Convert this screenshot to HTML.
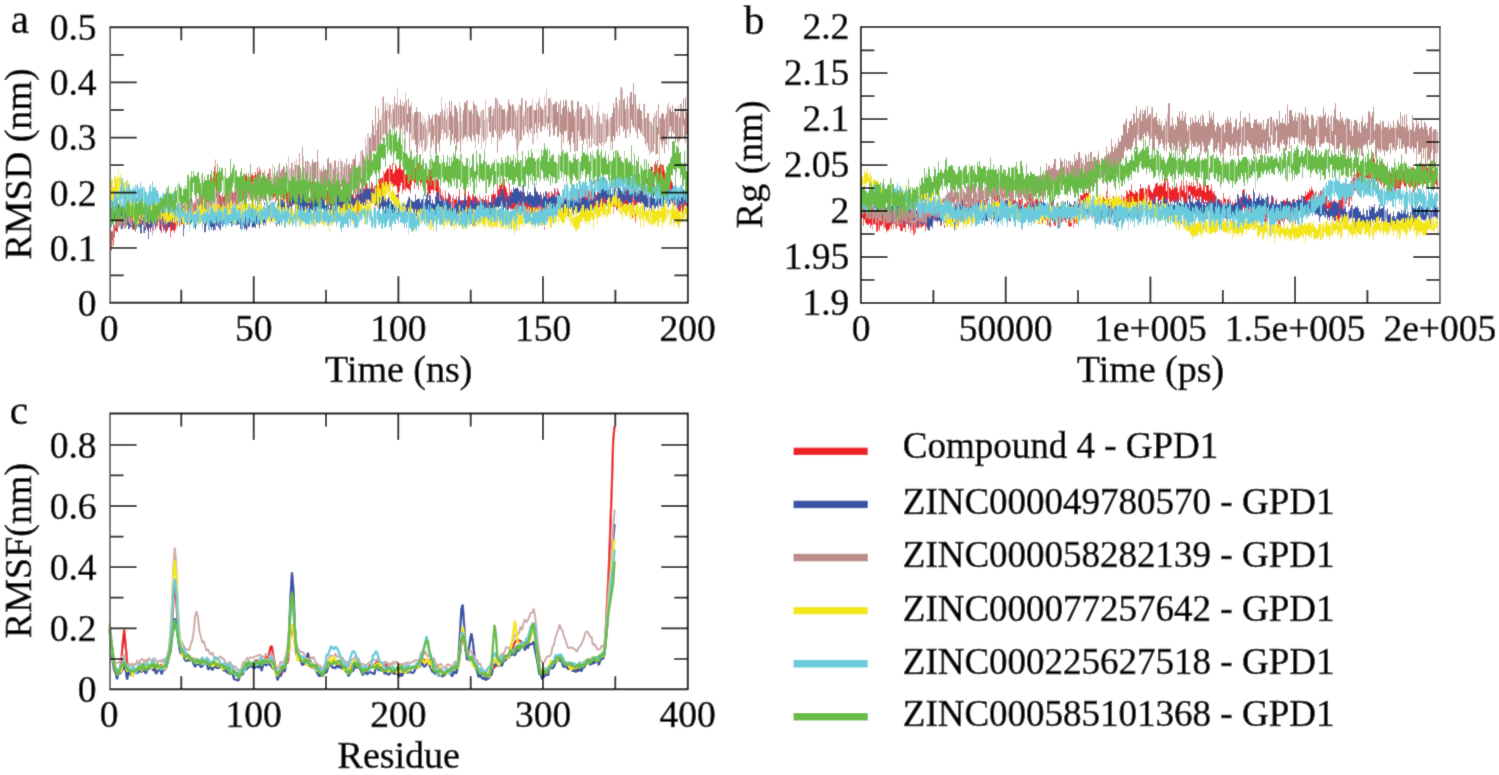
<!DOCTYPE html><html><head><meta charset="utf-8"><style>html,body{margin:0;padding:0;background:#fff;overflow:hidden}body{width:1499px;height:775px;position:relative}</style></head><body><svg width="1499" height="775" viewBox="0 0 1499 775" style="position:absolute;left:0;top:0;font-family:'Liberation Serif',serif">
<defs><filter id="cv" x="0" y="0" width="1499" height="775" filterUnits="userSpaceOnUse"><feConvolveMatrix order="3" kernelMatrix="1 2 1 2 20 2 1 2 1" divisor="32" edgeMode="duplicate"/></filter></defs><g filter="url(#cv)">
<rect width="1499" height="775" fill="#fff"/>
<g>
<path d="M111.50 231.0V250.6M112.50 231.7V240.2M113.50 221.5V245.7M114.50 225.7V237.7M115.50 224.0V231.0M116.50 222.2V232.4M117.50 215.8V232.0M119.50 214.2V225.9M121.50 215.5V227.8M123.50 213.9V223.5M124.50 214.2V224.1M125.50 213.5V223.1M126.50 215.1V222.6M127.50 212.7V223.3M128.50 208.9V218.3M129.50 209.5V228.8M130.50 210.6V222.7M131.50 214.6V221.2M132.50 212.8V222.0M133.50 209.6V229.7M134.50 204.0V229.7M135.50 213.3V222.7M136.50 212.3V220.8M137.50 212.3V222.8M139.50 207.6V224.2M141.50 214.3V222.4M142.50 212.6V224.9M143.50 211.8V222.6M144.50 210.9V222.2M145.50 212.3V223.9M146.50 214.0V227.5M147.50 215.2V225.2M148.50 213.9V225.2M149.50 216.7V228.4M150.50 217.5V226.9M151.50 214.7V227.7M153.50 212.2V230.5M154.50 213.7V221.4M155.50 216.7V228.9M156.50 212.1V225.2M157.50 216.4V226.3M159.50 212.7V229.1M161.50 217.4V233.4M162.50 218.9V226.4M163.50 216.7V231.1M164.50 219.4V229.3M166.50 219.1V231.7M167.50 221.2V231.0M168.50 215.8V227.2M169.50 211.1V227.2M170.50 216.2V237.3M171.50 222.8V231.1M172.50 217.7V230.5M173.50 220.3V230.4M174.50 220.8V233.0M175.50 218.1V229.9M176.50 213.5V227.1M177.50 215.0V225.6M178.50 213.7V218.1M179.50 208.8V226.7M180.50 208.8V222.4M181.50 209.3V224.5M182.50 208.2V224.0M183.50 206.1V218.0M184.50 211.9V223.2M185.50 205.1V220.1M186.50 197.9V215.4M187.50 203.5V221.0M188.50 202.9V217.0M189.50 205.6V221.4M190.50 208.8V221.7M191.50 198.3V217.9M193.50 204.0V219.9M194.50 203.3V222.0M195.50 203.6V213.9M196.50 196.1V214.0M197.50 207.6V218.3M199.50 195.4V213.2M200.50 195.7V215.1M201.50 195.0V207.8M202.50 199.8V219.8M203.50 196.3V213.1M204.50 184.2V208.3M205.50 186.9V207.2M206.50 188.6V197.9M207.50 181.9V202.3M208.50 182.5V199.1M209.50 180.5V201.9M210.50 174.4V209.0M211.50 179.5V195.8M212.50 179.1V194.7M213.50 175.9V194.7M214.50 166.7V189.8M216.50 172.8V197.5M218.50 180.7V200.4M219.50 190.2V208.1M220.50 195.6V210.6M221.50 197.1V211.1M222.50 196.8V212.0M223.50 196.6V207.5M224.50 195.2V209.6M225.50 196.7V214.3M226.50 193.8V214.4M227.50 189.7V207.0M228.50 200.0V209.6M229.50 198.3V211.5M230.50 189.0V210.3M231.50 191.9V210.3M232.50 192.0V219.9M233.50 195.2V211.1M234.50 192.5V203.5M235.50 192.2V210.4M236.50 183.3V205.7M237.50 192.1V206.9M238.50 189.0V200.2M239.50 184.0V196.1M240.50 182.5V198.4M242.50 185.2V199.1M243.50 182.9V200.0M244.50 182.0V200.0M245.50 175.1V189.3M246.50 173.5V198.1M247.50 178.6V189.7M248.50 173.2V193.7M249.50 177.1V196.6M250.50 176.7V191.6M251.50 175.0V193.8M252.50 172.8V188.0M254.50 175.0V198.2M255.50 171.9V198.2M257.50 167.7V187.4M258.50 172.1V192.7M259.50 169.8V192.5M260.50 169.8V195.8M261.50 177.7V190.4M262.50 175.6V194.9M263.50 176.0V192.0M265.50 176.3V199.7M266.50 178.4V188.8M267.50 178.8V193.8M268.50 173.1V193.8M269.50 168.4V196.2M271.50 181.0V192.0M273.50 181.5V198.4M274.50 188.6V196.7M276.50 173.2V194.8M277.50 182.4V199.8M278.50 180.3V204.3M279.50 177.9V195.4M280.50 183.4V201.1M281.50 179.3V198.0M282.50 182.5V197.4M283.50 185.5V201.3M284.50 181.5V201.2M285.50 185.3V197.9M286.50 177.7V203.1M287.50 191.4V211.0M289.50 185.5V205.8M290.50 188.9V211.6M291.50 194.0V201.1M292.50 185.8V205.9M294.50 186.4V203.9M295.50 185.9V206.2M296.50 193.7V209.0M297.50 194.0V208.1M298.50 189.8V211.0M299.50 193.8V209.1M300.50 189.8V205.6M301.50 189.2V202.0M302.50 190.6V212.9M304.50 191.1V211.6M305.50 192.0V205.9M306.50 193.0V213.4M307.50 192.3V211.2M308.50 187.1V209.6M309.50 197.4V210.2M310.50 188.5V208.5M311.50 185.0V213.6M312.50 176.5V210.8M313.50 187.1V205.2M314.50 190.9V211.7M315.50 197.8V211.7M316.50 187.1V201.1M317.50 194.7V205.2M320.50 191.7V212.9M321.50 194.5V209.6M322.50 191.8V207.7M323.50 191.2V212.8M324.50 192.0V212.2M325.50 193.4V200.3M326.50 185.3V219.6M327.50 190.3V205.4M329.50 191.2V205.2M330.50 193.9V209.4M331.50 193.0V202.8M332.50 189.8V215.7M333.50 189.8V208.0M334.50 188.8V208.0M335.50 193.1V208.0M336.50 185.7V199.1M337.50 186.5V199.1M338.50 186.0V205.4M339.50 186.0V211.9M340.50 184.1V203.3M341.50 190.6V207.3M342.50 190.6V208.6M343.50 196.1V209.2M344.50 193.4V205.7M345.50 194.9V210.0M346.50 195.6V212.9M347.50 194.2V211.2M348.50 191.1V211.5M349.50 190.3V208.1M350.50 191.1V206.8M351.50 194.5V209.1M352.50 194.0V208.2M353.50 194.5V208.2M354.50 199.0V212.0M355.50 190.8V208.2M357.50 182.5V214.9M358.50 194.3V214.5M359.50 195.7V220.8M360.50 189.2V207.6M362.50 190.0V202.4M363.50 186.4V197.9M364.50 188.5V203.0M365.50 191.3V210.6M366.50 182.8V205.9M368.50 189.7V199.3M371.50 181.6V202.3M372.50 183.3V203.5M373.50 188.6V197.0M374.50 186.0V209.7M375.50 185.8V205.0M376.50 181.6V200.5M377.50 188.1V207.2M378.50 179.0V195.0M379.50 180.6V196.1M380.50 178.3V198.5M381.50 178.3V196.0M382.50 177.3V198.6M384.50 173.4V191.8M385.50 171.6V190.0M386.50 169.7V190.0M387.50 167.9V187.2M388.50 168.9V191.2M390.50 165.1V181.6M391.50 169.1V184.3M392.50 163.5V187.1M393.50 173.4V187.0M394.50 171.2V185.9M395.50 163.5V185.3M396.50 166.1V186.7M397.50 169.2V192.8M398.50 168.1V202.4M399.50 163.2V191.4M400.50 163.2V185.8M401.50 169.3V182.6M402.50 170.3V193.7M403.50 164.1V190.0M405.50 174.5V191.2M406.50 167.6V187.8M407.50 164.8V188.7M408.50 168.9V189.1M409.50 176.6V190.6M410.50 168.7V193.4M411.50 168.7V185.1M412.50 169.3V181.1M414.50 172.9V188.8M415.50 168.0V183.0M416.50 166.6V181.1M417.50 165.2V184.4M418.50 162.8V189.5M419.50 164.5V177.4M420.50 162.2V185.5M421.50 169.8V182.8M422.50 167.4V176.9M423.50 167.2V190.1M424.50 169.2V189.7M425.50 163.1V179.8M426.50 165.7V183.2M427.50 176.3V191.2M428.50 175.6V196.5M429.50 170.0V193.7M430.50 173.9V193.8M431.50 169.4V189.9M432.50 166.5V189.9M433.50 180.4V193.1M435.50 168.7V190.7M436.50 179.2V195.2M437.50 176.3V197.1M438.50 181.1V200.2M440.50 188.3V199.5M441.50 196.1V208.2M443.50 196.5V211.2M445.50 190.6V207.0M447.50 198.6V218.5M448.50 193.8V212.5M449.50 193.9V218.5M450.50 195.4V211.6M451.50 202.1V215.0M452.50 197.8V211.3M454.50 199.2V215.1M455.50 199.1V213.2M456.50 196.5V212.2M458.50 204.5V211.4M459.50 189.1V212.6M460.50 203.1V219.8M461.50 200.0V211.3M462.50 200.1V215.0M463.50 204.0V216.3M464.50 190.4V211.7M465.50 188.5V213.0M466.50 200.0V208.3M467.50 196.0V209.2M468.50 191.7V210.8M469.50 195.3V216.8M470.50 197.4V216.6M472.50 194.3V225.7M473.50 194.3V225.1M474.50 196.7V210.8M475.50 198.2V211.1M476.50 197.0V208.9M477.50 198.5V214.3M478.50 200.6V219.9M480.50 202.6V217.5M481.50 198.9V217.5M482.50 198.9V219.0M484.50 200.0V221.9M485.50 195.1V216.5M486.50 199.6V211.7M488.50 195.6V217.8M489.50 203.3V214.5M490.50 202.0V223.4M491.50 194.5V213.7M492.50 194.6V213.7M493.50 190.3V211.8M494.50 194.3V223.9M495.50 193.7V206.8M496.50 198.2V211.7M497.50 183.9V205.9M498.50 189.5V215.9M499.50 185.2V196.8M500.50 184.9V200.5M501.50 183.3V200.5M503.50 182.1V196.2M504.50 179.1V197.8M505.50 186.2V209.0M506.50 188.7V202.0M507.50 192.7V202.6M508.50 197.7V209.8M509.50 183.8V207.8M510.50 192.2V209.6M511.50 189.8V209.1M512.50 196.1V215.7M513.50 192.4V210.7M514.50 196.9V215.9M515.50 192.2V211.9M516.50 199.6V211.9M517.50 195.0V205.8M518.50 196.9V212.9M519.50 199.3V215.0M520.50 189.9V215.0M521.50 192.2V209.2M522.50 192.1V214.9M523.50 199.4V213.0M524.50 199.4V209.5M525.50 200.1V214.1M526.50 201.1V210.6M527.50 199.2V216.2M528.50 199.2V213.7M529.50 202.9V217.2M530.50 200.2V216.2M531.50 198.3V214.1M532.50 201.6V215.9M533.50 201.6V222.9M534.50 190.1V221.3M535.50 200.7V222.9M537.50 197.0V214.5M539.50 197.5V221.6M540.50 202.1V220.8M541.50 194.6V216.2M542.50 199.1V212.7M543.50 192.8V223.8M544.50 199.9V229.5M545.50 197.9V212.3M546.50 198.1V215.3M548.50 192.4V206.5M550.50 196.3V219.9M551.50 191.2V210.7M552.50 192.9V217.6M554.50 193.0V209.2M557.50 188.0V207.0M558.50 190.6V210.3M559.50 192.9V211.2M560.50 197.7V218.1M561.50 197.4V218.6M562.50 198.8V219.0M563.50 198.8V213.7M564.50 198.2V219.7M565.50 197.3V208.4M566.50 186.0V211.2M567.50 195.0V214.4M568.50 200.0V207.9M569.50 198.0V216.6M570.50 197.2V207.6M572.50 197.9V212.7M573.50 197.0V212.3M575.50 197.0V212.0M576.50 193.5V211.1M577.50 192.8V211.6M578.50 189.5V210.5M579.50 190.2V209.2M581.50 191.6V209.9M582.50 187.7V204.6M583.50 194.5V216.3M585.50 186.7V214.9M586.50 189.9V212.4M587.50 189.4V204.2M588.50 189.5V202.7M589.50 191.5V210.3M590.50 194.1V215.4M591.50 190.6V201.6M592.50 192.9V211.3M593.50 188.5V208.1M594.50 186.9V209.7M595.50 180.4V206.5M596.50 197.1V212.6M597.50 187.1V209.5M598.50 188.8V209.5M599.50 187.4V207.1M600.50 186.2V211.5M601.50 192.6V206.5M602.50 189.0V212.5M603.50 195.7V208.9M604.50 194.1V203.7M605.50 194.7V210.6M606.50 187.5V203.5M607.50 191.6V200.0M608.50 194.5V212.4M609.50 189.8V203.5M610.50 193.2V214.9M611.50 194.1V205.8M612.50 192.3V207.0M614.50 185.2V206.6M615.50 179.1V200.7M616.50 196.8V210.1M617.50 189.5V210.1M618.50 183.5V207.9M619.50 190.5V207.7M620.50 190.5V207.3M621.50 191.4V203.2M622.50 189.3V206.8M623.50 194.4V209.0M624.50 188.7V210.1M625.50 183.8V208.7M626.50 188.3V209.1M627.50 184.4V205.4M628.50 190.7V204.2M629.50 190.0V202.5M631.50 192.0V202.9M632.50 193.4V217.8M634.50 188.1V205.7M635.50 194.7V222.8M636.50 193.7V206.5M637.50 186.2V206.0M638.50 186.2V202.5M639.50 190.4V202.5M640.50 183.1V203.7M641.50 177.4V199.7M642.50 179.2V195.8M644.50 183.5V197.1M645.50 183.5V198.7M646.50 185.9V199.7M647.50 178.6V204.2M648.50 176.9V197.8M650.50 172.6V190.6M651.50 166.9V187.6M652.50 166.9V185.3M653.50 171.9V187.1M654.50 164.4V187.1M655.50 161.2V176.6M656.50 164.1V180.8M657.50 159.9V175.1M658.50 167.8V189.6M659.50 165.2V189.6M660.50 163.6V185.6M661.50 164.3V184.0M662.50 164.9V190.5M663.50 164.9V184.6M664.50 170.1V181.1M665.50 173.8V183.7M667.50 170.2V186.4M668.50 172.3V189.8M669.50 174.5V194.8M670.50 176.7V194.2M671.50 180.3V201.2M672.50 182.8V209.9M673.50 187.9V208.4M674.50 190.5V206.2M675.50 192.9V204.8M676.50 195.4V208.2M678.50 195.1V213.2M679.50 191.3V211.6M680.50 185.5V211.6M681.50 195.2V208.3M682.50 187.2V213.6M683.50 191.4V210.2M684.50 191.5V206.4M685.50 186.0V205.1M686.50 192.0V205.9" fill="none" stroke="#ec2027" stroke-width="1.0"/>
<path d="M118.50 215.8V225.7M120.50 212.0V225.9M122.50 213.1V225.2M138.50 207.0V222.4M140.50 212.2V224.5M152.50 214.6V235.4M158.50 216.2V221.9M160.50 212.7V231.3M165.50 213.6V231.7M192.50 202.4V217.9M198.50 199.0V216.3M215.50 159.6V188.4M217.50 175.9V195.1M241.50 178.8V198.4M253.50 176.0V189.5M256.50 176.7V192.0M264.50 169.9V193.3M270.50 169.3V189.4M272.50 184.3V199.9M275.50 176.2V203.6M288.50 189.4V217.4M293.50 185.8V201.0M303.50 186.3V205.8M318.50 188.1V208.5M319.50 192.1V210.8M328.50 181.6V208.8M356.50 193.7V207.9M361.50 189.5V206.2M367.50 183.6V204.2M369.50 183.1V201.4M370.50 187.7V198.6M383.50 170.8V189.2M389.50 164.9V191.2M404.50 164.1V189.7M413.50 168.3V181.5M434.50 174.7V189.7M439.50 186.8V203.3M442.50 191.6V216.5M444.50 198.5V213.3M446.50 198.1V211.0M453.50 194.0V209.0M457.50 200.0V214.2M471.50 202.1V216.6M479.50 194.4V217.9M483.50 196.2V214.9M487.50 203.0V218.6M502.50 185.8V201.5M536.50 200.4V222.9M538.50 193.6V217.4M547.50 193.3V210.3M549.50 191.5V219.9M553.50 194.6V212.9M555.50 188.7V203.1M556.50 192.0V207.1M571.50 185.7V208.3M574.50 193.2V208.1M580.50 194.6V204.3M584.50 188.4V214.9M613.50 193.4V214.3M630.50 189.6V200.8M633.50 193.4V212.2M643.50 183.0V195.8M649.50 171.9V195.4M666.50 167.6V192.8M677.50 189.9V209.2" fill="none" stroke="#ec2027" stroke-width="1.0" stroke-opacity="0.55"/>
<path d="M111.50 202.0V208.2M112.50 201.1V214.2M113.50 198.2V214.2M114.50 197.4V219.7M115.50 202.1V217.9M116.50 202.1V217.9M117.50 204.2V214.4M118.50 203.6V216.1M119.50 207.5V215.4M120.50 207.4V219.5M121.50 207.1V229.1M122.50 209.7V229.1M123.50 209.1V225.1M124.50 212.8V225.1M125.50 208.1V224.2M126.50 212.7V225.8M127.50 202.5V225.1M128.50 210.3V229.2M129.50 216.7V228.6M130.50 220.0V226.9M131.50 215.4V226.5M132.50 219.0V229.7M133.50 217.0V225.8M135.50 214.0V231.6M136.50 218.3V226.4M137.50 211.8V226.4M139.50 220.7V227.2M140.50 219.6V233.5M141.50 216.1V233.5M142.50 213.5V223.6M144.50 221.7V233.1M145.50 220.1V230.2M146.50 212.9V226.3M147.50 213.2V230.7M148.50 210.2V239.0M149.50 218.0V226.8M150.50 216.6V232.2M151.50 218.7V227.1M153.50 214.5V230.0M154.50 211.8V223.6M155.50 211.8V229.5M156.50 215.0V225.9M157.50 208.3V223.5M158.50 210.3V220.9M159.50 208.0V221.0M160.50 207.4V230.3M161.50 213.6V223.6M162.50 215.0V223.6M164.50 205.7V225.6M165.50 213.4V233.3M166.50 206.4V222.7M167.50 209.4V228.1M168.50 209.6V228.1M169.50 212.2V226.3M171.50 206.1V223.4M172.50 214.1V223.4M173.50 208.7V229.0M174.50 204.9V219.7M175.50 209.5V219.3M176.50 210.5V219.6M177.50 211.0V219.9M178.50 207.0V219.0M179.50 209.7V221.6M180.50 209.3V222.7M181.50 210.7V223.3M183.50 210.2V236.4M185.50 208.9V221.2M186.50 208.1V218.1M187.50 209.4V224.5M188.50 210.2V222.2M189.50 210.9V222.3M190.50 212.0V224.6M191.50 198.4V222.8M192.50 212.6V221.1M193.50 209.8V222.0M194.50 209.7V222.4M195.50 208.7V229.2M196.50 207.8V218.0M197.50 207.8V218.9M198.50 202.3V219.3M199.50 204.8V223.3M201.50 208.1V218.4M202.50 204.1V218.7M203.50 205.5V221.9M204.50 208.4V232.2M205.50 209.7V232.2M206.50 212.1V225.3M207.50 215.7V222.7M208.50 216.3V227.9M210.50 212.9V226.8M211.50 212.9V230.0M212.50 217.8V227.2M213.50 217.1V231.0M214.50 217.1V229.7M216.50 215.4V226.0M218.50 216.8V227.2M219.50 214.0V229.1M220.50 215.2V230.6M221.50 211.0V224.2M222.50 214.7V226.8M223.50 213.0V224.4M224.50 206.6V223.9M225.50 206.3V222.7M226.50 212.8V223.5M228.50 208.1V221.6M229.50 214.0V223.0M230.50 205.9V223.0M231.50 211.0V226.5M232.50 211.0V225.9M233.50 204.9V218.5M234.50 205.7V222.3M235.50 212.1V224.9M236.50 209.5V222.1M237.50 209.5V224.7M238.50 209.7V224.5M239.50 208.0V224.2M240.50 213.2V228.6M241.50 212.2V225.1M242.50 216.3V228.8M243.50 208.7V225.6M244.50 211.5V229.5M245.50 216.4V228.1M246.50 216.3V230.9M248.50 218.8V226.7M249.50 217.4V226.9M251.50 213.2V222.4M252.50 209.9V228.0M253.50 208.7V227.4M254.50 212.4V226.7M255.50 210.9V228.2M256.50 212.3V223.7M257.50 208.7V223.6M258.50 212.7V223.6M259.50 206.9V228.4M260.50 206.0V221.6M262.50 211.2V222.6M263.50 211.7V225.4M264.50 202.3V222.9M265.50 208.1V225.7M266.50 208.0V220.9M267.50 209.0V221.0M268.50 205.8V217.2M269.50 205.4V218.9M271.50 211.4V221.4M272.50 211.4V221.8M273.50 210.5V219.3M275.50 207.6V220.9M276.50 211.1V226.5M277.50 211.2V223.1M278.50 200.5V219.1M279.50 207.1V225.5M280.50 205.4V215.6M281.50 199.2V219.6M282.50 200.3V214.0M283.50 202.4V212.2M284.50 192.1V211.5M285.50 205.5V215.5M286.50 204.8V214.4M287.50 201.1V212.5M288.50 198.4V216.7M291.50 194.2V210.3M292.50 194.4V204.1M293.50 192.8V204.7M296.50 192.5V203.7M297.50 198.2V210.0M298.50 189.0V206.2M299.50 197.5V205.9M300.50 197.9V211.9M301.50 194.8V211.9M302.50 194.4V210.0M303.50 194.4V212.9M304.50 197.9V212.4M305.50 197.6V216.0M306.50 197.2V210.8M307.50 197.6V212.3M309.50 202.5V215.1M310.50 198.9V211.4M311.50 198.9V211.8M312.50 190.4V209.4M313.50 197.1V210.1M314.50 195.9V214.9M315.50 197.0V211.9M316.50 201.3V214.4M317.50 203.1V220.0M318.50 196.2V218.1M319.50 201.9V212.4M320.50 197.7V214.9M321.50 197.7V218.5M322.50 196.8V208.6M323.50 200.5V217.9M324.50 201.0V214.5M325.50 205.4V213.4M326.50 201.1V215.9M327.50 203.1V216.4M328.50 204.5V218.3M330.50 203.7V217.0M331.50 202.9V218.1M332.50 202.8V212.3M333.50 201.0V216.4M334.50 200.1V216.4M335.50 199.7V213.6M336.50 201.9V212.7M337.50 195.7V210.7M338.50 197.0V210.3M339.50 200.1V208.8M340.50 200.1V215.0M341.50 195.0V209.6M343.50 191.9V210.4M344.50 193.7V210.1M345.50 193.7V202.8M347.50 189.3V210.9M348.50 189.3V208.9M349.50 195.0V208.4M350.50 197.0V208.9M351.50 194.3V212.0M353.50 197.1V208.2M354.50 198.0V215.6M355.50 199.0V215.6M356.50 195.7V203.1M357.50 187.9V202.7M359.50 188.8V201.6M360.50 188.9V205.5M361.50 189.8V205.5M363.50 190.1V206.0M364.50 191.0V208.9M365.50 183.0V209.9M366.50 189.2V205.2M367.50 188.4V199.7M368.50 188.3V199.2M369.50 185.7V201.1M370.50 189.6V203.1M372.50 189.8V200.1M373.50 193.0V200.7M374.50 186.3V203.1M375.50 189.8V205.9M376.50 193.2V205.0M378.50 190.3V210.2M379.50 197.0V213.5M380.50 198.8V208.8M381.50 197.2V206.3M382.50 196.4V217.9M383.50 193.3V213.4M384.50 194.0V206.8M385.50 198.2V214.4M386.50 201.7V207.8M387.50 199.0V210.9M388.50 196.2V214.9M389.50 197.4V214.9M391.50 201.5V215.5M392.50 204.0V220.5M393.50 200.9V220.5M394.50 207.3V220.2M395.50 202.0V217.1M396.50 194.6V216.3M397.50 194.6V218.5M398.50 203.5V218.5M399.50 203.5V212.7M400.50 206.4V219.6M401.50 207.5V221.3M402.50 204.2V221.3M403.50 203.1V213.2M404.50 204.9V220.9M405.50 204.9V213.9M406.50 203.7V216.7M407.50 200.6V212.0M408.50 197.6V210.9M409.50 196.0V214.2M411.50 199.9V210.9M412.50 201.3V209.1M413.50 201.7V213.4M414.50 201.3V212.5M415.50 194.1V214.3M416.50 199.9V216.1M417.50 199.0V212.0M418.50 198.7V211.0M419.50 198.4V212.6M420.50 202.6V213.7M421.50 199.5V215.4M422.50 199.2V210.0M425.50 199.2V209.3M426.50 195.2V211.6M427.50 192.1V209.8M428.50 200.1V211.8M429.50 195.3V220.8M430.50 195.3V210.6M431.50 203.4V214.8M432.50 199.7V214.2M433.50 203.2V210.7M434.50 204.1V213.3M435.50 196.6V215.5M436.50 193.3V209.4M437.50 191.9V210.1M438.50 191.9V204.3M439.50 200.7V207.9M440.50 200.7V209.5M441.50 195.4V210.1M442.50 198.6V207.7M443.50 198.2V211.6M444.50 202.5V210.9M445.50 201.7V212.1M446.50 200.4V212.1M447.50 199.7V210.3M448.50 192.7V214.6M449.50 204.2V211.0M450.50 202.9V218.3M451.50 202.8V219.5M452.50 207.9V220.1M454.50 205.5V215.2M455.50 204.9V216.6M456.50 199.2V215.0M457.50 202.9V215.9M458.50 196.5V214.2M459.50 199.2V220.0M460.50 200.3V214.9M461.50 202.4V212.5M462.50 204.9V213.5M463.50 200.0V219.7M464.50 197.6V215.0M465.50 194.4V212.8M466.50 199.9V215.6M467.50 208.6V221.6M468.50 208.4V215.5M470.50 200.7V214.1M471.50 199.7V215.6M472.50 199.7V211.8M473.50 202.9V211.0M474.50 203.2V225.5M475.50 195.5V225.5M476.50 198.9V215.9M477.50 203.3V213.9M478.50 203.5V213.1M479.50 201.5V214.6M480.50 201.5V220.7M481.50 204.6V220.7M482.50 201.9V217.0M484.50 200.4V217.4M485.50 202.0V215.0M486.50 203.1V211.3M489.50 201.8V212.2M490.50 202.2V218.9M491.50 197.1V208.7M492.50 202.0V218.0M493.50 204.5V212.6M494.50 197.1V212.4M495.50 199.4V216.6M496.50 197.5V207.4M497.50 195.4V207.2M498.50 194.9V208.1M499.50 196.7V206.6M500.50 189.3V206.3M502.50 186.9V208.2M503.50 193.3V209.9M504.50 193.3V207.5M507.50 195.9V210.9M508.50 195.9V210.6M510.50 196.1V206.3M511.50 192.5V206.9M512.50 192.3V204.1M513.50 187.5V202.6M514.50 189.1V202.9M515.50 188.0V204.1M516.50 188.0V207.2M517.50 186.8V209.8M518.50 189.3V202.6M519.50 191.5V201.5M520.50 191.1V209.1M521.50 191.5V203.1M523.50 184.8V205.8M524.50 192.6V204.8M525.50 196.2V203.5M526.50 196.0V201.1M527.50 190.8V204.1M528.50 194.3V205.3M529.50 192.2V206.7M530.50 192.1V204.2M531.50 195.3V207.2M532.50 195.2V208.6M533.50 196.4V210.3M534.50 183.1V208.2M535.50 187.6V207.1M536.50 191.2V207.4M537.50 192.1V205.5M538.50 194.5V205.5M539.50 195.1V208.0M540.50 192.3V206.6M542.50 198.8V212.1M543.50 193.3V207.5M544.50 196.1V216.7M545.50 191.4V216.7M546.50 191.4V206.8M547.50 199.0V212.0M548.50 197.0V204.4M549.50 197.4V212.9M550.50 197.4V211.8M551.50 197.5V210.0M552.50 196.2V208.2M553.50 194.4V206.3M554.50 188.3V215.3M555.50 197.3V215.3M556.50 196.6V213.2M557.50 198.5V210.6M558.50 193.5V209.2M559.50 193.5V212.2M560.50 199.6V206.0M562.50 194.4V210.4M563.50 200.4V210.4M564.50 199.8V215.3M565.50 197.4V209.3M566.50 196.3V213.0M567.50 200.1V215.9M568.50 203.0V216.5M569.50 198.8V210.7M570.50 194.4V208.9M571.50 201.2V208.3M572.50 199.6V212.9M573.50 200.6V214.9M574.50 200.0V210.1M575.50 198.0V211.0M576.50 196.8V207.4M577.50 196.8V213.3M578.50 195.6V212.3M579.50 196.0V212.3M580.50 202.5V210.5M581.50 197.8V212.1M582.50 192.0V208.9M583.50 197.2V211.7M584.50 194.1V213.0M585.50 198.5V213.3M586.50 198.1V214.1M587.50 199.7V210.3M588.50 200.0V210.3M589.50 195.9V210.7M590.50 200.9V207.3M591.50 199.2V213.7M592.50 193.8V214.3M594.50 189.8V203.4M595.50 198.7V208.2M596.50 194.9V207.8M598.50 193.6V206.4M599.50 193.6V204.0M600.50 190.7V200.5M601.50 188.2V204.6M602.50 187.5V204.1M603.50 187.5V198.7M604.50 188.6V197.4M605.50 185.3V200.3M606.50 188.4V205.9M607.50 191.9V199.5M608.50 189.4V203.2M609.50 192.0V202.6M610.50 186.4V203.2M611.50 194.0V205.9M612.50 188.3V205.1M614.50 187.7V202.7M615.50 191.0V202.5M617.50 190.1V201.8M618.50 187.7V200.7M619.50 187.9V205.4M620.50 189.4V204.9M622.50 192.6V201.5M623.50 188.3V205.6M624.50 187.5V202.0M625.50 187.5V200.4M627.50 187.4V200.6M628.50 190.3V204.6M629.50 191.9V203.1M630.50 188.7V202.9M631.50 192.9V214.9M632.50 190.8V195.7M633.50 192.6V197.4M634.50 192.8V201.3M635.50 186.3V201.6M636.50 191.7V205.9M637.50 187.5V200.8M638.50 191.0V202.0M640.50 187.8V203.1M641.50 187.8V202.8M642.50 192.4V204.2M643.50 191.8V204.2M644.50 195.2V210.7M645.50 195.5V207.0M646.50 195.1V209.5M647.50 194.9V208.0M650.50 192.1V208.2M651.50 192.1V211.5M652.50 197.8V205.6M653.50 191.5V207.6M654.50 198.5V209.8M655.50 192.5V208.4M656.50 193.3V205.8M657.50 192.7V206.9M659.50 197.8V204.6M660.50 190.2V206.5M661.50 193.6V211.3M662.50 190.7V204.1M663.50 189.8V206.5M664.50 191.2V203.1M665.50 193.8V209.2M667.50 188.6V206.6M668.50 195.0V207.0M669.50 189.8V204.7M670.50 190.8V203.6M671.50 191.1V198.9M672.50 186.0V207.2M674.50 188.2V200.1M675.50 188.5V201.9M676.50 189.9V201.7M677.50 190.7V206.8M679.50 190.9V207.0M680.50 190.9V204.6M681.50 190.7V204.2M682.50 190.7V211.5M683.50 189.4V201.3M684.50 193.0V205.0" fill="none" stroke="#3853a4" stroke-width="1.0"/>
<path d="M134.50 217.4V227.4M138.50 211.8V227.8M143.50 216.8V233.1M152.50 213.0V227.1M163.50 217.1V230.8M170.50 208.7V222.5M182.50 203.7V217.9M184.50 212.6V228.3M200.50 206.7V220.5M209.50 214.4V231.1M215.50 217.3V230.3M217.50 208.1V226.0M227.50 209.0V222.2M247.50 217.9V228.9M250.50 213.8V222.8M261.50 205.0V220.1M270.50 205.9V219.1M274.50 207.6V223.7M289.50 198.1V207.6M290.50 194.8V211.5M294.50 191.3V203.8M295.50 193.9V212.4M308.50 197.6V215.1M329.50 208.0V226.4M342.50 200.3V208.6M346.50 197.9V210.6M352.50 198.1V211.1M358.50 189.3V203.0M362.50 191.0V207.2M371.50 185.7V203.1M377.50 193.3V206.4M390.50 200.9V209.6M410.50 199.1V212.7M423.50 194.7V210.4M424.50 202.3V217.3M453.50 208.2V222.0M469.50 203.6V213.5M483.50 200.4V215.9M487.50 200.2V216.4M488.50 204.4V214.6M501.50 188.3V203.2M505.50 198.1V214.7M506.50 198.5V210.9M509.50 194.5V206.4M522.50 184.8V203.8M541.50 196.5V205.1M561.50 197.3V210.3M593.50 193.8V211.0M597.50 192.8V204.1M613.50 191.0V202.9M616.50 190.8V200.4M621.50 190.8V203.0M626.50 192.6V203.2M639.50 190.4V202.0M648.50 197.3V207.1M649.50 197.4V209.7M658.50 197.5V214.4M666.50 190.8V203.8M673.50 192.6V205.4M678.50 193.4V208.5M685.50 193.3V202.7M686.50 191.1V207.7" fill="none" stroke="#3853a4" stroke-width="1.0" stroke-opacity="0.55"/>
<path d="M113.50 226.5V239.1M115.50 220.4V228.2M117.50 219.0V228.4M118.50 216.7V227.8M119.50 213.8V225.9M121.50 216.2V226.1M123.50 215.7V226.0M124.50 214.9V228.6M125.50 218.1V228.6M126.50 216.0V226.5M128.50 213.9V222.2M129.50 213.7V224.2M130.50 213.8V225.5M131.50 212.4V227.3M134.50 210.8V223.3M137.50 216.3V225.5M138.50 215.4V224.8M141.50 211.7V223.8M144.50 214.3V227.2M145.50 214.0V227.2M148.50 209.8V222.0M149.50 210.4V223.6M150.50 210.4V220.3M153.50 215.4V229.0M157.50 207.4V220.6M158.50 209.2V221.7M159.50 209.9V220.7M161.50 208.2V226.2M164.50 207.0V225.2M165.50 207.3V221.6M167.50 203.0V219.0M170.50 204.2V215.5M174.50 204.8V214.3M175.50 206.4V218.8M176.50 205.0V218.8M179.50 204.0V217.9M181.50 198.8V212.5M182.50 198.3V215.5M184.50 203.2V213.7M188.50 200.3V214.4M189.50 199.6V215.0M191.50 201.2V213.9M193.50 203.6V215.0M194.50 201.7V220.1M196.50 194.7V212.9M197.50 199.0V212.9M199.50 195.9V217.1M200.50 193.6V212.5M202.50 195.2V208.2M203.50 194.6V213.7M205.50 198.2V208.1M206.50 193.4V213.0M208.50 195.2V211.0M211.50 197.2V209.3M213.50 192.6V208.7M217.50 191.6V208.4M218.50 190.4V214.1M222.50 192.9V218.6M225.50 201.4V210.4M226.50 202.1V215.2M227.50 196.0V215.2M228.50 193.2V211.9M229.50 191.3V212.9M230.50 191.3V212.3M231.50 194.0V214.0M233.50 192.7V211.9M235.50 193.7V207.3M236.50 188.1V207.3M237.50 186.3V203.1M238.50 186.3V210.0M241.50 191.1V209.8M244.50 194.1V204.1M247.50 186.2V197.9M250.50 179.0V199.8M252.50 182.0V198.6M253.50 184.0V197.9M255.50 184.3V205.4M256.50 174.2V200.8M259.50 166.6V201.6M260.50 175.4V201.5M263.50 182.3V201.2M264.50 178.3V200.1M265.50 177.4V200.9M269.50 170.8V194.3M270.50 176.8V194.4M276.50 177.5V188.4M277.50 170.2V192.7M279.50 163.1V191.4M280.50 172.4V192.0M281.50 170.0V197.2M282.50 168.9V190.1M283.50 165.6V191.5M284.50 167.2V192.7M285.50 172.0V195.1M286.50 165.5V185.7M291.50 162.8V187.7M293.50 169.5V186.3M295.50 164.7V185.4M297.50 165.2V191.1M298.50 165.2V192.3M299.50 153.0V183.1M300.50 167.6V191.5M302.50 146.7V190.8M305.50 161.4V194.4M307.50 160.9V191.3M310.50 166.1V186.6M312.50 159.3V181.1M313.50 162.4V189.5M314.50 162.4V190.9M315.50 161.9V178.9M317.50 149.9V182.7M320.50 171.1V199.1M321.50 168.5V195.7M322.50 171.7V195.7M323.50 165.3V185.7M324.50 169.6V199.5M325.50 170.2V196.9M326.50 169.9V187.5M327.50 159.1V186.9M328.50 157.7V185.2M330.50 163.1V194.0M333.50 169.4V191.2M334.50 160.5V191.2M335.50 160.5V205.2M338.50 161.1V186.2M341.50 161.3V186.7M344.50 163.2V192.6M346.50 158.6V192.7M348.50 164.7V189.2M349.50 163.3V200.3M350.50 168.2V186.1M351.50 163.9V188.2M353.50 159.1V184.2M354.50 159.1V175.0M355.50 154.5V185.5M356.50 167.6V191.7M357.50 170.3V191.7M358.50 164.8V192.2M359.50 165.9V194.6M362.50 149.8V192.8M363.50 154.8V183.8M369.50 137.9V167.0M370.50 137.3V159.9M372.50 119.7V151.5M373.50 125.5V150.3M374.50 135.3V151.9M375.50 105.9V151.0M377.50 123.3V154.1M378.50 108.2V151.5M380.50 120.0V144.8M383.50 96.6V135.0M385.50 103.4V135.1M386.50 110.4V141.5M389.50 104.6V136.1M393.50 109.1V129.2M394.50 96.4V138.9M396.50 103.6V127.3M398.50 105.6V124.8M400.50 99.4V132.4M401.50 105.7V128.6M403.50 106.1V125.0M404.50 103.2V134.9M406.50 100.3V130.5M407.50 114.1V132.7M408.50 98.2V122.7M409.50 107.0V150.9M410.50 105.2V133.5M414.50 112.1V139.4M415.50 112.1V144.7M416.50 107.1V152.6M417.50 111.7V156.0M420.50 112.0V140.7M421.50 122.6V147.0M423.50 124.6V139.8M425.50 122.1V151.3M429.50 115.5V132.6M431.50 118.5V147.4M432.50 114.7V140.1M433.50 125.1V144.6M435.50 114.6V154.0M436.50 113.0V151.9M438.50 115.7V143.3M439.50 115.7V151.5M440.50 112.2V139.3M442.50 109.5V129.5M444.50 110.7V133.1M446.50 119.4V139.0M449.50 101.1V129.7M450.50 111.3V145.4M451.50 101.2V140.9M452.50 115.8V134.6M454.50 106.1V143.7M455.50 104.8V138.5M456.50 108.2V150.3M457.50 111.5V142.4M460.50 107.5V152.4M463.50 109.9V138.8M464.50 102.3V136.9M465.50 102.9V135.3M466.50 100.2V137.6M469.50 110.6V136.8M470.50 111.4V139.3M471.50 109.2V141.7M473.50 101.4V136.2M474.50 104.3V140.6M476.50 106.2V134.3M477.50 111.1V134.2M478.50 115.1V143.8M479.50 117.3V135.2M483.50 109.7V141.7M489.50 107.3V131.9M490.50 105.9V131.9M492.50 115.7V137.0M493.50 108.9V137.7M495.50 97.6V130.9M497.50 99.6V152.8M499.50 103.5V141.3M501.50 105.9V139.5M502.50 109.4V130.3M503.50 109.4V134.7M504.50 108.6V132.2M507.50 110.5V133.4M508.50 99.4V131.2M509.50 103.3V131.2M510.50 105.2V127.9M512.50 104.1V136.3M513.50 105.3V129.0M515.50 110.8V138.7M517.50 110.0V151.8M520.50 105.7V140.5M521.50 98.0V140.5M523.50 116.4V135.2M525.50 100.5V126.4M527.50 107.6V132.5M529.50 106.2V129.5M530.50 105.8V132.9M531.50 105.1V127.9M534.50 110.1V133.9M535.50 110.1V123.3M536.50 103.1V132.8M538.50 100.9V128.3M540.50 106.3V131.6M541.50 107.5V131.6M542.50 110.1V126.2M545.50 105.2V126.9M547.50 116.5V129.5M548.50 98.7V123.3M549.50 98.4V137.0M553.50 104.1V135.6M554.50 104.1V134.8M555.50 101.8V127.3M556.50 101.8V125.3M557.50 112.4V136.9M558.50 103.2V136.7M560.50 100.3V133.2M561.50 114.6V150.3M562.50 108.0V134.7M563.50 100.3V143.1M564.50 106.1V131.0M565.50 99.8V132.3M566.50 100.6V130.3M568.50 107.0V140.5M569.50 111.4V144.6M570.50 112.5V152.1M571.50 100.4V137.8M572.50 100.4V132.1M573.50 109.2V143.1M574.50 116.3V151.6M577.50 101.6V151.1M578.50 101.6V130.9M580.50 106.3V136.3M581.50 106.9V140.1M582.50 118.9V141.0M583.50 118.5V144.2M584.50 116.7V138.6M588.50 108.5V138.3M589.50 110.3V147.6M591.50 115.8V147.4M597.50 111.7V146.2M599.50 116.3V143.0M601.50 124.0V146.0M606.50 119.2V141.4M607.50 113.9V136.8M611.50 116.9V141.6M612.50 113.2V149.7M613.50 103.3V136.2M614.50 107.6V141.1M616.50 97.5V131.7M619.50 99.8V135.5M621.50 87.3V126.5M623.50 99.9V131.6M624.50 98.1V129.2M625.50 109.4V138.2M627.50 96.5V130.5M630.50 92.0V133.1M631.50 92.0V119.6M632.50 104.5V125.5M633.50 83.2V127.9M635.50 94.5V131.1M637.50 109.5V138.7M638.50 108.4V128.3M639.50 103.6V129.6M640.50 110.3V133.4M641.50 111.0V132.3M644.50 103.8V138.0M645.50 118.0V144.2M647.50 113.1V143.0M648.50 113.1V149.5M651.50 122.4V152.7M653.50 117.5V151.6M656.50 110.7V154.1M657.50 126.9V154.1M658.50 103.9V134.4M660.50 118.5V140.0M661.50 114.1V144.3M662.50 112.8V148.2M663.50 113.6V141.1M664.50 119.0V153.2M666.50 114.0V144.7M667.50 105.3V135.7M669.50 109.2V131.8M670.50 107.3V126.1M671.50 111.9V137.9M672.50 105.1V131.1M673.50 111.8V134.0M675.50 107.5V141.7M676.50 114.8V136.4M677.50 111.6V142.3M679.50 117.3V141.1M680.50 103.7V138.8M682.50 108.6V137.4M683.50 98.7V125.7M684.50 118.4V138.5M685.50 97.5V142.5M686.50 112.0V134.8" fill="none" stroke="#bb8e8a" stroke-width="1.0"/>
<path d="M111.50 231.4V248.7M112.50 230.5V246.4M114.50 224.5V233.0M116.50 217.3V227.3M120.50 215.1V229.6M122.50 215.7V224.3M127.50 211.7V221.2M132.50 213.3V225.8M133.50 210.9V225.4M135.50 216.6V222.9M136.50 204.9V225.3M139.50 209.5V223.9M140.50 213.4V225.7M142.50 211.6V221.1M143.50 211.6V224.7M146.50 211.4V221.9M147.50 208.0V222.6M151.50 214.2V222.6M152.50 216.6V227.0M154.50 211.6V226.1M155.50 211.0V224.5M156.50 210.1V227.8M160.50 209.2V221.8M162.50 205.9V226.2M163.50 212.1V223.0M166.50 202.1V217.5M168.50 201.8V216.2M169.50 209.8V214.8M171.50 202.5V215.0M172.50 203.6V218.3M173.50 199.8V214.1M177.50 204.9V216.3M178.50 201.7V211.9M180.50 199.2V215.8M183.50 201.1V210.8M185.50 197.1V213.7M186.50 201.3V214.1M187.50 196.5V216.1M190.50 198.1V209.9M192.50 199.7V211.9M195.50 196.1V220.1M198.50 192.5V208.5M201.50 189.9V210.7M204.50 197.6V206.1M207.50 196.1V210.0M209.50 195.7V205.0M210.50 197.2V211.4M212.50 192.0V213.6M214.50 190.5V213.5M215.50 189.2V217.3M216.50 191.6V217.3M219.50 191.1V220.2M220.50 195.5V213.2M221.50 195.5V210.2M223.50 204.4V213.0M224.50 199.8V215.2M232.50 189.7V205.2M234.50 189.0V211.7M239.50 187.6V205.7M240.50 192.6V213.8M242.50 189.7V211.8M243.50 192.0V205.0M245.50 181.6V200.8M246.50 182.6V201.3M248.50 187.9V201.4M249.50 179.8V201.1M251.50 186.4V207.5M254.50 186.4V199.9M257.50 174.4V199.5M258.50 173.8V208.8M261.50 177.7V201.4M262.50 172.0V192.6M266.50 178.2V200.9M267.50 183.0V193.9M268.50 175.4V200.8M271.50 176.8V201.1M272.50 163.9V191.2M273.50 173.2V186.3M274.50 180.6V193.5M275.50 175.3V193.6M278.50 165.1V185.6M287.50 166.7V183.0M288.50 156.0V193.9M289.50 168.8V194.6M290.50 168.2V187.7M292.50 162.8V194.0M294.50 160.9V188.1M296.50 158.9V185.4M301.50 172.5V196.2M303.50 156.2V183.5M304.50 168.0V188.5M306.50 160.9V189.0M308.50 161.9V197.4M309.50 161.9V192.6M311.50 163.7V182.4M316.50 161.8V191.7M318.50 161.7V196.8M319.50 168.6V197.8M329.50 163.1V184.1M331.50 162.5V189.4M332.50 165.5V192.9M336.50 167.6V192.6M337.50 166.8V190.4M339.50 172.2V182.0M340.50 158.5V189.0M342.50 161.3V191.7M343.50 166.9V187.4M345.50 165.6V190.4M347.50 164.7V189.3M352.50 159.1V190.5M360.50 151.0V183.7M361.50 151.0V179.5M364.50 156.8V182.1M365.50 137.5V170.0M366.50 145.9V172.2M367.50 133.3V165.9M368.50 133.3V169.5M371.50 133.1V151.0M376.50 130.1V164.8M379.50 119.2V152.5M381.50 114.9V139.8M382.50 96.6V141.4M384.50 111.4V133.4M387.50 102.5V141.5M388.50 110.5V118.6M390.50 104.6V123.9M391.50 112.9V127.3M392.50 104.4V127.3M395.50 103.7V127.3M397.50 87.6V128.8M399.50 104.6V140.0M402.50 102.0V136.1M405.50 92.4V151.4M411.50 101.6V139.7M412.50 113.9V140.7M413.50 117.1V140.1M418.50 111.7V144.8M419.50 112.0V148.7M422.50 115.3V154.6M424.50 118.9V151.3M426.50 128.8V148.6M427.50 120.7V144.9M428.50 112.4V136.0M430.50 119.5V156.6M434.50 114.6V136.1M437.50 114.7V143.9M441.50 96.9V134.0M443.50 116.7V140.3M445.50 102.6V133.1M447.50 107.9V137.6M448.50 116.1V135.8M453.50 117.5V141.0M458.50 122.1V142.0M459.50 101.9V141.2M461.50 121.5V138.6M462.50 114.1V143.7M467.50 100.2V141.2M468.50 108.9V136.3M472.50 114.1V134.0M475.50 104.3V149.1M480.50 111.9V128.1M481.50 110.0V149.1M482.50 109.5V137.0M484.50 119.9V139.7M485.50 99.2V148.2M486.50 116.5V139.6M487.50 118.8V137.4M488.50 107.2V122.5M491.50 105.9V143.9M494.50 107.2V129.3M496.50 97.6V133.9M498.50 108.3V137.7M500.50 104.8V136.8M505.50 111.5V130.2M506.50 115.9V133.8M511.50 106.5V131.9M514.50 109.7V130.0M516.50 116.1V150.7M518.50 106.3V146.5M519.50 103.4V142.8M522.50 98.0V129.8M524.50 111.7V135.2M526.50 100.5V132.5M528.50 107.3V137.3M532.50 98.7V144.2M533.50 109.8V144.2M537.50 109.7V139.1M539.50 96.9V123.1M543.50 108.4V126.2M544.50 96.5V129.5M546.50 89.0V122.7M550.50 97.0V134.9M551.50 101.4V122.6M552.50 104.7V128.6M559.50 104.5V131.7M567.50 110.5V142.5M575.50 111.9V151.6M576.50 109.9V151.1M579.50 108.8V141.1M585.50 104.0V139.1M586.50 104.0V144.1M587.50 106.0V154.7M590.50 114.6V135.4M592.50 105.1V138.5M593.50 117.8V144.0M594.50 124.9V145.0M595.50 123.1V145.0M596.50 114.9V146.2M598.50 102.1V151.9M600.50 122.9V144.1M602.50 114.1V142.1M603.50 112.5V146.9M604.50 113.7V143.6M605.50 114.0V143.6M608.50 120.8V135.9M609.50 118.3V135.5M610.50 117.1V150.9M615.50 97.5V137.8M617.50 103.3V136.3M618.50 108.5V127.8M620.50 87.3V124.8M622.50 89.4V126.6M626.50 104.6V138.2M628.50 109.2V128.5M629.50 97.2V136.9M634.50 94.5V127.5M636.50 104.6V133.5M642.50 119.2V136.1M643.50 103.8V135.7M646.50 117.8V147.2M649.50 121.0V155.7M650.50 121.0V152.6M652.50 125.8V151.6M654.50 112.9V143.9M655.50 115.0V154.7M659.50 117.3V163.4M665.50 116.4V143.7M668.50 101.7V149.4M674.50 111.8V133.8M678.50 105.4V145.9M681.50 103.7V136.2" fill="none" stroke="#bb8e8a" stroke-width="1.0" stroke-opacity="0.55"/>
<path d="M111.50 179.6V203.0M112.50 179.6V203.5M113.50 187.2V200.9M114.50 176.5V196.1M115.50 176.3V196.8M116.50 178.7V199.6M117.50 176.5V203.7M119.50 177.3V205.8M120.50 174.3V197.7M121.50 181.0V196.7M122.50 178.1V195.9M123.50 181.8V207.6M124.50 182.4V210.0M126.50 181.1V205.1M127.50 179.2V207.3M128.50 183.3V199.5M129.50 183.3V215.8M130.50 188.9V215.8M131.50 193.3V215.7M132.50 196.8V209.9M133.50 201.3V221.4M134.50 205.9V219.5M135.50 207.0V221.1M136.50 199.4V221.1M137.50 204.1V223.6M138.50 198.1V223.6M139.50 204.1V218.5M141.50 203.7V212.7M142.50 201.4V220.2M143.50 203.8V216.9M144.50 203.3V217.1M146.50 201.7V221.7M147.50 198.4V209.2M148.50 198.4V220.5M149.50 206.7V224.0M150.50 206.7V217.0M153.50 208.4V214.3M154.50 205.5V216.3M155.50 200.0V215.8M156.50 200.8V215.8M157.50 203.6V216.1M159.50 200.7V214.6M161.50 204.1V218.6M162.50 204.1V216.2M164.50 204.8V222.1M165.50 211.1V219.1M166.50 207.8V224.1M167.50 207.5V222.5M168.50 209.6V221.8M169.50 212.7V221.8M170.50 207.6V220.3M171.50 211.6V222.1M172.50 211.6V218.5M173.50 211.6V223.1M174.50 208.8V218.3M175.50 202.0V222.8M176.50 210.5V227.9M177.50 207.4V221.2M179.50 205.9V221.9M180.50 209.6V225.0M181.50 204.0V218.8M182.50 204.0V223.2M183.50 208.1V223.9M184.50 208.0V224.9M185.50 210.3V218.9M186.50 204.5V217.5M188.50 212.0V225.3M189.50 212.0V223.0M190.50 210.9V221.5M191.50 207.1V218.6M193.50 212.0V225.3M194.50 211.8V219.4M195.50 210.8V219.4M196.50 210.2V224.0M197.50 203.9V216.8M198.50 206.9V225.1M199.50 205.3V223.2M200.50 203.9V223.1M201.50 205.2V222.1M202.50 208.6V221.4M203.50 199.8V216.3M204.50 199.8V223.5M205.50 206.0V223.5M206.50 209.3V219.3M207.50 209.9V220.1M208.50 209.7V217.1M209.50 203.8V219.3M210.50 206.9V219.2M211.50 205.3V213.1M212.50 209.5V221.9M213.50 203.9V221.9M214.50 206.4V222.9M215.50 203.0V211.3M216.50 203.2V215.4M217.50 203.7V215.4M219.50 204.3V216.8M220.50 209.0V218.5M221.50 207.0V217.6M222.50 205.9V219.2M223.50 203.3V219.9M224.50 206.6V217.7M225.50 206.2V215.4M226.50 208.6V214.5M227.50 202.5V214.9M228.50 204.2V221.0M229.50 208.7V221.0M230.50 201.8V216.0M231.50 200.1V212.4M232.50 204.6V215.2M233.50 204.1V216.8M234.50 201.5V223.1M235.50 204.2V223.1M236.50 205.6V214.5M237.50 204.0V218.0M238.50 203.4V214.2M240.50 208.5V218.2M241.50 200.8V216.8M242.50 204.7V216.8M243.50 200.6V221.7M244.50 204.9V216.7M245.50 204.9V215.3M246.50 199.2V219.7M247.50 203.8V217.2M248.50 203.3V217.0M249.50 203.3V211.9M250.50 204.8V216.5M251.50 200.7V215.7M253.50 194.6V218.4M254.50 204.6V217.0M255.50 206.0V220.5M256.50 207.1V215.3M257.50 203.5V217.2M258.50 204.0V217.2M259.50 206.4V219.8M260.50 202.4V224.7M261.50 201.8V224.7M262.50 207.3V214.2M263.50 207.5V219.3M264.50 205.2V216.7M265.50 207.8V220.5M266.50 205.2V220.5M267.50 205.4V222.2M268.50 210.7V220.6M269.50 209.7V222.6M270.50 207.6V224.3M271.50 202.3V217.1M272.50 208.4V222.6M273.50 206.6V220.4M274.50 208.2V222.1M275.50 207.5V215.0M276.50 205.3V215.5M277.50 204.4V214.4M278.50 206.4V219.9M279.50 199.3V217.3M280.50 204.9V220.0M281.50 209.3V226.3M282.50 209.8V218.3M283.50 206.9V216.3M284.50 213.1V220.7M285.50 202.0V220.6M286.50 205.2V218.5M287.50 211.6V224.4M288.50 211.0V224.6M289.50 208.5V221.6M290.50 206.7V224.2M291.50 211.3V222.4M292.50 209.2V220.5M293.50 209.7V223.1M296.50 204.2V219.9M297.50 208.8V222.4M298.50 209.7V219.7M299.50 209.0V222.1M300.50 214.4V227.5M301.50 210.0V219.9M302.50 210.0V224.8M303.50 210.9V222.4M304.50 210.2V221.7M305.50 206.4V227.6M306.50 209.1V222.2M307.50 208.9V216.8M308.50 205.8V225.3M309.50 212.2V228.8M311.50 209.5V225.7M312.50 212.7V222.1M313.50 209.8V224.1M314.50 211.7V224.9M315.50 211.8V220.5M316.50 212.8V225.6M317.50 208.9V223.3M318.50 207.3V223.3M319.50 206.2V219.5M320.50 206.2V221.1M321.50 209.0V224.0M322.50 211.2V223.0M323.50 211.2V226.7M324.50 213.5V224.9M325.50 214.4V224.8M326.50 211.2V220.1M327.50 211.2V220.1M328.50 209.2V225.6M329.50 210.7V231.9M331.50 209.8V226.7M332.50 205.3V224.2M333.50 209.3V222.3M334.50 208.0V221.9M335.50 210.7V220.3M336.50 209.2V226.9M337.50 210.4V222.2M338.50 205.6V216.8M339.50 205.6V218.6M340.50 209.2V224.5M341.50 207.6V220.6M342.50 207.8V221.0M343.50 204.3V225.1M344.50 203.5V217.1M345.50 204.8V222.5M346.50 204.8V212.7M348.50 203.1V213.4M349.50 204.9V219.4M350.50 209.2V218.4M351.50 203.9V219.1M352.50 205.6V222.3M353.50 207.8V223.9M354.50 205.5V219.3M355.50 203.6V219.1M356.50 200.5V224.2M359.50 200.5V215.6M360.50 203.8V212.6M361.50 203.9V215.7M362.50 203.9V215.5M364.50 202.4V224.0M365.50 204.8V223.8M366.50 199.5V217.4M367.50 205.3V216.1M368.50 202.0V215.1M369.50 201.9V210.6M372.50 193.2V204.1M373.50 193.1V204.3M374.50 194.3V206.8M375.50 187.2V203.4M377.50 184.7V205.3M378.50 182.5V212.3M379.50 188.4V197.3M380.50 188.7V203.5M382.50 182.9V196.0M383.50 182.9V195.9M384.50 185.7V200.5M385.50 181.9V198.2M386.50 181.7V194.3M388.50 183.8V197.3M391.50 191.2V201.3M392.50 183.5V201.1M393.50 190.6V204.4M394.50 192.3V207.6M395.50 194.0V207.6M396.50 197.1V211.4M397.50 197.2V213.0M398.50 199.2V208.0M400.50 205.5V218.6M401.50 201.0V213.0M402.50 207.7V218.0M403.50 206.4V219.2M404.50 200.6V221.1M405.50 207.2V217.6M407.50 212.4V222.0M408.50 207.3V218.0M409.50 209.1V222.1M410.50 201.9V223.5M411.50 208.2V223.5M412.50 212.8V230.5M413.50 212.1V230.5M414.50 212.9V231.4M415.50 209.0V228.6M416.50 215.8V228.3M418.50 209.9V224.9M420.50 208.4V215.4M421.50 209.6V223.4M422.50 208.5V221.6M423.50 206.4V220.8M424.50 213.6V220.8M425.50 209.7V223.6M426.50 213.6V226.6M427.50 213.4V222.8M428.50 213.4V224.7M431.50 217.1V229.3M432.50 208.4V223.3M433.50 213.8V230.9M434.50 211.2V221.9M435.50 216.7V223.0M436.50 211.1V217.9M437.50 210.5V223.0M438.50 208.2V219.3M440.50 207.2V224.3M441.50 206.8V224.5M442.50 212.8V224.5M443.50 209.3V229.5M444.50 211.6V226.6M445.50 211.8V221.5M446.50 207.2V225.5M448.50 210.7V222.3M449.50 208.1V223.9M450.50 211.8V225.5M451.50 214.0V227.7M452.50 214.7V225.6M454.50 212.3V230.1M455.50 212.3V225.4M456.50 213.9V228.7M457.50 212.7V221.4M459.50 205.2V224.7M460.50 211.4V224.5M461.50 212.8V227.2M462.50 216.0V227.4M463.50 213.9V229.3M464.50 217.5V229.3M465.50 209.3V222.8M466.50 206.6V225.0M467.50 214.0V225.6M468.50 215.1V226.5M469.50 208.8V223.0M470.50 211.2V219.1M471.50 210.7V222.1M472.50 214.1V224.3M473.50 208.9V228.2M475.50 210.4V224.5M476.50 209.7V222.1M477.50 205.6V227.5M478.50 205.6V223.7M479.50 212.7V225.6M481.50 214.7V222.6M482.50 211.2V225.0M483.50 213.7V227.3M484.50 212.9V225.0M485.50 208.4V228.8M486.50 214.3V220.4M487.50 209.9V223.5M488.50 214.3V226.5M489.50 213.4V227.1M490.50 214.4V228.2M491.50 213.4V225.6M492.50 213.0V228.4M494.50 214.6V226.7M495.50 217.3V226.1M496.50 207.0V228.7M497.50 211.6V226.6M498.50 214.7V221.7M499.50 214.1V224.5M500.50 214.1V228.3M501.50 214.5V228.1M502.50 214.3V226.5M503.50 211.2V228.6M504.50 211.1V222.5M505.50 218.8V230.3M506.50 212.7V227.3M507.50 210.3V225.5M508.50 212.2V223.7M509.50 215.8V228.5M510.50 214.8V228.5M511.50 212.9V229.8M513.50 212.3V229.6M514.50 212.3V233.9M515.50 214.4V229.4M516.50 212.4V225.5M518.50 209.3V224.9M519.50 213.6V230.7M520.50 211.2V224.7M521.50 211.2V223.9M522.50 211.9V227.1M524.50 211.3V226.7M525.50 209.6V223.0M526.50 209.4V222.8M528.50 206.8V221.3M529.50 210.6V224.2M530.50 207.5V224.2M532.50 212.1V224.9M533.50 207.4V224.1M534.50 207.4V229.4M535.50 210.2V222.5M536.50 208.5V219.1M537.50 208.8V224.0M538.50 210.3V223.4M539.50 207.5V224.9M540.50 212.2V226.1M541.50 216.3V225.3M542.50 208.4V224.9M543.50 210.9V221.1M544.50 215.9V227.2M545.50 214.7V225.3M547.50 203.8V221.1M548.50 209.3V221.1M550.50 209.4V228.8M551.50 214.6V227.9M552.50 212.0V223.1M554.50 207.8V223.1M555.50 208.2V222.5M556.50 204.1V222.0M557.50 209.1V215.2M558.50 208.9V224.9M559.50 208.9V218.0M560.50 208.5V220.4M561.50 208.1V222.2M562.50 207.3V225.5M563.50 212.9V222.4M564.50 204.2V223.2M565.50 204.2V217.4M566.50 208.4V219.8M567.50 205.2V215.7M569.50 207.9V220.9M571.50 207.1V223.4M573.50 217.0V227.0M574.50 216.9V228.2M575.50 206.2V230.4M576.50 206.2V231.5M577.50 215.9V229.5M578.50 214.8V227.8M579.50 211.8V228.5M580.50 210.7V221.8M581.50 207.7V222.3M582.50 204.8V221.2M583.50 204.8V218.0M584.50 212.1V223.0M585.50 208.7V221.2M586.50 209.5V225.5M587.50 207.9V221.8M588.50 210.0V221.0M589.50 211.3V223.9M590.50 204.5V221.1M591.50 204.5V217.7M592.50 208.7V219.7M593.50 212.4V228.3M594.50 206.5V219.4M595.50 205.6V213.5M596.50 200.7V217.7M597.50 200.7V224.5M598.50 207.8V217.6M599.50 208.5V217.0M600.50 202.5V216.6M601.50 198.3V212.0M602.50 206.7V217.6M603.50 202.4V215.0M604.50 203.9V216.6M605.50 203.9V214.2M607.50 201.6V216.5M608.50 197.4V215.2M609.50 197.4V213.6M610.50 203.6V214.5M611.50 201.0V206.8M612.50 197.0V207.1M613.50 193.2V204.1M614.50 196.1V204.7M615.50 191.2V208.2M616.50 195.8V206.6M618.50 198.6V208.5M619.50 198.1V212.9M621.50 201.6V214.8M622.50 206.5V220.5M623.50 204.2V211.8M624.50 203.8V213.4M625.50 204.0V216.5M626.50 203.9V215.9M627.50 206.1V215.7M628.50 205.6V211.5M629.50 203.9V219.7M630.50 203.5V215.7M631.50 205.0V219.9M632.50 202.3V215.0M634.50 209.7V217.3M635.50 205.0V213.9M636.50 204.0V215.5M637.50 203.3V220.7M639.50 207.7V220.0M640.50 206.3V227.0M642.50 202.4V220.2M643.50 205.3V227.5M644.50 211.6V216.4M645.50 210.9V222.8M646.50 206.9V219.7M647.50 211.0V222.4M648.50 209.0V223.3M650.50 209.8V224.2M652.50 209.5V224.3M653.50 204.9V226.3M654.50 208.4V223.0M655.50 211.5V224.3M656.50 210.3V220.5M657.50 210.6V226.4M658.50 208.8V226.1M659.50 207.0V222.6M660.50 211.2V218.0M661.50 204.8V221.8M662.50 206.8V228.9M663.50 206.9V223.2M664.50 199.5V223.2M665.50 202.2V219.8M667.50 201.5V217.6M668.50 209.8V213.5M671.50 208.3V223.9M672.50 202.9V219.9M673.50 202.9V226.6M674.50 206.8V224.3M675.50 209.8V219.1M676.50 208.2V223.9M677.50 209.8V224.8M678.50 210.8V228.8M679.50 212.2V227.6M680.50 213.1V223.2M682.50 212.4V222.6M683.50 209.5V220.8M684.50 207.6V218.1M685.50 204.7V213.8M686.50 206.7V221.9" fill="none" stroke="#f2e614" stroke-width="1.0"/>
<path d="M118.50 167.8V191.4M125.50 181.8V214.3M140.50 203.6V214.8M145.50 201.7V215.2M151.50 204.7V218.6M152.50 209.1V216.8M158.50 205.9V218.7M160.50 205.4V219.8M163.50 204.8V218.9M178.50 207.4V216.4M187.50 210.5V225.3M192.50 207.7V221.2M218.50 205.0V213.0M239.50 206.1V214.2M252.50 200.7V210.3M294.50 211.9V223.1M295.50 213.3V227.1M310.50 210.7V223.4M330.50 210.7V220.9M347.50 200.4V213.3M357.50 198.4V218.0M358.50 201.1V214.5M363.50 208.0V217.5M370.50 200.3V211.1M371.50 191.9V214.6M376.50 188.5V201.2M381.50 180.9V201.1M387.50 184.4V193.2M389.50 181.5V200.9M390.50 183.2V199.7M399.50 199.9V214.3M406.50 212.1V220.1M417.50 209.9V223.1M419.50 209.6V222.7M429.50 212.1V230.0M430.50 215.6V229.4M439.50 207.3V222.2M447.50 214.3V225.0M453.50 210.7V226.5M458.50 213.7V226.0M474.50 210.2V228.2M480.50 212.1V223.7M493.50 204.7V227.8M512.50 208.8V226.7M517.50 208.2V230.2M523.50 211.3V222.7M527.50 208.5V218.3M531.50 209.0V228.7M546.50 214.9V224.6M549.50 209.4V225.9M553.50 209.5V224.1M568.50 208.9V219.3M570.50 211.2V225.6M572.50 209.1V225.2M606.50 209.0V220.5M617.50 198.2V213.4M620.50 200.7V214.8M633.50 206.3V220.5M638.50 205.1V217.0M641.50 202.4V218.8M649.50 210.1V225.1M651.50 209.1V226.1M666.50 209.5V222.4M669.50 207.9V226.2M670.50 209.6V226.2M681.50 203.7V221.8" fill="none" stroke="#f2e614" stroke-width="1.0" stroke-opacity="0.55"/>
<path d="M111.50 200.1V209.8M112.50 202.0V213.6M113.50 199.2V214.3M114.50 191.4V213.0M115.50 192.2V206.5M116.50 191.0V206.9M117.50 197.2V211.8M118.50 191.1V200.5M120.50 186.8V207.4M121.50 177.4V199.5M123.50 183.4V211.9M124.50 188.0V211.9M125.50 191.1V209.0M126.50 181.1V204.4M128.50 184.4V205.3M129.50 185.6V210.6M131.50 189.6V204.4M132.50 189.4V209.8M133.50 186.2V202.1M134.50 189.0V211.5M135.50 184.9V209.2M137.50 184.3V201.7M138.50 187.3V207.9M139.50 189.0V204.0M140.50 182.1V208.8M141.50 188.2V210.9M142.50 186.4V206.1M144.50 187.6V207.4M145.50 191.5V219.8M146.50 191.9V219.8M147.50 195.0V212.5M148.50 191.6V219.6M149.50 186.3V204.8M150.50 184.4V204.3M151.50 191.3V205.9M152.50 181.2V209.6M153.50 187.0V205.6M154.50 187.7V209.5M155.50 186.2V214.7M156.50 190.3V201.8M157.50 189.9V205.7M158.50 193.5V207.1M159.50 197.9V210.4M160.50 195.7V207.1M161.50 197.7V212.6M162.50 194.5V209.7M163.50 191.5V205.3M164.50 194.1V212.6M165.50 197.3V212.5M166.50 191.9V208.7M167.50 191.2V212.1M168.50 197.7V210.6M169.50 202.2V212.5M170.50 203.4V213.3M171.50 199.1V211.1M172.50 200.9V215.1M173.50 191.8V209.0M174.50 194.2V212.2M175.50 201.8V217.4M177.50 207.4V216.4M178.50 204.6V222.1M179.50 203.0V217.9M180.50 207.6V222.3M182.50 205.0V217.9M183.50 210.4V216.2M184.50 205.6V222.4M185.50 212.1V222.6M186.50 213.8V224.9M187.50 212.3V221.1M188.50 208.2V223.0M190.50 209.8V222.0M191.50 205.6V219.9M192.50 213.8V221.3M193.50 215.1V228.1M194.50 212.9V228.1M195.50 214.1V224.6M196.50 212.7V226.4M197.50 210.4V222.6M198.50 207.3V224.2M201.50 214.3V221.1M202.50 215.0V228.6M203.50 212.7V223.8M204.50 211.1V223.3M205.50 212.8V222.2M206.50 212.7V222.2M207.50 208.8V222.2M208.50 207.7V229.8M209.50 214.0V227.1M210.50 205.9V220.7M211.50 206.7V221.5M212.50 208.9V223.7M213.50 209.7V223.7M214.50 212.6V221.2M215.50 211.8V223.2M217.50 207.6V221.4M218.50 210.7V222.6M219.50 208.0V225.9M220.50 210.4V220.5M221.50 210.6V223.7M222.50 212.3V224.6M224.50 207.7V223.6M225.50 207.7V228.1M226.50 209.6V225.5M228.50 215.1V225.4M229.50 214.0V223.6M230.50 214.0V222.3M231.50 208.0V221.8M232.50 203.5V225.8M233.50 207.6V224.9M234.50 203.0V220.1M235.50 205.4V220.9M236.50 209.3V226.3M237.50 212.0V220.0M238.50 208.8V221.8M239.50 210.0V223.7M241.50 213.8V231.0M242.50 209.4V227.0M244.50 211.2V224.7M245.50 208.0V217.5M246.50 210.5V225.2M247.50 209.3V221.9M248.50 206.4V222.9M249.50 203.0V218.5M250.50 207.3V220.5M251.50 208.4V226.0M252.50 209.3V223.7M253.50 210.0V221.5M254.50 208.3V221.7M255.50 208.9V224.4M257.50 210.7V224.9M258.50 212.0V224.9M260.50 208.7V223.8M261.50 209.2V219.7M262.50 210.6V222.8M263.50 206.4V217.3M264.50 204.9V219.1M265.50 208.7V220.8M266.50 207.1V221.4M267.50 201.5V218.4M268.50 207.3V217.6M269.50 204.0V215.9M270.50 202.6V219.7M272.50 201.6V218.1M273.50 201.7V217.4M274.50 202.4V218.5M275.50 207.0V220.5M276.50 208.7V223.1M277.50 203.1V224.7M278.50 209.7V223.7M279.50 209.9V221.7M280.50 213.6V222.5M281.50 209.1V222.5M282.50 207.4V224.6M283.50 212.5V219.8M284.50 209.3V227.6M285.50 210.1V227.6M286.50 210.7V222.1M287.50 207.3V222.1M288.50 209.4V218.1M289.50 213.4V225.6M291.50 211.5V220.8M292.50 217.6V226.2M293.50 215.4V224.2M294.50 213.3V218.9M295.50 211.0V225.3M298.50 209.8V218.3M299.50 204.9V226.2M300.50 209.7V219.3M301.50 206.0V222.8M302.50 207.5V221.1M303.50 211.4V220.8M304.50 211.5V222.5M305.50 212.9V224.5M306.50 209.2V223.6M307.50 208.2V224.4M308.50 208.2V223.5M309.50 211.8V224.5M310.50 208.5V220.6M311.50 211.5V223.7M313.50 206.9V226.4M314.50 206.9V219.8M316.50 206.6V222.7M317.50 206.6V223.0M318.50 211.2V222.5M319.50 204.5V223.7M320.50 208.1V222.1M322.50 212.5V222.7M323.50 208.4V220.5M324.50 209.4V222.1M325.50 207.5V221.9M326.50 210.6V221.9M327.50 206.5V225.9M328.50 214.8V225.6M329.50 210.7V224.2M330.50 210.5V222.6M331.50 214.9V221.3M333.50 211.4V221.7M334.50 205.0V222.6M336.50 203.8V226.0M337.50 207.1V223.3M338.50 213.0V221.4M339.50 213.2V221.0M340.50 210.0V229.1M341.50 216.0V232.3M342.50 211.0V227.1M343.50 216.4V228.0M344.50 214.0V224.1M345.50 211.7V223.8M346.50 210.5V223.9M347.50 212.5V227.6M348.50 208.4V227.6M349.50 209.9V219.0M350.50 209.3V225.9M352.50 210.7V220.9M353.50 211.7V220.2M354.50 212.3V228.2M355.50 213.8V227.0M356.50 211.0V228.6M357.50 216.0V226.6M359.50 213.0V222.5M360.50 211.5V219.2M361.50 209.8V221.2M363.50 208.6V214.4M364.50 208.0V218.0M367.50 209.9V224.3M370.50 208.9V220.3M371.50 212.1V226.9M372.50 216.5V228.0M374.50 208.6V227.3M375.50 207.8V228.8M377.50 210.6V219.9M378.50 206.7V224.9M379.50 209.9V224.8M380.50 213.6V222.6M381.50 213.9V228.7M382.50 208.9V228.7M383.50 210.0V223.3M384.50 209.7V227.5M385.50 215.2V227.6M386.50 205.6V225.3M387.50 207.9V222.0M388.50 208.7V219.4M389.50 204.1V227.3M390.50 203.9V226.5M391.50 209.2V230.9M392.50 212.8V223.6M393.50 208.9V220.6M394.50 211.8V223.8M395.50 205.3V224.4M396.50 205.3V219.0M397.50 213.9V220.4M398.50 213.3V223.8M399.50 208.5V217.0M400.50 211.1V223.1M401.50 212.4V222.7M402.50 203.1V222.7M403.50 212.0V224.4M404.50 209.9V228.2M405.50 209.9V223.2M406.50 210.6V228.0M407.50 213.5V222.1M409.50 211.3V227.8M410.50 209.8V228.8M411.50 211.7V231.7M412.50 213.0V232.0M413.50 211.6V229.3M414.50 211.6V229.7M415.50 213.5V227.4M416.50 219.4V230.8M417.50 214.8V225.4M418.50 216.8V228.3M421.50 210.5V220.3M422.50 209.9V222.5M423.50 204.1V219.6M424.50 205.6V224.7M426.50 209.7V226.2M427.50 209.2V222.6M428.50 204.2V226.0M429.50 211.0V223.9M430.50 205.2V219.7M431.50 208.6V220.1M432.50 210.8V226.6M433.50 210.0V224.3M434.50 210.0V221.6M436.50 206.3V231.7M437.50 204.1V224.5M438.50 204.1V218.8M439.50 206.4V224.4M440.50 207.5V225.3M441.50 208.4V224.4M442.50 210.3V222.8M444.50 204.9V221.2M445.50 201.6V218.4M446.50 205.5V223.5M447.50 210.4V221.3M448.50 210.2V219.6M449.50 209.7V220.6M450.50 210.5V225.6M451.50 203.1V225.4M452.50 211.9V225.4M453.50 213.1V221.3M454.50 208.4V219.5M455.50 208.4V223.7M456.50 213.9V224.4M457.50 212.0V222.0M458.50 215.2V225.9M460.50 213.0V224.6M461.50 214.5V225.7M462.50 208.1V228.7M463.50 209.8V224.1M464.50 211.3V226.9M465.50 211.3V226.9M466.50 212.1V228.9M467.50 214.1V224.1M468.50 208.4V219.4M469.50 210.3V225.2M470.50 205.3V224.1M471.50 208.7V224.1M474.50 209.4V220.7M475.50 212.1V221.0M476.50 207.6V223.0M477.50 208.5V220.4M478.50 206.1V218.3M479.50 205.7V222.7M480.50 196.9V221.6M481.50 201.8V216.1M482.50 205.1V217.3M483.50 205.1V219.5M484.50 209.0V217.8M485.50 207.0V216.7M486.50 208.0V216.7M487.50 208.0V218.1M488.50 208.6V220.2M489.50 205.1V219.9M491.50 208.0V222.6M492.50 207.8V217.1M493.50 210.5V221.6M494.50 208.0V221.8M495.50 206.6V221.8M497.50 210.1V222.1M498.50 207.9V216.3M499.50 208.6V221.4M500.50 208.1V221.4M501.50 204.4V219.8M502.50 204.4V225.6M503.50 209.8V225.6M505.50 208.4V224.8M506.50 208.5V223.7M507.50 211.2V225.9M509.50 211.1V224.2M510.50 211.4V221.7M511.50 210.2V229.1M512.50 210.2V219.8M513.50 208.9V215.6M514.50 208.3V220.5M515.50 205.8V222.9M517.50 204.7V219.2M519.50 205.6V214.5M520.50 205.4V215.3M521.50 205.9V215.1M523.50 202.1V218.0M524.50 205.6V222.4M525.50 206.3V223.9M526.50 210.7V223.6M527.50 214.2V223.5M528.50 207.8V222.6M529.50 212.1V221.1M530.50 211.0V221.2M531.50 217.0V224.0M532.50 213.6V225.7M533.50 211.4V224.4M534.50 209.5V225.2M535.50 212.0V226.8M536.50 211.2V223.3M537.50 212.3V225.1M538.50 210.5V226.8M539.50 208.9V223.1M540.50 206.6V222.7M541.50 212.1V225.6M542.50 209.4V222.4M543.50 208.6V224.9M544.50 208.6V224.9M545.50 200.8V224.9M546.50 209.3V220.9M547.50 205.1V223.2M548.50 207.5V216.3M549.50 202.6V216.1M550.50 201.7V217.3M551.50 203.8V215.9M552.50 208.4V218.6M553.50 203.1V223.5M554.50 206.7V214.4M555.50 206.6V216.9M556.50 205.8V215.6M557.50 195.1V215.6M558.50 195.1V209.6M559.50 196.2V208.7M560.50 195.3V211.8M561.50 197.3V203.0M562.50 190.2V205.1M563.50 188.9V202.2M564.50 183.5V197.5M566.50 184.7V199.6M567.50 182.9V207.2M569.50 191.2V208.1M570.50 188.2V200.4M571.50 186.4V201.2M572.50 183.9V198.4M573.50 183.9V207.1M574.50 184.4V195.9M575.50 188.1V202.6M576.50 183.3V200.6M577.50 183.7V202.2M579.50 181.4V198.1M580.50 181.4V196.2M581.50 184.8V198.1M582.50 182.2V196.6M583.50 181.5V197.4M584.50 182.6V196.9M585.50 179.0V190.9M586.50 181.4V197.8M587.50 185.4V196.1M590.50 179.1V199.2M591.50 178.9V190.2M592.50 181.4V199.9M593.50 188.2V198.2M594.50 178.2V191.9M595.50 181.8V194.3M597.50 178.7V192.4M598.50 178.3V192.1M599.50 178.3V193.1M600.50 177.1V193.2M601.50 177.4V189.8M602.50 173.4V189.5M603.50 176.2V188.9M604.50 177.4V191.4M605.50 177.3V191.0M606.50 179.6V189.9M607.50 180.9V194.1M609.50 177.5V195.9M611.50 173.8V188.0M612.50 173.8V195.2M613.50 180.4V195.1M614.50 173.3V189.5M615.50 175.7V187.3M616.50 176.2V188.8M617.50 175.5V195.4M618.50 171.7V187.0M619.50 177.9V187.0M620.50 174.4V189.7M621.50 173.4V186.4M622.50 177.7V193.7M623.50 173.9V193.7M625.50 172.0V191.0M626.50 175.8V189.4M627.50 177.0V188.8M628.50 179.2V189.6M629.50 181.5V194.7M630.50 178.8V194.7M631.50 177.8V193.9M632.50 176.8V193.6M633.50 174.7V196.4M634.50 177.8V189.7M635.50 174.2V191.8M636.50 181.1V196.4M637.50 181.0V193.0M638.50 180.6V194.6M640.50 182.8V190.9M641.50 180.0V190.8M643.50 177.7V194.7M644.50 179.3V195.4M645.50 181.5V193.1M646.50 186.2V194.9M647.50 183.6V197.6M648.50 180.9V197.1M649.50 185.8V195.6M650.50 188.6V196.8M651.50 186.5V195.2M652.50 183.6V197.0M653.50 186.2V192.8M654.50 178.5V193.3M655.50 185.6V203.7M656.50 181.8V201.3M657.50 181.6V198.9M658.50 181.6V198.2M659.50 181.7V199.1M660.50 186.3V198.0M661.50 185.7V206.7M662.50 185.3V206.7M663.50 187.4V195.9M664.50 189.2V198.8M665.50 186.6V202.5M666.50 189.6V201.3M668.50 186.9V204.1M669.50 191.5V199.8M670.50 188.6V201.9M671.50 190.6V198.5M672.50 189.0V198.3M673.50 186.0V205.3M674.50 185.1V196.7M675.50 185.1V202.9M676.50 185.8V209.4M677.50 187.6V198.9M679.50 187.3V200.3M680.50 184.6V201.7M681.50 186.0V197.5M682.50 184.1V197.5M684.50 190.1V199.8M686.50 187.2V202.8" fill="none" stroke="#6acbdc" stroke-width="1.0"/>
<path d="M119.50 193.7V215.8M122.50 178.8V207.4M127.50 187.3V203.1M130.50 189.2V201.0M136.50 184.9V204.9M143.50 187.1V210.5M176.50 203.7V229.1M181.50 205.7V218.6M189.50 211.0V232.0M199.50 209.6V220.9M200.50 215.6V223.0M216.50 212.6V222.5M223.50 201.5V226.9M227.50 208.4V225.3M240.50 208.9V223.2M243.50 211.9V224.6M256.50 207.2V215.8M259.50 210.7V221.5M271.50 201.6V219.5M290.50 209.5V222.7M296.50 212.2V227.6M297.50 205.6V222.1M312.50 212.6V224.1M315.50 211.0V228.3M321.50 200.2V218.9M332.50 208.6V224.8M335.50 205.0V222.1M351.50 210.8V222.1M358.50 210.9V227.8M362.50 208.6V218.4M365.50 210.0V225.4M366.50 210.7V224.4M368.50 207.2V217.5M369.50 210.1V221.7M373.50 208.6V224.5M376.50 211.4V224.6M408.50 211.3V234.7M419.50 214.9V226.2M420.50 213.4V224.4M425.50 206.9V218.9M435.50 207.3V221.2M443.50 198.2V225.5M459.50 209.2V226.4M472.50 208.9V224.6M473.50 212.5V225.0M490.50 207.5V222.3M496.50 208.6V220.9M504.50 210.0V224.9M508.50 209.0V231.6M516.50 204.0V231.6M518.50 201.4V214.2M522.50 200.7V213.3M565.50 184.9V199.6M568.50 187.0V207.2M578.50 189.0V203.6M588.50 185.3V203.1M589.50 179.4V201.1M596.50 175.3V190.3M608.50 183.7V193.2M610.50 177.5V189.5M624.50 176.8V195.6M639.50 182.1V194.3M642.50 180.2V192.4M667.50 188.1V204.1M678.50 187.6V205.0M683.50 192.1V204.2M685.50 188.3V200.6" fill="none" stroke="#6acbdc" stroke-width="1.0" stroke-opacity="0.55"/>
<path d="M111.50 208.1V226.8M112.50 201.3V224.3M113.50 207.1V225.1M115.50 206.0V221.4M116.50 200.8V222.0M117.50 206.7V218.2M118.50 208.3V217.2M119.50 204.9V221.6M120.50 206.8V219.3M122.50 205.1V218.9M123.50 207.1V218.6M124.50 205.3V220.6M126.50 203.2V218.4M127.50 200.8V216.4M128.50 200.6V216.4M129.50 204.0V217.4M131.50 205.5V217.9M132.50 201.1V215.9M134.50 207.1V220.2M135.50 201.6V229.1M136.50 197.8V229.1M137.50 203.2V222.1M138.50 203.2V220.4M139.50 201.5V215.6M140.50 200.7V214.0M141.50 200.7V220.4M142.50 197.7V218.1M143.50 207.4V214.8M144.50 202.9V222.9M146.50 205.1V217.9M148.50 207.6V223.6M149.50 204.2V222.3M150.50 204.6V220.0M151.50 210.0V221.1M152.50 203.9V222.3M153.50 201.4V222.0M154.50 205.3V222.0M155.50 203.4V221.4M156.50 205.4V224.2M157.50 202.5V218.4M158.50 204.7V215.0M159.50 202.0V216.9M160.50 197.3V210.8M161.50 197.9V209.1M162.50 199.0V214.0M163.50 199.2V214.0M164.50 194.9V206.2M165.50 193.3V209.3M166.50 188.4V207.7M168.50 185.7V216.3M169.50 193.7V213.1M170.50 192.5V210.0M171.50 193.8V206.3M172.50 193.8V208.7M173.50 200.5V210.4M174.50 190.8V215.3M175.50 187.2V209.0M176.50 190.7V203.1M179.50 184.1V201.3M180.50 187.2V203.7M181.50 187.5V209.6M182.50 195.3V212.3M183.50 188.7V203.4M184.50 188.8V202.9M185.50 185.4V202.5M186.50 188.8V202.5M187.50 175.0V207.9M188.50 174.7V208.7M190.50 177.2V207.9M191.50 171.1V197.7M192.50 177.6V192.0M193.50 171.1V182.7M194.50 175.6V194.5M195.50 175.5V196.6M196.50 176.0V196.1M197.50 172.5V193.0M198.50 171.7V194.0M199.50 178.5V205.2M200.50 183.0V196.5M202.50 172.6V198.9M203.50 182.2V195.4M204.50 176.5V207.6M205.50 180.1V209.5M206.50 180.1V199.3M207.50 174.5V200.6M208.50 174.3V198.6M209.50 180.2V203.2M210.50 181.2V203.2M211.50 170.2V200.0M212.50 177.5V200.9M213.50 171.6V202.2M214.50 182.5V202.2M215.50 172.5V186.4M217.50 163.5V191.0M218.50 171.6V191.2M219.50 167.2V193.2M220.50 171.6V193.0M221.50 167.9V191.3M222.50 167.9V180.7M225.50 167.9V202.4M226.50 178.2V202.4M227.50 178.4V194.0M228.50 177.1V200.2M229.50 176.3V191.5M230.50 158.7V193.0M231.50 172.8V194.6M232.50 168.5V187.4M233.50 164.9V182.6M235.50 170.7V192.3M236.50 170.5V188.1M237.50 176.4V192.2M238.50 176.4V202.5M239.50 176.8V202.5M240.50 171.6V201.6M241.50 168.0V201.4M242.50 176.0V201.4M243.50 173.5V190.7M244.50 173.5V204.8M245.50 180.4V208.4M246.50 181.6V203.5M247.50 176.6V191.6M248.50 174.6V190.4M249.50 177.9V197.2M250.50 163.8V194.2M251.50 181.9V200.7M252.50 182.9V216.0M254.50 177.3V197.8M255.50 177.9V202.5M256.50 175.3V195.7M257.50 172.3V207.8M258.50 178.9V194.5M259.50 183.9V204.4M260.50 175.2V200.9M261.50 178.3V198.6M262.50 172.6V198.8M263.50 172.6V195.1M264.50 175.3V197.7M265.50 175.8V197.9M266.50 180.1V206.0M267.50 173.8V193.4M268.50 179.2V195.6M269.50 180.6V202.3M270.50 178.7V200.2M271.50 181.9V195.7M272.50 184.7V198.2M273.50 178.5V194.4M274.50 167.1V193.5M275.50 182.6V198.0M276.50 172.3V201.3M277.50 188.0V198.1M278.50 176.8V198.3M279.50 178.1V195.6M280.50 178.7V207.1M281.50 178.7V194.1M282.50 178.6V199.5M283.50 174.5V193.6M284.50 177.1V201.9M285.50 175.3V199.3M286.50 163.7V194.4M288.50 178.5V205.3M289.50 181.0V191.8M290.50 180.9V200.9M291.50 175.4V203.5M292.50 176.3V195.7M293.50 170.5V199.0M294.50 177.3V201.2M295.50 180.3V209.0M296.50 181.3V202.2M297.50 181.3V208.0M298.50 165.5V194.3M299.50 176.0V194.0M300.50 179.9V203.6M301.50 180.2V203.1M302.50 172.4V199.1M303.50 166.8V193.8M304.50 179.6V201.4M305.50 175.4V201.2M306.50 172.1V202.9M307.50 180.4V202.9M308.50 181.7V203.2M309.50 178.6V188.9M310.50 172.4V203.2M311.50 182.0V199.9M312.50 183.8V201.8M313.50 179.1V207.4M315.50 181.8V199.6M316.50 181.0V198.7M317.50 177.5V203.2M318.50 181.8V209.2M319.50 182.7V204.9M320.50 183.2V208.2M321.50 175.0V195.8M322.50 185.3V198.7M323.50 183.3V200.2M324.50 178.1V200.2M326.50 179.6V205.2M328.50 167.1V205.2M329.50 179.1V194.8M330.50 182.5V204.0M331.50 182.5V204.5M332.50 178.4V204.5M333.50 186.6V214.9M334.50 183.7V203.0M335.50 174.9V196.8M336.50 180.9V203.7M337.50 173.8V195.1M338.50 180.0V197.1M339.50 180.5V202.1M340.50 188.0V202.1M341.50 189.4V201.4M342.50 178.9V201.2M343.50 174.4V202.1M344.50 180.7V202.1M345.50 179.8V209.9M346.50 184.1V209.3M347.50 182.6V197.7M348.50 183.7V201.2M350.50 173.5V205.8M351.50 173.5V195.5M353.50 165.9V195.8M354.50 174.2V193.3M355.50 166.5V189.6M356.50 167.6V188.1M357.50 167.3V191.5M358.50 166.7V180.7M360.50 167.0V182.2M361.50 178.5V193.5M363.50 169.7V188.5M364.50 159.3V186.2M365.50 160.5V186.2M367.50 154.6V180.5M368.50 159.5V180.5M369.50 163.2V189.0M370.50 152.5V177.1M371.50 150.6V175.9M372.50 160.4V174.2M373.50 153.1V170.4M374.50 153.6V172.9M375.50 154.5V175.0M376.50 152.1V184.3M377.50 146.9V170.3M378.50 144.4V172.8M379.50 144.4V180.9M380.50 144.3V169.4M381.50 143.5V158.1M382.50 143.8V157.8M383.50 137.5V160.0M384.50 137.5V158.3M385.50 145.2V167.0M386.50 137.0V146.5M387.50 134.5V154.0M389.50 129.0V150.1M390.50 129.3V154.4M391.50 134.9V156.2M393.50 135.1V165.0M394.50 130.7V153.7M395.50 132.9V151.0M396.50 130.3V160.0M397.50 141.6V159.2M398.50 138.0V159.2M399.50 134.8V165.0M400.50 131.1V165.0M401.50 144.7V160.6M403.50 151.9V169.3M404.50 138.5V177.4M405.50 153.0V169.8M406.50 153.1V174.4M407.50 155.2V174.6M408.50 158.2V183.9M409.50 157.0V180.5M410.50 150.6V180.3M411.50 150.6V174.9M412.50 159.9V181.1M413.50 158.2V181.1M414.50 156.6V179.8M416.50 154.6V186.2M417.50 156.4V185.3M418.50 170.3V185.3M419.50 154.5V181.4M420.50 154.5V180.0M421.50 165.0V180.4M422.50 160.6V186.8M423.50 158.2V190.6M424.50 169.6V195.9M425.50 163.1V195.9M426.50 163.6V180.3M428.50 168.8V181.3M430.50 158.5V176.7M432.50 159.4V180.8M433.50 162.1V178.3M434.50 161.5V177.2M435.50 155.7V187.8M436.50 152.0V177.2M437.50 155.1V179.8M438.50 155.8V180.7M439.50 162.8V179.1M440.50 164.0V186.5M442.50 162.9V177.2M443.50 154.7V182.1M444.50 161.9V183.4M445.50 166.3V180.6M446.50 162.1V180.5M447.50 155.1V182.5M448.50 165.9V188.0M449.50 157.0V183.3M450.50 165.7V186.6M451.50 157.3V186.7M452.50 161.8V178.3M453.50 152.8V180.7M454.50 155.7V185.9M455.50 145.6V178.4M456.50 158.6V188.5M457.50 158.4V188.5M458.50 158.4V179.2M459.50 160.5V179.8M460.50 154.2V187.7M462.50 162.1V183.1M463.50 165.1V189.7M464.50 166.0V193.1M465.50 165.3V188.6M466.50 158.1V188.6M467.50 157.7V184.3M470.50 168.1V186.2M471.50 166.1V177.3M472.50 154.1V181.8M473.50 154.1V193.6M474.50 171.2V193.6M475.50 170.8V178.6M476.50 150.5V188.4M477.50 163.2V175.2M479.50 153.8V182.4M480.50 154.3V178.5M481.50 163.5V179.8M482.50 163.4V181.2M483.50 160.5V181.2M484.50 149.3V180.3M486.50 161.7V193.3M487.50 165.1V179.5M488.50 164.3V187.1M489.50 164.3V186.8M490.50 168.4V183.9M491.50 165.1V180.8M492.50 162.7V175.3M493.50 162.7V189.0M494.50 159.7V185.3M495.50 171.2V183.8M497.50 162.8V183.8M498.50 162.9V176.8M500.50 164.6V183.1M501.50 157.0V175.6M502.50 159.8V188.9M503.50 163.3V185.2M505.50 157.5V177.1M506.50 161.8V181.8M507.50 154.8V177.4M508.50 156.4V184.1M509.50 163.9V180.2M510.50 156.8V180.3M511.50 160.7V179.8M512.50 160.6V184.8M513.50 154.8V185.1M514.50 166.7V183.6M515.50 158.0V181.4M516.50 162.8V177.0M517.50 152.4V180.6M518.50 160.0V186.0M519.50 162.3V186.8M520.50 160.0V186.8M522.50 151.0V180.6M523.50 166.6V184.3M524.50 166.1V186.3M525.50 156.2V186.4M526.50 160.1V174.2M527.50 157.9V176.0M528.50 150.9V189.1M529.50 157.1V175.6M530.50 157.1V180.9M531.50 149.3V174.0M532.50 153.1V184.7M533.50 158.0V176.2M534.50 158.1V181.9M535.50 161.1V180.6M537.50 158.6V177.6M538.50 157.8V177.6M540.50 160.7V179.8M541.50 149.3V169.5M542.50 156.0V171.8M543.50 150.1V178.5M544.50 143.4V180.9M545.50 148.7V177.0M546.50 150.5V180.2M547.50 148.2V178.3M548.50 162.0V181.5M549.50 150.1V174.0M550.50 158.3V185.7M551.50 155.3V176.4M552.50 154.9V183.0M553.50 153.6V177.0M554.50 161.5V177.9M555.50 161.5V184.2M556.50 163.0V183.1M558.50 154.9V179.4M560.50 156.0V171.1M561.50 151.7V177.6M562.50 150.1V172.3M564.50 153.8V174.9M565.50 153.2V174.7M566.50 151.6V182.4M567.50 152.5V175.4M569.50 161.0V178.5M570.50 160.0V183.8M571.50 162.6V186.6M572.50 162.6V180.2M573.50 154.5V174.0M574.50 157.9V176.1M575.50 153.5V178.2M576.50 159.8V181.1M577.50 158.8V179.6M580.50 162.1V179.0M581.50 156.3V171.5M582.50 143.9V175.3M583.50 152.5V171.1M584.50 152.5V169.0M585.50 154.8V182.0M586.50 154.1V177.6M587.50 154.3V175.0M588.50 156.0V173.7M589.50 161.5V181.9M590.50 152.1V178.3M593.50 155.9V184.3M594.50 158.7V177.6M595.50 158.4V176.7M597.50 148.9V181.8M598.50 150.5V181.4M599.50 155.2V177.1M601.50 149.4V173.6M602.50 157.6V175.5M603.50 157.6V181.5M604.50 156.4V174.5M605.50 151.3V175.2M606.50 159.3V174.1M607.50 164.1V174.7M608.50 154.6V180.0M609.50 161.1V181.8M611.50 161.8V185.9M612.50 160.2V180.4M613.50 151.0V179.7M614.50 157.5V179.3M615.50 150.4V185.9M617.50 150.2V177.7M618.50 153.0V177.7M619.50 157.1V179.6M620.50 155.7V176.6M621.50 160.5V179.2M622.50 161.9V179.5M623.50 162.7V182.9M625.50 158.8V177.2M626.50 157.6V177.7M627.50 158.3V181.9M628.50 162.9V185.4M629.50 160.5V186.2M630.50 162.0V179.5M631.50 145.2V176.4M632.50 164.8V188.7M634.50 153.7V184.1M636.50 159.9V181.5M637.50 161.8V186.1M638.50 156.6V186.1M639.50 173.8V187.3M641.50 165.7V190.0M642.50 168.5V186.0M643.50 170.7V193.6M644.50 159.0V185.6M645.50 169.3V191.4M646.50 159.3V184.3M648.50 162.9V192.9M649.50 169.0V191.8M650.50 165.9V193.2M651.50 170.9V195.1M652.50 170.9V194.4M653.50 172.3V184.2M654.50 174.5V195.5M656.50 172.7V191.8M657.50 162.2V184.4M658.50 172.2V186.5M660.50 173.6V195.5M661.50 165.0V195.5M662.50 175.4V195.8M663.50 179.3V195.8M664.50 179.1V194.4M665.50 172.8V196.6M666.50 166.2V196.6M667.50 166.5V189.4M668.50 163.2V193.7M669.50 163.4V186.8M670.50 158.4V182.3M671.50 156.7V175.1M672.50 141.4V175.4M673.50 141.2V169.1M674.50 141.2V170.0M675.50 152.7V185.3M676.50 145.9V172.3M677.50 145.9V167.5M678.50 148.0V168.4M679.50 152.9V168.8M680.50 151.8V177.7M681.50 162.2V174.6M682.50 164.1V186.3M683.50 163.2V186.3M684.50 150.9V179.3M685.50 162.6V194.8M686.50 171.3V194.4" fill="none" stroke="#68bc45" stroke-width="1.0"/>
<path d="M114.50 211.7V220.0M121.50 201.2V212.8M125.50 210.8V225.8M130.50 204.9V218.9M133.50 203.2V217.1M145.50 202.9V222.9M147.50 203.0V216.3M167.50 187.0V208.1M177.50 184.8V205.6M178.50 182.2V209.7M189.50 180.4V203.9M201.50 174.9V204.6M216.50 176.5V195.8M223.50 175.5V194.2M224.50 176.4V197.8M234.50 163.6V189.2M253.50 177.9V200.8M287.50 172.0V198.9M314.50 164.7V204.6M325.50 168.1V199.8M327.50 185.0V209.6M349.50 183.2V201.9M352.50 165.9V189.9M359.50 161.4V187.0M362.50 164.9V184.9M366.50 156.4V184.0M388.50 131.3V151.4M392.50 124.0V151.8M402.50 136.6V166.4M415.50 156.6V179.1M427.50 167.0V179.3M429.50 159.7V185.0M431.50 155.7V186.2M441.50 159.6V182.9M461.50 152.9V185.3M468.50 166.5V187.7M469.50 158.9V179.6M478.50 165.5V180.6M485.50 161.7V193.4M496.50 158.8V184.8M499.50 162.5V185.9M504.50 162.7V176.4M521.50 159.8V182.4M536.50 159.5V185.8M539.50 155.7V182.5M557.50 163.1V182.1M559.50 154.4V179.4M563.50 150.1V181.1M568.50 156.4V175.5M578.50 158.5V183.4M579.50 160.7V185.2M591.50 155.0V171.3M592.50 150.3V179.1M596.50 151.1V176.0M600.50 152.1V177.7M610.50 160.0V175.6M616.50 150.2V177.6M624.50 150.8V183.5M633.50 165.6V175.6M635.50 166.0V184.1M640.50 164.5V182.5M647.50 169.5V192.0M655.50 163.7V181.6M659.50 177.5V192.4" fill="none" stroke="#68bc45" stroke-width="1.0" stroke-opacity="0.55"/>
<path d="M861.50 196.3V219.1M862.50 199.3V218.0M863.50 209.1V226.0M864.50 202.7V219.5M865.50 205.6V222.8M866.50 207.2V224.5M867.50 205.4V224.5M868.50 206.9V225.2M869.50 207.4V223.5M870.50 208.9V228.0M871.50 209.3V225.4M873.50 214.0V224.3M874.50 208.6V224.3M875.50 210.0V224.7M876.50 218.4V231.8M877.50 214.1V231.8M879.50 218.1V231.0M880.50 219.8V225.4M881.50 211.9V226.7M882.50 209.1V224.3M884.50 207.9V226.2M885.50 218.8V228.7M886.50 216.9V232.4M887.50 216.9V230.9M888.50 211.6V230.6M889.50 211.3V229.1M890.50 211.3V226.3M891.50 207.5V229.1M892.50 214.4V223.5M894.50 214.7V223.9M896.50 210.2V228.7M898.50 214.4V225.4M899.50 214.6V226.6M900.50 212.8V230.8M901.50 213.4V231.4M902.50 214.1V231.1M903.50 205.2V227.6M904.50 214.4V227.9M905.50 208.5V231.9M906.50 212.8V223.8M907.50 211.0V224.2M908.50 206.4V229.0M913.50 222.5V235.4M915.50 209.3V232.9M916.50 210.6V227.1M917.50 209.7V222.6M918.50 209.7V227.3M919.50 208.9V222.4M921.50 214.2V227.6M922.50 213.8V226.3M923.50 203.1V226.3M924.50 210.2V222.5M925.50 202.9V231.2M926.50 200.8V226.7M927.50 200.8V228.1M928.50 203.5V224.7M929.50 207.9V221.5M930.50 207.4V219.9M931.50 205.5V226.3M932.50 205.6V223.1M933.50 208.0V218.4M934.50 203.3V218.8M935.50 204.3V221.3M936.50 203.1V220.9M938.50 199.4V215.4M939.50 206.1V219.8M940.50 203.0V225.9M941.50 205.7V225.5M942.50 204.1V218.6M943.50 198.3V221.8M944.50 205.3V221.8M945.50 202.3V219.4M946.50 197.5V211.1M947.50 205.2V212.2M948.50 197.1V221.2M949.50 204.7V212.6M950.50 207.6V218.7M951.50 205.5V224.7M952.50 207.8V222.0M953.50 196.8V222.3M954.50 196.8V217.6M955.50 203.1V223.0M956.50 204.6V220.2M958.50 197.0V226.3M959.50 203.8V216.5M960.50 202.2V222.6M961.50 199.4V221.1M962.50 199.4V214.6M963.50 200.8V214.6M964.50 204.1V217.6M965.50 199.3V213.2M966.50 204.0V215.6M970.50 204.1V211.5M971.50 201.5V212.0M973.50 191.9V212.2M974.50 202.2V215.0M975.50 203.5V214.7M976.50 203.1V216.0M977.50 200.6V218.5M978.50 205.2V212.1M979.50 198.4V214.3M980.50 202.2V213.9M981.50 200.1V215.0M982.50 202.3V214.8M983.50 204.4V213.1M984.50 200.3V219.3M985.50 203.5V219.3M986.50 196.6V218.2M987.50 196.6V219.7M988.50 207.0V217.6M989.50 198.6V215.2M990.50 205.7V218.5M991.50 199.6V224.7M992.50 202.0V217.0M993.50 203.9V220.4M994.50 194.7V215.0M995.50 194.6V211.1M996.50 194.6V213.5M997.50 193.8V220.5M998.50 194.7V220.5M999.50 194.7V213.1M1000.50 200.9V219.6M1001.50 195.2V208.1M1003.50 194.4V215.6M1004.50 200.7V211.5M1005.50 197.2V217.7M1006.50 200.9V216.6M1007.50 202.8V212.5M1008.50 198.7V219.9M1009.50 204.2V211.2M1010.50 198.6V217.0M1011.50 199.1V215.9M1012.50 202.8V214.0M1013.50 192.4V216.9M1014.50 200.3V212.5M1015.50 198.2V215.4M1016.50 201.4V215.4M1017.50 202.3V215.2M1018.50 201.5V211.5M1019.50 199.1V214.9M1020.50 199.6V214.8M1021.50 200.7V219.2M1022.50 198.2V212.3M1023.50 205.1V217.9M1024.50 203.5V217.9M1025.50 203.5V214.2M1026.50 205.6V214.3M1027.50 201.9V218.2M1028.50 201.6V215.7M1029.50 193.2V213.3M1030.50 193.2V218.4M1031.50 202.1V211.9M1032.50 200.4V213.3M1033.50 202.8V215.6M1035.50 198.8V220.3M1037.50 199.0V211.5M1039.50 201.3V223.7M1040.50 197.7V217.8M1041.50 201.0V211.4M1042.50 203.5V223.4M1044.50 208.9V219.7M1045.50 205.3V224.2M1046.50 204.0V220.3M1047.50 208.9V225.3M1048.50 207.8V221.4M1049.50 209.8V226.3M1050.50 207.1V227.4M1051.50 207.8V219.3M1052.50 201.5V220.8M1054.50 209.7V225.9M1055.50 206.7V225.9M1056.50 204.0V223.1M1057.50 208.5V220.5M1058.50 207.6V228.1M1059.50 213.7V220.0M1060.50 211.6V225.3M1061.50 205.3V222.5M1062.50 204.4V221.5M1064.50 206.8V220.1M1065.50 207.4V221.8M1066.50 209.8V222.9M1067.50 203.8V218.8M1068.50 209.1V225.9M1069.50 211.7V227.0M1070.50 205.1V227.0M1071.50 209.5V226.0M1074.50 208.7V224.2M1075.50 207.4V221.9M1076.50 207.0V224.1M1077.50 205.5V223.3M1079.50 199.2V214.7M1080.50 194.9V212.0M1081.50 194.9V213.5M1082.50 195.5V210.9M1083.50 193.3V207.9M1084.50 193.3V203.7M1085.50 193.0V205.3M1086.50 190.6V207.9M1087.50 193.0V210.8M1088.50 188.9V209.6M1089.50 195.7V217.3M1090.50 198.3V212.7M1094.50 201.9V222.2M1095.50 203.2V222.2M1096.50 202.8V220.8M1097.50 212.0V222.8M1098.50 204.6V214.4M1100.50 198.4V221.3M1101.50 202.3V221.3M1102.50 202.3V216.4M1103.50 196.8V221.2M1104.50 198.9V221.2M1105.50 198.3V213.7M1106.50 191.4V213.7M1107.50 195.7V221.2M1108.50 199.4V216.7M1109.50 199.6V224.3M1110.50 199.2V217.8M1111.50 201.9V217.5M1112.50 198.4V213.3M1113.50 195.7V213.3M1114.50 201.7V214.4M1115.50 202.2V211.8M1116.50 199.6V213.4M1117.50 200.0V216.8M1118.50 198.3V221.2M1119.50 196.3V221.2M1120.50 199.6V212.3M1121.50 194.9V214.3M1123.50 196.1V213.4M1125.50 196.6V209.9M1126.50 190.3V208.9M1127.50 191.6V209.3M1128.50 194.0V207.4M1129.50 189.7V206.7M1130.50 190.8V207.6M1131.50 184.7V206.4M1132.50 192.2V212.0M1133.50 192.8V205.7M1134.50 193.8V209.9M1135.50 190.2V212.3M1136.50 192.0V206.8M1137.50 191.5V204.9M1138.50 194.6V201.8M1139.50 189.2V202.1M1140.50 184.0V200.8M1141.50 188.1V202.7M1142.50 187.9V202.3M1143.50 187.9V207.3M1145.50 187.8V203.2M1146.50 189.3V203.2M1148.50 184.5V197.2M1149.50 185.1V206.9M1150.50 189.5V206.9M1151.50 191.3V199.7M1152.50 192.7V200.7M1153.50 189.4V204.1M1154.50 187.4V203.7M1155.50 183.7V203.7M1156.50 183.4V197.3M1157.50 182.3V197.0M1158.50 186.3V200.7M1159.50 184.8V200.9M1160.50 184.8V204.5M1161.50 183.4V199.5M1162.50 186.3V200.2M1163.50 183.1V199.4M1164.50 175.9V204.5M1165.50 178.6V204.5M1166.50 191.0V202.7M1167.50 178.1V198.9M1169.50 187.1V202.2M1170.50 188.0V205.2M1171.50 189.9V201.9M1172.50 185.5V201.9M1173.50 188.8V201.8M1174.50 183.5V201.8M1175.50 186.9V202.7M1176.50 183.2V199.9M1177.50 187.8V201.2M1178.50 192.3V203.1M1180.50 185.6V201.3M1181.50 180.3V201.0M1182.50 190.3V197.6M1183.50 182.2V204.5M1184.50 185.8V204.5M1185.50 192.5V203.6M1186.50 180.5V203.5M1188.50 185.7V199.2M1189.50 182.1V191.7M1190.50 185.7V195.5M1191.50 182.4V195.0M1192.50 186.7V208.3M1193.50 182.0V199.0M1194.50 186.2V196.7M1195.50 185.4V199.9M1196.50 189.4V199.9M1197.50 178.9V196.9M1198.50 188.2V201.4M1199.50 183.2V202.2M1200.50 184.4V196.7M1201.50 187.5V202.7M1202.50 190.0V202.9M1203.50 180.0V203.5M1204.50 180.0V199.9M1205.50 192.0V203.3M1206.50 185.0V200.9M1207.50 185.1V211.2M1208.50 184.9V204.4M1209.50 190.5V205.7M1210.50 188.7V205.7M1211.50 184.2V204.7M1212.50 191.1V206.8M1213.50 193.2V203.9M1214.50 191.2V205.7M1215.50 198.8V211.5M1216.50 196.5V210.8M1217.50 199.4V215.0M1219.50 199.2V218.5M1220.50 200.5V221.2M1221.50 200.5V215.7M1222.50 203.5V216.8M1223.50 192.9V212.0M1224.50 198.2V216.9M1225.50 198.7V216.9M1226.50 209.0V220.5M1227.50 199.6V219.6M1228.50 198.9V218.3M1230.50 203.2V215.6M1231.50 206.1V217.6M1232.50 201.6V216.0M1234.50 203.1V215.4M1235.50 199.3V215.4M1236.50 205.0V217.8M1237.50 203.1V215.3M1238.50 201.8V213.8M1239.50 199.2V220.7M1240.50 197.3V216.2M1241.50 196.8V217.0M1242.50 190.5V212.9M1243.50 189.3V207.5M1244.50 189.3V220.6M1245.50 197.1V207.6M1246.50 200.0V207.5M1248.50 194.9V212.6M1249.50 194.2V210.4M1250.50 200.5V216.1M1251.50 202.8V214.8M1252.50 203.1V218.7M1253.50 201.5V219.5M1255.50 210.6V219.0M1256.50 204.1V219.3M1257.50 204.1V217.4M1258.50 206.8V220.3M1259.50 202.4V219.4M1260.50 206.4V217.9M1262.50 206.3V218.6M1263.50 207.0V218.6M1264.50 202.9V224.0M1265.50 205.3V228.9M1266.50 202.1V228.9M1267.50 207.0V221.6M1268.50 196.1V216.7M1269.50 205.9V217.9M1270.50 206.8V228.3M1271.50 207.3V221.4M1272.50 206.7V220.0M1273.50 197.6V220.2M1274.50 205.3V220.8M1275.50 206.8V220.8M1276.50 198.7V218.1M1277.50 204.4V220.8M1278.50 204.8V228.0M1279.50 207.3V228.0M1281.50 201.4V216.9M1282.50 201.4V221.4M1283.50 199.6V223.3M1284.50 200.2V223.1M1285.50 201.2V219.0M1286.50 198.6V216.6M1287.50 203.1V220.2M1288.50 202.2V212.9M1289.50 202.2V222.5M1291.50 203.3V215.2M1292.50 199.8V218.1M1294.50 199.0V217.1M1295.50 202.7V224.1M1296.50 200.0V219.7M1297.50 200.0V213.1M1298.50 195.5V221.2M1299.50 199.0V210.8M1300.50 202.1V216.4M1301.50 195.0V214.6M1302.50 197.9V212.0M1303.50 197.8V213.0M1304.50 196.1V208.8M1305.50 191.3V209.6M1306.50 194.9V204.3M1307.50 191.9V204.0M1308.50 192.6V203.3M1309.50 188.5V199.4M1310.50 190.6V206.9M1311.50 186.7V206.9M1312.50 189.1V205.9M1313.50 191.2V202.2M1314.50 195.5V208.8M1315.50 191.9V211.3M1316.50 197.6V208.6M1317.50 197.2V210.0M1318.50 192.8V210.4M1319.50 196.2V209.5M1320.50 190.6V207.3M1321.50 190.8V210.7M1322.50 194.4V210.6M1323.50 194.4V212.7M1324.50 194.6V212.1M1325.50 196.5V213.8M1326.50 191.4V213.8M1327.50 197.4V209.0M1328.50 200.1V209.5M1329.50 197.2V212.6M1330.50 192.6V211.1M1331.50 201.5V212.6M1332.50 202.4V219.7M1333.50 200.5V219.7M1334.50 199.6V220.6M1335.50 201.6V210.5M1336.50 202.3V216.8M1337.50 203.6V219.6M1338.50 197.3V222.4M1339.50 198.2V222.4M1340.50 198.2V210.9M1341.50 188.7V210.1M1342.50 191.8V211.1M1344.50 190.4V203.5M1345.50 191.0V203.6M1346.50 190.2V203.6M1347.50 184.4V195.7M1348.50 184.4V207.3M1349.50 190.2V205.5M1350.50 182.4V198.3M1351.50 180.6V201.2M1352.50 180.6V196.2M1353.50 174.4V192.7M1354.50 177.4V190.8M1355.50 174.6V187.7M1356.50 174.6V190.0M1357.50 166.1V193.5M1358.50 172.2V189.2M1359.50 175.1V192.8M1360.50 163.4V185.0M1361.50 163.4V185.5M1362.50 170.9V184.1M1363.50 167.8V183.4M1364.50 175.0V186.0M1365.50 161.3V188.2M1366.50 169.8V178.1M1367.50 165.8V184.0M1368.50 171.7V178.6M1369.50 162.0V181.9M1370.50 168.1V178.7M1371.50 167.8V182.0M1373.50 153.5V173.1M1374.50 158.8V174.4M1375.50 163.7V178.0M1376.50 159.7V181.4M1377.50 163.8V180.6M1378.50 165.1V179.9M1379.50 157.8V181.4M1380.50 166.0V183.9M1381.50 164.8V186.2M1382.50 164.2V182.4M1383.50 163.6V182.6M1384.50 170.4V187.3M1385.50 167.4V184.9M1386.50 170.7V184.9M1388.50 171.4V180.9M1389.50 175.0V192.1M1390.50 173.3V195.5M1391.50 175.6V196.9M1392.50 173.4V189.0M1394.50 175.5V189.3M1395.50 171.6V191.8M1396.50 174.0V189.1M1397.50 173.7V188.1M1398.50 175.0V188.9M1399.50 173.5V192.7M1400.50 171.3V196.6M1401.50 170.3V184.5M1402.50 171.6V182.1M1403.50 171.3V184.5M1404.50 171.3V186.6M1405.50 173.7V186.6M1406.50 169.2V186.6M1408.50 173.6V184.0M1409.50 169.3V187.6M1411.50 167.8V186.1M1412.50 167.6V179.5M1413.50 167.3V192.7M1415.50 171.2V189.4M1416.50 167.4V183.0M1417.50 170.2V182.3M1418.50 164.9V185.2M1419.50 171.0V185.5M1420.50 169.7V180.6M1421.50 164.9V179.9M1422.50 164.9V181.5M1423.50 166.5V174.5M1424.50 165.6V183.7M1425.50 163.1V178.5M1426.50 163.5V177.1M1427.50 167.6V181.0M1428.50 167.7V188.4M1429.50 165.2V180.5M1430.50 163.6V180.2M1431.50 168.2V185.9M1432.50 170.1V183.0M1433.50 170.4V186.9M1434.50 173.3V188.5M1435.50 170.9V183.8M1436.50 178.2V185.4M1437.50 168.6V189.4" fill="none" stroke="#ec2027" stroke-width="1.0"/>
<path d="M872.50 206.1V230.0M878.50 210.7V229.5M883.50 216.2V228.9M893.50 214.4V229.5M895.50 209.9V227.9M897.50 212.3V226.0M909.50 206.4V226.2M910.50 208.6V233.3M911.50 219.8V230.3M912.50 215.3V230.2M914.50 215.7V234.5M920.50 216.1V227.6M937.50 199.4V220.0M957.50 201.3V221.7M967.50 202.9V217.2M968.50 198.2V214.0M969.50 203.1V216.3M972.50 198.5V216.4M1002.50 194.4V216.5M1034.50 200.9V217.0M1036.50 199.4V215.7M1038.50 195.6V218.8M1043.50 207.3V220.1M1053.50 203.4V223.7M1063.50 206.4V221.1M1072.50 210.9V220.6M1073.50 210.5V228.3M1078.50 202.4V217.2M1091.50 202.2V218.0M1092.50 198.7V219.8M1093.50 205.5V213.5M1099.50 198.4V219.6M1122.50 200.8V213.7M1124.50 197.2V213.4M1144.50 192.8V205.0M1147.50 187.3V200.5M1168.50 182.3V198.9M1179.50 187.8V199.8M1187.50 185.0V203.7M1218.50 198.8V216.3M1229.50 195.5V219.0M1233.50 203.2V211.2M1247.50 202.1V214.9M1254.50 202.3V226.2M1261.50 206.4V219.4M1280.50 203.2V228.4M1290.50 201.6V222.5M1293.50 202.3V217.1M1343.50 194.7V213.0M1372.50 163.8V177.2M1387.50 170.7V189.0M1393.50 179.0V189.5M1407.50 167.7V184.0M1410.50 173.1V186.4M1414.50 168.8V185.4" fill="none" stroke="#ec2027" stroke-width="1.0" stroke-opacity="0.55"/>
<path d="M861.50 196.0V208.0M862.50 198.9V206.2M863.50 194.5V206.8M864.50 195.1V207.5M865.50 193.8V207.2M866.50 195.5V211.5M867.50 198.2V214.2M868.50 200.3V210.9M869.50 194.3V204.7M870.50 193.8V206.0M871.50 194.8V207.4M872.50 194.9V204.6M873.50 194.0V210.1M874.50 193.0V210.7M875.50 197.9V208.1M876.50 199.0V209.1M877.50 195.6V212.7M878.50 195.6V214.1M879.50 204.0V213.1M880.50 202.3V212.8M881.50 203.4V210.3M882.50 205.2V216.4M883.50 205.0V220.1M884.50 205.8V217.4M885.50 205.8V216.6M886.50 207.6V219.4M887.50 208.3V216.7M888.50 203.2V213.6M889.50 209.1V220.4M890.50 208.1V218.0M891.50 206.5V218.0M892.50 202.7V223.1M893.50 204.9V221.4M896.50 202.7V219.9M897.50 204.0V216.3M898.50 200.8V217.2M899.50 204.7V214.2M900.50 198.6V213.7M901.50 202.8V215.7M902.50 199.9V210.9M903.50 206.1V224.7M904.50 206.7V221.3M905.50 206.7V217.5M906.50 205.9V219.0M907.50 206.9V219.0M908.50 210.2V216.5M909.50 206.5V221.4M910.50 207.6V227.5M911.50 209.8V222.2M912.50 206.0V217.1M913.50 206.0V221.5M914.50 206.2V219.2M915.50 209.0V222.8M916.50 210.5V218.7M917.50 204.8V229.0M919.50 209.1V221.4M920.50 211.3V224.2M921.50 209.0V217.6M922.50 211.5V225.1M923.50 213.4V224.2M924.50 210.2V224.4M925.50 210.2V220.5M926.50 210.9V221.6M927.50 210.8V229.2M928.50 210.3V230.4M929.50 213.6V230.4M930.50 214.6V226.4M931.50 214.1V225.6M932.50 211.9V228.4M934.50 215.6V220.2M935.50 211.7V218.0M936.50 214.3V221.0M937.50 207.0V222.9M938.50 217.1V220.6M939.50 206.7V220.6M940.50 209.3V222.1M941.50 212.2V223.5M942.50 212.7V220.5M943.50 209.6V223.0M944.50 211.7V228.0M945.50 210.9V222.9M946.50 204.8V218.6M947.50 205.9V219.7M949.50 203.4V223.4M950.50 208.9V226.3M952.50 206.8V215.7M953.50 207.7V215.5M954.50 207.2V230.4M955.50 207.6V221.1M957.50 207.8V217.7M958.50 203.6V218.6M959.50 203.6V220.2M960.50 205.6V217.1M961.50 203.4V219.5M962.50 199.7V220.4M963.50 207.6V217.4M964.50 202.6V216.9M965.50 201.2V216.9M966.50 207.7V217.7M967.50 199.5V217.7M968.50 201.1V219.3M969.50 201.1V215.3M970.50 204.7V220.8M971.50 202.1V215.7M972.50 206.9V215.4M973.50 208.2V217.5M974.50 201.8V217.5M975.50 206.1V215.3M976.50 201.7V214.5M977.50 203.9V214.1M978.50 199.9V213.9M979.50 202.1V212.5M980.50 207.9V213.0M982.50 201.4V217.1M983.50 201.4V220.2M984.50 203.4V219.6M985.50 205.5V220.4M986.50 201.0V221.0M987.50 206.8V221.6M989.50 206.2V219.1M990.50 205.2V213.0M991.50 203.9V216.6M992.50 210.5V218.8M993.50 202.2V221.5M994.50 201.6V219.2M996.50 207.3V219.8M997.50 207.2V219.8M998.50 206.4V222.1M999.50 203.7V215.7M1001.50 209.6V217.3M1002.50 205.4V217.3M1003.50 208.0V212.8M1004.50 204.7V213.0M1005.50 202.7V212.3M1006.50 200.2V219.5M1007.50 200.2V214.8M1008.50 204.3V216.2M1009.50 207.2V221.3M1010.50 203.4V221.3M1011.50 197.5V214.4M1012.50 202.8V214.2M1013.50 201.9V220.9M1014.50 202.9V217.8M1015.50 206.2V219.8M1016.50 203.7V213.9M1018.50 205.2V216.5M1019.50 205.2V216.0M1020.50 209.4V218.3M1021.50 203.5V221.3M1022.50 204.1V218.6M1023.50 211.0V223.1M1024.50 211.1V219.0M1025.50 208.8V218.5M1026.50 203.4V216.7M1027.50 208.1V217.8M1028.50 210.3V219.7M1029.50 201.4V217.3M1030.50 204.1V215.5M1031.50 207.1V218.5M1033.50 202.8V218.4M1034.50 205.8V213.5M1036.50 199.6V219.4M1037.50 204.3V216.6M1038.50 204.6V215.3M1039.50 203.4V218.4M1040.50 206.2V215.8M1041.50 202.2V216.9M1042.50 202.2V213.7M1043.50 200.7V215.6M1044.50 203.0V213.1M1045.50 207.3V217.0M1046.50 205.9V218.3M1048.50 209.0V217.8M1050.50 203.5V217.4M1051.50 201.8V219.4M1052.50 208.1V217.8M1053.50 199.4V218.0M1054.50 206.5V222.8M1055.50 207.9V216.8M1056.50 206.5V214.4M1057.50 202.5V216.5M1058.50 207.2V214.0M1059.50 206.7V213.8M1060.50 205.6V216.7M1061.50 201.7V217.2M1062.50 205.4V217.8M1063.50 203.7V215.0M1064.50 203.0V215.2M1065.50 201.7V214.7M1067.50 200.2V216.7M1068.50 207.3V213.3M1069.50 202.0V214.0M1070.50 203.9V213.6M1071.50 204.6V217.9M1072.50 206.2V216.1M1073.50 204.0V217.0M1074.50 201.2V211.6M1075.50 201.2V211.1M1076.50 203.6V216.4M1077.50 207.3V216.9M1078.50 205.2V217.4M1079.50 205.3V216.2M1080.50 205.3V215.2M1081.50 203.7V214.6M1082.50 204.3V216.4M1083.50 206.7V215.3M1085.50 203.8V216.9M1086.50 200.8V213.2M1087.50 200.8V213.9M1088.50 200.1V214.8M1089.50 199.1V214.9M1090.50 195.3V212.6M1091.50 200.7V211.3M1092.50 199.9V213.3M1093.50 200.2V211.4M1094.50 200.9V211.2M1095.50 201.8V215.1M1096.50 203.8V216.3M1097.50 202.3V216.6M1098.50 198.1V212.0M1099.50 202.5V212.3M1100.50 200.9V217.2M1101.50 202.8V217.2M1102.50 201.3V216.9M1103.50 201.2V213.6M1104.50 200.3V215.2M1105.50 203.1V212.8M1106.50 201.8V211.3M1107.50 204.7V216.7M1108.50 206.1V216.2M1109.50 203.7V213.5M1110.50 199.9V214.2M1112.50 202.0V214.5M1113.50 204.3V218.4M1114.50 205.7V222.2M1115.50 207.4V221.9M1116.50 205.4V222.6M1117.50 207.4V222.5M1119.50 207.9V219.9M1120.50 207.1V219.9M1121.50 205.3V220.6M1122.50 206.8V215.7M1123.50 203.0V222.9M1124.50 204.0V216.0M1125.50 199.9V213.6M1126.50 204.1V213.7M1127.50 202.7V213.2M1128.50 204.2V216.6M1129.50 201.3V212.0M1130.50 207.2V216.9M1131.50 206.4V216.1M1132.50 205.5V221.8M1133.50 207.3V219.4M1134.50 207.3V221.3M1136.50 207.4V219.4M1137.50 204.3V218.3M1138.50 203.1V218.6M1139.50 209.4V219.4M1140.50 205.3V220.7M1142.50 202.3V211.4M1143.50 200.2V210.2M1144.50 200.6V209.7M1145.50 200.6V210.4M1146.50 199.8V212.0M1147.50 202.4V206.6M1148.50 202.0V212.3M1149.50 205.8V215.7M1150.50 204.5V214.3M1151.50 199.9V215.9M1152.50 200.2V213.5M1153.50 200.8V213.6M1154.50 195.1V212.9M1155.50 204.1V210.5M1156.50 206.4V212.6M1158.50 200.2V213.8M1159.50 203.8V217.5M1160.50 201.4V211.2M1161.50 201.4V214.6M1162.50 201.9V215.6M1163.50 198.7V211.3M1164.50 197.6V215.5M1165.50 198.6V214.5M1166.50 201.7V212.0M1167.50 197.9V213.1M1168.50 202.8V213.1M1169.50 204.7V213.3M1170.50 203.9V218.3M1171.50 205.3V216.1M1172.50 204.0V218.5M1173.50 204.9V219.0M1174.50 198.9V212.1M1175.50 205.4V213.1M1176.50 199.6V211.1M1177.50 199.8V221.5M1178.50 202.0V213.7M1179.50 202.4V217.3M1180.50 203.0V217.0M1181.50 203.0V212.2M1182.50 204.7V214.5M1183.50 204.1V215.1M1184.50 201.9V216.9M1185.50 202.3V210.5M1187.50 202.6V214.9M1188.50 204.0V215.7M1189.50 194.9V212.5M1190.50 194.9V215.4M1191.50 201.7V223.8M1192.50 201.7V209.6M1193.50 203.0V212.3M1194.50 203.8V213.3M1195.50 200.9V213.0M1196.50 201.5V214.3M1197.50 198.6V214.6M1198.50 199.9V216.0M1199.50 200.0V211.0M1200.50 202.5V210.8M1201.50 197.7V213.1M1202.50 204.9V216.5M1203.50 202.5V214.2M1204.50 202.1V213.6M1205.50 205.8V220.7M1206.50 202.2V218.6M1207.50 203.4V218.6M1208.50 198.9V210.4M1210.50 200.9V214.9M1211.50 200.7V216.9M1212.50 202.0V217.8M1213.50 202.8V212.1M1214.50 202.9V217.5M1215.50 195.4V212.9M1216.50 202.7V215.0M1217.50 199.8V217.1M1218.50 199.0V218.2M1219.50 202.9V213.4M1220.50 204.1V217.7M1221.50 202.1V216.3M1222.50 205.7V216.9M1223.50 202.6V215.6M1224.50 203.2V215.0M1225.50 205.4V218.1M1226.50 205.8V218.1M1227.50 203.1V215.1M1228.50 202.6V215.8M1229.50 205.7V215.4M1230.50 200.6V219.8M1231.50 204.4V213.7M1232.50 205.2V212.5M1233.50 204.8V218.3M1234.50 204.3V216.1M1235.50 202.6V210.2M1236.50 202.6V217.1M1237.50 193.7V216.6M1238.50 195.2V213.0M1239.50 198.7V211.3M1240.50 203.6V218.2M1241.50 199.2V213.0M1242.50 194.5V210.5M1243.50 192.0V204.7M1244.50 193.9V205.6M1245.50 196.6V212.0M1246.50 193.4V209.1M1247.50 198.6V211.0M1248.50 200.9V209.1M1249.50 199.2V211.7M1250.50 197.6V213.4M1251.50 198.8V208.7M1252.50 201.6V213.1M1253.50 188.8V213.6M1254.50 192.6V213.5M1255.50 201.2V211.4M1256.50 198.3V208.8M1257.50 198.2V212.6M1258.50 196.1V207.4M1259.50 193.0V207.9M1260.50 200.2V205.8M1261.50 195.2V211.5M1262.50 198.4V208.2M1263.50 198.4V215.2M1264.50 199.8V216.5M1265.50 198.7V211.7M1266.50 197.4V207.5M1267.50 193.3V211.2M1268.50 203.8V210.0M1269.50 204.6V215.7M1270.50 202.6V222.1M1271.50 195.6V214.0M1272.50 195.6V214.6M1273.50 203.9V214.4M1274.50 204.6V217.5M1275.50 200.2V216.0M1276.50 202.4V217.5M1277.50 204.6V215.8M1278.50 204.6V211.6M1279.50 203.7V214.4M1280.50 205.2V216.5M1281.50 201.7V214.3M1282.50 201.2V212.8M1283.50 200.8V212.8M1285.50 205.4V215.9M1286.50 202.5V215.9M1287.50 197.9V213.7M1288.50 201.3V210.5M1289.50 201.3V211.1M1290.50 201.3V213.4M1292.50 202.5V216.4M1293.50 198.9V212.7M1294.50 201.5V214.5M1295.50 202.5V214.5M1296.50 200.2V213.0M1297.50 200.8V219.1M1298.50 198.1V214.2M1299.50 199.8V209.4M1300.50 199.8V216.1M1302.50 196.0V213.2M1303.50 196.0V213.1M1304.50 199.2V211.3M1305.50 201.6V211.3M1306.50 203.1V213.9M1307.50 200.9V213.2M1308.50 200.3V211.4M1309.50 201.3V211.5M1310.50 198.8V212.5M1311.50 201.3V212.5M1312.50 203.2V215.8M1313.50 205.0V212.4M1314.50 202.1V213.4M1315.50 200.8V214.9M1316.50 203.2V213.4M1317.50 199.8V215.2M1318.50 206.6V215.2M1319.50 201.9V221.6M1320.50 208.8V217.1M1321.50 203.4V215.7M1322.50 203.0V215.0M1323.50 201.7V215.5M1325.50 207.2V217.6M1326.50 206.1V214.7M1327.50 210.5V224.5M1328.50 208.8V217.4M1329.50 208.9V220.5M1330.50 207.4V216.7M1331.50 204.4V215.9M1332.50 201.7V216.2M1333.50 202.2V220.9M1334.50 202.0V220.9M1335.50 201.7V220.9M1336.50 201.7V216.7M1337.50 203.1V215.3M1338.50 200.6V214.3M1340.50 207.4V217.3M1341.50 202.0V216.2M1342.50 209.3V221.3M1343.50 209.3V218.0M1344.50 206.3V219.7M1345.50 206.3V218.6M1346.50 212.0V220.8M1349.50 210.7V218.7M1350.50 207.6V222.9M1351.50 205.0V217.6M1353.50 209.1V221.5M1354.50 208.2V221.5M1355.50 206.4V228.4M1356.50 207.4V222.4M1357.50 205.7V222.4M1358.50 208.2V218.5M1359.50 211.4V218.9M1360.50 211.4V224.9M1361.50 214.9V233.1M1362.50 214.8V226.5M1363.50 208.5V223.6M1364.50 214.5V226.8M1365.50 217.1V224.1M1366.50 209.9V228.5M1367.50 209.9V224.9M1368.50 216.5V228.4M1369.50 205.8V224.4M1370.50 209.8V226.7M1371.50 206.6V219.1M1372.50 206.6V221.5M1373.50 207.3V221.9M1374.50 204.0V227.4M1375.50 213.2V222.5M1376.50 210.7V224.2M1377.50 211.6V223.8M1378.50 207.8V220.0M1379.50 204.6V220.5M1380.50 209.2V218.2M1381.50 208.1V222.3M1382.50 207.8V221.0M1383.50 205.3V227.1M1387.50 208.4V224.9M1388.50 214.5V225.7M1389.50 214.4V224.3M1390.50 212.9V225.9M1391.50 217.9V224.8M1392.50 216.3V231.1M1393.50 211.2V228.6M1394.50 216.2V230.1M1395.50 218.7V230.9M1396.50 215.8V223.2M1397.50 212.3V228.2M1398.50 210.9V226.4M1399.50 211.9V226.4M1400.50 213.7V221.0M1401.50 209.5V219.6M1402.50 213.9V222.2M1403.50 210.6V223.9M1404.50 206.8V223.9M1405.50 206.8V228.0M1406.50 214.6V223.7M1407.50 212.5V221.3M1409.50 216.2V224.7M1410.50 212.5V220.5M1411.50 208.0V222.4M1412.50 202.5V221.6M1413.50 207.6V222.7M1414.50 208.4V222.5M1415.50 201.8V220.5M1416.50 208.1V220.8M1417.50 208.1V217.1M1418.50 206.5V217.5M1419.50 205.0V215.3M1420.50 206.9V217.2M1421.50 206.3V220.0M1422.50 200.1V219.4M1423.50 208.0V220.4M1424.50 208.5V220.6M1425.50 209.0V220.9M1426.50 207.2V218.5M1427.50 206.8V215.4M1429.50 205.7V221.0M1431.50 210.1V223.0M1433.50 206.0V217.5M1434.50 203.5V216.5M1435.50 200.6V217.2M1436.50 206.9V217.9M1437.50 207.0V218.7" fill="none" stroke="#3853a4" stroke-width="1.0"/>
<path d="M894.50 203.3V219.9M895.50 203.3V219.5M918.50 204.8V223.0M933.50 210.2V222.2M948.50 206.9V223.4M951.50 207.8V222.8M956.50 207.6V219.5M981.50 208.2V215.5M988.50 204.0V216.4M995.50 205.6V218.2M1000.50 201.6V218.1M1017.50 206.4V214.7M1032.50 205.8V212.9M1035.50 206.5V216.0M1047.50 206.4V214.6M1049.50 203.7V217.4M1066.50 207.1V213.9M1084.50 202.6V214.9M1111.50 201.7V216.4M1118.50 200.6V217.7M1135.50 202.7V212.3M1141.50 204.4V214.9M1157.50 198.4V215.9M1186.50 197.2V213.9M1209.50 201.1V213.3M1284.50 203.6V212.5M1291.50 203.6V216.2M1301.50 194.8V223.6M1324.50 198.0V217.0M1339.50 206.8V211.9M1347.50 212.0V223.5M1348.50 210.1V222.4M1352.50 205.0V223.1M1384.50 208.4V221.5M1385.50 210.5V221.3M1386.50 210.5V218.7M1408.50 211.7V222.2M1428.50 209.8V218.7M1430.50 207.5V224.4M1432.50 208.0V217.2" fill="none" stroke="#3853a4" stroke-width="1.0" stroke-opacity="0.55"/>
<path d="M861.50 208.2V217.3M862.50 201.6V215.1M863.50 205.7V213.9M864.50 203.4V212.5M866.50 202.4V218.5M867.50 203.8V218.5M869.50 203.7V219.6M870.50 203.4V218.8M872.50 205.9V216.4M873.50 205.9V217.8M874.50 208.4V218.8M875.50 209.1V224.1M876.50 202.9V222.0M877.50 209.9V218.5M878.50 202.7V217.7M879.50 202.7V220.0M880.50 208.3V219.2M881.50 207.0V222.5M882.50 204.2V215.1M883.50 207.0V220.8M884.50 207.2V226.7M885.50 211.2V220.6M886.50 208.9V222.8M887.50 211.9V223.5M888.50 207.0V222.8M889.50 207.0V222.7M890.50 212.6V222.4M891.50 208.8V221.4M893.50 210.0V227.1M894.50 208.1V223.1M895.50 208.9V226.2M896.50 212.0V224.0M898.50 207.6V225.6M900.50 210.2V224.7M901.50 207.0V218.7M902.50 207.9V226.7M903.50 206.5V220.3M904.50 211.7V221.3M905.50 206.1V221.7M906.50 205.0V224.2M907.50 209.8V222.6M908.50 210.1V217.6M909.50 212.9V225.2M910.50 211.2V222.9M911.50 207.9V225.2M912.50 208.6V225.9M913.50 201.0V217.9M914.50 204.9V217.6M915.50 206.8V222.3M916.50 214.0V226.5M917.50 209.0V221.5M918.50 209.0V220.6M919.50 208.1V227.6M920.50 208.2V222.0M921.50 202.6V221.0M922.50 209.3V223.4M923.50 204.1V222.7M924.50 201.3V222.7M925.50 198.7V225.5M926.50 202.9V222.4M927.50 203.0V216.7M928.50 199.1V216.7M929.50 204.4V218.6M930.50 202.1V217.5M931.50 197.9V215.8M934.50 198.3V217.9M935.50 201.0V214.9M936.50 199.0V218.4M937.50 201.4V212.0M938.50 199.8V210.0M939.50 201.3V211.6M940.50 197.8V212.6M941.50 199.0V218.4M942.50 199.4V213.4M943.50 197.9V208.9M944.50 198.3V209.4M945.50 195.5V212.8M947.50 189.6V209.0M948.50 192.9V212.8M949.50 192.1V201.7M950.50 188.5V205.2M951.50 189.2V208.4M952.50 184.5V203.6M954.50 186.7V199.2M955.50 187.3V199.6M956.50 192.0V203.7M957.50 193.2V208.6M958.50 192.4V205.9M960.50 191.1V205.2M961.50 187.2V205.3M963.50 189.5V203.8M964.50 191.9V208.1M965.50 193.7V211.4M966.50 187.0V202.2M967.50 184.8V205.1M968.50 182.0V209.0M969.50 186.2V209.0M970.50 187.1V206.9M971.50 187.5V206.6M972.50 184.1V193.0M973.50 183.5V196.0M974.50 184.3V206.3M975.50 185.6V204.8M976.50 192.5V204.3M978.50 184.7V201.9M979.50 179.2V200.2M980.50 184.3V203.8M981.50 184.2V209.0M982.50 182.1V209.0M983.50 190.5V201.3M985.50 187.6V202.6M986.50 176.3V206.1M987.50 180.2V197.4M988.50 186.5V200.3M989.50 181.7V196.5M990.50 187.6V196.7M991.50 181.3V204.1M992.50 183.2V204.0M993.50 186.0V199.6M994.50 172.5V196.6M995.50 176.4V208.1M996.50 179.4V205.8M997.50 174.7V193.5M998.50 180.7V205.5M1000.50 185.4V206.0M1001.50 184.8V198.6M1002.50 183.7V198.5M1004.50 178.2V197.5M1005.50 181.1V198.1M1006.50 181.1V197.5M1008.50 181.0V196.9M1009.50 177.8V206.2M1010.50 186.7V206.5M1011.50 181.9V208.3M1012.50 177.6V204.1M1013.50 181.9V201.0M1014.50 180.4V189.8M1015.50 183.6V199.0M1017.50 176.2V197.1M1018.50 176.2V206.5M1019.50 180.9V198.0M1020.50 178.6V198.0M1021.50 180.0V206.1M1022.50 174.8V194.8M1023.50 185.7V197.1M1024.50 183.5V198.6M1025.50 180.3V199.7M1026.50 181.4V206.7M1027.50 181.4V195.3M1028.50 178.6V200.5M1030.50 181.7V198.6M1031.50 186.6V207.3M1032.50 186.2V200.1M1033.50 181.8V202.2M1034.50 181.8V196.5M1035.50 184.6V196.5M1036.50 177.0V193.9M1037.50 176.3V193.1M1038.50 176.3V203.1M1039.50 184.7V195.8M1040.50 179.5V190.2M1041.50 175.4V196.6M1042.50 173.5V196.6M1043.50 175.4V201.0M1044.50 175.5V196.4M1046.50 163.1V189.5M1047.50 176.0V185.5M1048.50 166.0V182.3M1049.50 165.5V182.9M1050.50 169.3V183.2M1051.50 167.3V190.8M1052.50 168.2V190.8M1053.50 164.0V183.4M1054.50 158.9V187.7M1055.50 158.9V182.2M1056.50 169.6V183.7M1057.50 170.9V183.7M1058.50 169.1V185.6M1059.50 168.7V180.7M1060.50 158.0V182.9M1061.50 160.6V182.9M1062.50 161.4V184.9M1063.50 167.8V184.9M1064.50 158.7V179.1M1066.50 160.3V181.4M1067.50 167.9V191.6M1068.50 160.9V191.6M1070.50 161.0V182.1M1071.50 165.2V184.3M1072.50 162.3V188.4M1073.50 165.6V188.8M1074.50 154.3V180.1M1075.50 160.9V178.2M1076.50 158.2V180.4M1077.50 160.0V177.1M1078.50 152.3V179.0M1079.50 151.8V179.8M1081.50 158.1V180.8M1082.50 163.4V175.4M1084.50 165.4V184.0M1085.50 153.8V177.8M1086.50 156.6V183.9M1087.50 161.9V189.1M1088.50 153.9V193.4M1089.50 163.5V179.3M1090.50 151.8V179.3M1091.50 151.8V174.4M1092.50 161.2V180.0M1093.50 156.9V183.0M1094.50 156.9V187.0M1095.50 157.3V177.0M1096.50 160.1V181.2M1098.50 151.3V174.1M1099.50 160.4V179.2M1101.50 158.0V177.8M1102.50 162.0V178.7M1103.50 162.8V184.0M1104.50 156.4V174.9M1105.50 161.4V180.7M1106.50 146.4V183.0M1107.50 154.6V194.4M1108.50 151.3V170.4M1109.50 154.4V173.0M1110.50 152.2V173.4M1111.50 138.8V172.6M1112.50 146.6V172.6M1113.50 151.7V170.3M1114.50 147.2V165.2M1115.50 143.3V168.0M1116.50 148.5V174.9M1117.50 145.6V174.7M1118.50 138.1V163.4M1119.50 141.9V165.6M1120.50 141.3V167.1M1121.50 135.4V161.5M1122.50 135.4V158.0M1123.50 124.0V159.5M1124.50 124.6V151.1M1125.50 121.1V147.0M1126.50 118.3V150.2M1127.50 133.1V150.9M1128.50 127.9V149.1M1129.50 121.3V149.1M1130.50 121.0V151.0M1131.50 119.0V149.2M1132.50 124.8V146.5M1133.50 112.9V141.9M1134.50 114.2V138.1M1135.50 122.7V149.2M1136.50 106.2V148.2M1137.50 117.9V134.7M1139.50 113.8V139.8M1140.50 109.7V140.9M1141.50 121.1V140.5M1142.50 109.8V137.8M1143.50 114.1V134.8M1144.50 110.7V133.2M1145.50 109.0V136.6M1146.50 118.6V136.6M1147.50 105.9V131.8M1148.50 116.0V135.4M1149.50 113.8V145.8M1150.50 114.3V138.7M1152.50 107.3V150.6M1153.50 118.4V150.2M1154.50 116.9V153.3M1155.50 116.9V135.5M1156.50 112.7V139.1M1157.50 120.7V139.4M1158.50 124.8V148.9M1159.50 118.3V144.8M1160.50 125.2V143.6M1161.50 121.4V139.0M1162.50 130.7V143.3M1163.50 125.9V148.2M1164.50 125.0V150.8M1166.50 121.1V151.0M1168.50 103.3V142.8M1169.50 103.3V147.8M1170.50 126.4V149.8M1171.50 125.5V153.2M1172.50 117.1V142.9M1173.50 124.8V150.3M1174.50 129.3V145.3M1175.50 124.2V155.5M1176.50 126.1V150.2M1177.50 116.0V146.8M1178.50 117.5V141.2M1179.50 111.3V155.6M1180.50 120.6V146.4M1181.50 118.6V151.9M1182.50 110.7V149.6M1183.50 120.7V154.1M1184.50 116.7V167.5M1185.50 112.3V143.7M1186.50 123.9V151.8M1187.50 130.8V148.8M1188.50 125.4V148.6M1190.50 117.1V140.6M1191.50 124.3V154.3M1192.50 117.8V143.8M1193.50 121.4V146.6M1194.50 122.9V146.6M1195.50 115.4V146.8M1196.50 122.1V142.3M1197.50 122.1V147.8M1198.50 118.8V146.1M1199.50 123.3V144.7M1200.50 115.9V154.6M1201.50 126.0V151.1M1202.50 114.0V142.1M1203.50 116.6V145.8M1204.50 123.2V152.2M1205.50 126.3V153.7M1206.50 126.0V151.7M1207.50 122.4V162.7M1208.50 123.3V145.3M1209.50 110.5V145.3M1210.50 118.2V141.6M1211.50 115.2V138.1M1212.50 119.6V139.4M1213.50 112.6V151.8M1214.50 124.5V153.1M1215.50 130.9V148.7M1216.50 126.7V151.0M1217.50 122.1V147.9M1218.50 123.7V142.9M1219.50 126.0V151.8M1220.50 127.8V156.2M1222.50 125.2V153.4M1223.50 123.9V156.3M1224.50 132.6V149.9M1225.50 119.9V148.4M1226.50 122.6V142.1M1227.50 116.5V143.2M1228.50 119.8V145.1M1229.50 122.6V145.1M1230.50 117.1V156.3M1231.50 123.2V147.4M1232.50 133.2V145.0M1233.50 126.8V155.3M1234.50 127.2V147.6M1235.50 119.9V149.3M1236.50 118.0V142.3M1237.50 130.1V156.0M1238.50 127.8V156.5M1239.50 122.3V146.1M1240.50 111.0V142.9M1242.50 126.3V154.5M1243.50 118.0V145.1M1245.50 117.3V146.5M1246.50 121.9V146.5M1247.50 122.1V140.2M1248.50 121.8V142.6M1249.50 113.1V145.2M1250.50 122.8V143.8M1251.50 127.9V148.0M1252.50 128.1V149.7M1253.50 123.1V158.8M1254.50 119.3V153.8M1255.50 119.9V146.8M1256.50 118.7V145.5M1257.50 123.4V153.6M1258.50 122.5V147.9M1259.50 124.8V153.1M1260.50 122.3V147.2M1261.50 123.3V154.5M1262.50 129.6V147.9M1263.50 119.9V143.2M1264.50 129.8V149.4M1265.50 128.6V154.4M1266.50 124.1V154.1M1267.50 118.9V141.3M1268.50 118.5V152.8M1269.50 137.4V146.2M1270.50 116.9V152.8M1271.50 116.9V135.2M1273.50 119.8V145.0M1274.50 122.1V145.0M1275.50 126.7V142.3M1276.50 119.0V130.7M1277.50 119.5V148.2M1278.50 124.7V147.6M1279.50 110.6V151.3M1280.50 122.8V142.4M1281.50 122.8V144.6M1282.50 118.2V139.6M1283.50 123.3V143.7M1284.50 123.3V145.0M1285.50 114.0V150.7M1286.50 125.2V150.4M1287.50 104.6V144.8M1288.50 123.5V137.1M1289.50 110.7V148.3M1290.50 110.0V138.7M1291.50 110.0V136.4M1292.50 115.7V137.2M1293.50 120.8V138.0M1294.50 117.3V144.2M1295.50 112.8V137.5M1296.50 121.0V137.7M1297.50 117.2V137.5M1299.50 112.3V143.6M1301.50 112.7V145.0M1302.50 114.0V141.7M1303.50 115.7V139.8M1304.50 119.5V143.1M1305.50 107.3V135.0M1306.50 115.9V145.7M1307.50 114.2V145.5M1308.50 117.4V144.4M1309.50 126.7V147.3M1310.50 128.8V151.8M1311.50 114.9V145.7M1312.50 114.9V151.9M1313.50 117.8V148.4M1314.50 127.2V145.6M1315.50 124.8V156.7M1316.50 120.1V135.8M1319.50 117.0V146.7M1320.50 115.4V146.7M1321.50 118.3V143.8M1322.50 116.7V143.8M1323.50 107.3V143.6M1324.50 115.5V142.0M1325.50 112.3V136.6M1326.50 127.1V141.9M1327.50 118.3V143.0M1328.50 115.3V142.8M1329.50 124.3V151.1M1331.50 114.9V143.8M1332.50 130.9V145.9M1333.50 116.8V145.4M1334.50 108.9V152.9M1335.50 103.3V135.0M1336.50 118.7V149.3M1337.50 119.8V148.8M1338.50 119.5V157.7M1339.50 121.5V147.6M1340.50 112.0V143.7M1341.50 119.1V142.8M1342.50 117.2V152.7M1343.50 121.7V154.1M1344.50 124.5V154.1M1345.50 119.4V159.6M1347.50 118.6V145.8M1348.50 118.9V154.9M1349.50 118.9V145.0M1350.50 130.5V154.7M1351.50 120.8V151.1M1352.50 136.0V152.5M1353.50 125.9V149.9M1354.50 119.9V155.1M1355.50 119.9V153.2M1356.50 120.6V153.3M1357.50 123.1V153.4M1358.50 131.0V147.6M1359.50 123.2V154.4M1360.50 133.0V148.7M1361.50 121.1V155.7M1362.50 116.6V155.7M1363.50 126.3V145.5M1364.50 124.5V145.5M1365.50 122.2V143.5M1366.50 128.4V145.5M1367.50 122.5V148.9M1368.50 110.9V139.9M1369.50 111.9V145.4M1371.50 117.3V145.2M1372.50 112.3V143.2M1373.50 106.8V142.6M1374.50 130.3V139.8M1375.50 124.4V157.6M1376.50 123.2V157.6M1377.50 123.2V148.1M1378.50 124.5V151.3M1379.50 124.4V149.3M1380.50 120.7V152.4M1382.50 121.7V149.2M1383.50 120.6V150.8M1384.50 127.3V156.2M1385.50 127.0V150.1M1386.50 127.0V152.2M1387.50 127.2V151.1M1388.50 121.7V150.1M1389.50 129.4V143.4M1390.50 124.5V153.9M1391.50 127.7V143.0M1392.50 127.7V149.8M1393.50 120.5V147.5M1394.50 128.2V149.9M1396.50 127.8V150.1M1397.50 119.4V145.7M1398.50 121.5V138.2M1399.50 124.6V149.1M1400.50 112.1V139.3M1401.50 126.2V148.5M1402.50 116.0V148.5M1403.50 127.1V144.5M1404.50 114.8V147.7M1405.50 127.5V153.8M1406.50 114.4V153.5M1407.50 125.3V146.6M1408.50 130.4V146.6M1410.50 129.7V148.8M1411.50 129.7V149.1M1412.50 115.0V146.2M1413.50 123.0V152.7M1414.50 131.5V148.6M1415.50 127.4V148.0M1416.50 119.5V161.4M1417.50 124.6V141.7M1418.50 122.2V154.2M1419.50 128.7V154.8M1420.50 127.6V151.8M1421.50 119.7V170.1M1422.50 126.9V147.8M1423.50 129.0V158.5M1424.50 121.5V149.0M1425.50 123.1V164.7M1426.50 126.2V147.2M1427.50 130.1V162.5M1428.50 135.3V159.7M1429.50 128.0V158.9M1430.50 126.9V168.4M1431.50 126.4V152.4M1433.50 129.5V168.5M1434.50 129.5V166.3M1435.50 129.1V153.6M1437.50 131.8V152.6" fill="none" stroke="#bb8e8a" stroke-width="1.0"/>
<path d="M865.50 202.9V213.0M868.50 207.8V219.2M871.50 206.9V218.5M892.50 209.9V221.9M897.50 207.8V226.2M899.50 209.9V224.4M932.50 204.0V214.8M933.50 198.3V215.8M946.50 194.6V209.0M953.50 192.4V204.9M959.50 186.6V205.7M962.50 187.6V200.3M977.50 187.1V211.2M984.50 179.1V199.0M999.50 181.3V201.6M1003.50 183.9V200.5M1007.50 182.6V200.1M1016.50 182.3V196.5M1029.50 181.7V194.9M1045.50 177.7V189.0M1065.50 166.2V181.4M1069.50 160.9V181.7M1080.50 157.2V182.4M1083.50 159.3V178.3M1097.50 155.0V180.2M1100.50 163.9V179.7M1138.50 117.9V139.8M1151.50 107.3V138.7M1165.50 117.7V144.1M1167.50 113.5V143.1M1189.50 125.8V144.3M1221.50 125.2V154.2M1241.50 127.3V154.9M1244.50 117.3V146.5M1272.50 121.7V144.4M1298.50 113.5V142.5M1300.50 118.2V140.1M1317.50 116.1V143.1M1318.50 116.1V137.8M1330.50 117.2V143.8M1346.50 117.0V149.9M1370.50 114.6V144.8M1381.50 128.9V151.3M1395.50 124.8V152.3M1409.50 126.3V147.7M1432.50 132.1V149.2M1436.50 129.1V162.3" fill="none" stroke="#bb8e8a" stroke-width="1.0" stroke-opacity="0.55"/>
<path d="M862.50 176.8V185.3M864.50 170.2V183.8M865.50 172.6V187.5M866.50 172.6V184.0M867.50 168.5V182.2M868.50 174.5V182.0M869.50 177.5V189.0M870.50 172.2V189.0M871.50 175.8V186.9M873.50 179.5V191.8M874.50 179.3V191.2M875.50 181.4V192.8M876.50 181.2V192.8M877.50 180.0V194.6M878.50 181.5V197.3M879.50 184.0V195.5M881.50 187.7V192.8M883.50 186.1V199.5M884.50 183.9V201.9M885.50 188.3V206.2M886.50 188.9V198.1M887.50 186.4V200.0M888.50 187.0V198.3M889.50 187.0V202.4M890.50 190.7V204.6M891.50 193.4V202.3M892.50 189.1V202.3M893.50 191.8V202.5M894.50 192.4V202.5M895.50 188.2V199.6M896.50 190.0V204.2M897.50 190.9V202.7M898.50 191.0V198.9M899.50 188.0V203.3M900.50 186.5V203.3M901.50 191.8V200.9M902.50 186.7V200.9M903.50 190.8V198.7M904.50 190.8V194.3M906.50 185.9V201.4M907.50 191.3V203.2M908.50 191.4V203.2M910.50 191.4V201.3M912.50 195.4V207.0M913.50 188.8V202.6M914.50 188.8V205.3M915.50 193.4V203.8M916.50 190.9V204.9M917.50 196.0V206.5M918.50 199.7V210.8M919.50 197.8V205.5M920.50 197.9V208.2M921.50 195.6V208.9M922.50 195.2V208.4M923.50 194.2V202.5M924.50 193.6V204.4M925.50 191.8V210.1M926.50 191.8V205.9M927.50 194.4V206.0M928.50 193.8V207.4M929.50 195.7V205.3M930.50 198.3V205.3M931.50 192.5V204.8M933.50 191.0V204.1M934.50 196.2V210.9M935.50 199.2V206.2M936.50 198.8V208.9M937.50 199.1V213.4M938.50 190.5V209.4M939.50 190.5V206.0M940.50 198.3V210.7M941.50 198.3V211.2M942.50 202.9V216.5M943.50 202.9V219.3M944.50 204.1V225.0M945.50 209.1V219.8M946.50 210.5V227.3M947.50 216.9V227.3M948.50 213.4V226.0M949.50 210.2V223.0M950.50 214.4V227.3M951.50 210.7V226.6M953.50 214.4V225.3M954.50 215.7V222.4M955.50 213.2V229.2M956.50 213.2V230.3M957.50 215.8V226.2M959.50 210.1V222.2M960.50 210.6V222.6M962.50 212.8V223.2M963.50 214.9V229.0M964.50 211.9V223.7M965.50 212.0V225.5M966.50 214.7V228.2M967.50 213.6V224.0M968.50 211.7V224.3M969.50 210.7V223.1M970.50 209.2V220.9M971.50 210.5V227.3M972.50 208.7V223.9M973.50 206.7V223.9M974.50 212.0V221.7M975.50 207.3V223.1M976.50 207.5V224.9M977.50 206.3V215.9M978.50 206.8V216.5M979.50 205.7V221.9M980.50 205.1V219.5M981.50 200.2V218.9M982.50 208.6V217.5M983.50 203.2V210.6M984.50 205.3V211.5M985.50 205.0V212.4M986.50 204.3V214.3M988.50 206.2V218.3M989.50 206.5V215.7M990.50 205.5V215.6M992.50 203.6V219.0M993.50 201.8V211.9M995.50 201.4V219.1M996.50 201.4V212.6M997.50 200.7V215.9M998.50 201.7V216.1M999.50 203.2V211.2M1000.50 195.8V210.7M1001.50 201.7V212.5M1002.50 204.2V211.8M1003.50 199.5V211.1M1004.50 205.0V217.5M1005.50 205.9V215.0M1006.50 203.4V217.0M1007.50 210.1V218.9M1008.50 199.3V216.6M1009.50 201.8V216.6M1010.50 201.0V217.2M1011.50 204.3V217.2M1012.50 206.2V212.6M1014.50 204.0V217.9M1015.50 207.5V219.4M1016.50 209.9V219.3M1017.50 206.6V219.4M1018.50 209.7V217.5M1019.50 212.2V219.5M1021.50 209.8V220.8M1023.50 205.0V222.0M1024.50 207.7V220.7M1025.50 207.1V218.1M1026.50 208.8V214.0M1027.50 206.8V219.1M1028.50 206.8V217.5M1029.50 207.9V220.5M1031.50 208.5V220.2M1032.50 206.8V218.8M1033.50 210.4V220.2M1035.50 209.0V222.6M1036.50 211.7V219.2M1038.50 206.7V223.5M1039.50 207.8V222.6M1040.50 207.4V216.6M1041.50 207.5V225.0M1042.50 207.9V219.9M1043.50 212.5V222.5M1044.50 206.8V217.0M1045.50 207.1V225.4M1046.50 206.5V218.5M1047.50 207.8V219.9M1048.50 207.2V220.5M1049.50 206.8V222.6M1050.50 202.3V213.8M1051.50 206.2V213.7M1052.50 208.0V217.7M1053.50 204.6V220.9M1054.50 209.0V219.7M1056.50 202.8V223.0M1057.50 206.9V220.4M1058.50 203.1V216.2M1059.50 209.2V217.5M1060.50 206.6V216.5M1061.50 203.2V212.0M1062.50 205.4V216.4M1063.50 200.1V217.4M1064.50 204.0V215.2M1066.50 205.7V216.5M1067.50 205.2V215.2M1068.50 206.4V219.2M1069.50 205.7V215.9M1070.50 206.8V222.9M1071.50 205.7V222.9M1072.50 207.1V220.3M1073.50 208.7V218.0M1074.50 206.5V218.6M1075.50 203.1V220.9M1077.50 204.2V224.2M1078.50 207.7V223.5M1079.50 206.8V214.5M1080.50 205.1V221.5M1081.50 200.6V216.9M1082.50 200.0V214.2M1084.50 203.3V220.3M1085.50 201.0V220.3M1086.50 195.9V209.9M1087.50 197.4V209.3M1088.50 195.7V209.0M1089.50 194.6V208.3M1090.50 194.7V208.9M1091.50 201.2V213.4M1092.50 194.4V208.4M1093.50 196.3V210.0M1094.50 195.6V212.8M1095.50 198.3V217.5M1096.50 199.8V216.0M1097.50 194.8V205.0M1098.50 198.5V210.3M1099.50 194.2V211.9M1100.50 194.1V208.7M1101.50 198.8V210.4M1102.50 194.4V212.5M1104.50 200.9V209.1M1105.50 197.3V209.1M1106.50 197.6V208.2M1107.50 198.4V206.1M1109.50 193.4V205.9M1110.50 199.7V210.4M1112.50 196.8V209.5M1113.50 198.2V209.7M1114.50 197.0V210.9M1115.50 197.0V205.9M1116.50 192.0V210.1M1117.50 197.6V208.7M1118.50 195.5V210.5M1119.50 195.5V212.4M1120.50 199.2V212.4M1121.50 199.3V212.1M1122.50 199.3V211.3M1123.50 200.8V216.7M1124.50 203.5V217.0M1125.50 197.5V212.0M1127.50 202.0V212.6M1128.50 202.2V212.8M1130.50 202.1V213.5M1131.50 202.1V212.6M1132.50 196.3V212.9M1133.50 199.4V214.3M1134.50 202.0V214.9M1135.50 201.8V217.1M1136.50 201.8V216.0M1138.50 195.3V212.0M1139.50 201.1V215.2M1140.50 202.7V215.0M1141.50 201.7V213.0M1142.50 201.7V216.8M1143.50 199.3V213.2M1144.50 199.1V209.0M1145.50 194.1V211.7M1146.50 202.4V215.7M1147.50 201.6V211.8M1148.50 204.2V211.3M1149.50 204.1V211.0M1150.50 200.3V214.2M1151.50 200.2V218.0M1152.50 203.6V218.0M1153.50 204.9V215.8M1154.50 204.0V217.1M1155.50 205.7V217.6M1156.50 202.5V217.6M1157.50 201.5V218.6M1158.50 207.2V221.0M1159.50 203.9V221.0M1160.50 205.6V217.8M1161.50 203.2V220.3M1162.50 196.2V213.4M1163.50 203.9V221.2M1164.50 203.9V219.8M1165.50 203.4V217.6M1166.50 206.0V220.1M1167.50 202.8V216.3M1169.50 208.9V220.8M1170.50 209.5V222.6M1171.50 209.3V221.1M1172.50 211.0V220.9M1173.50 213.3V222.3M1174.50 213.3V224.2M1175.50 208.7V225.7M1176.50 210.3V229.4M1177.50 208.6V223.1M1178.50 211.6V227.7M1179.50 218.5V230.5M1180.50 214.0V221.9M1181.50 210.3V223.8M1182.50 220.9V224.8M1183.50 218.6V228.2M1185.50 219.3V229.1M1186.50 218.9V231.1M1187.50 222.3V231.1M1188.50 222.8V230.9M1189.50 222.5V232.0M1190.50 223.8V234.6M1191.50 221.4V235.7M1192.50 224.9V239.1M1193.50 223.7V237.1M1194.50 219.2V235.7M1195.50 222.5V235.7M1196.50 224.2V237.0M1197.50 222.6V234.3M1198.50 221.9V234.9M1199.50 221.9V232.0M1200.50 218.4V236.4M1201.50 223.2V233.5M1203.50 221.9V232.4M1204.50 222.2V229.7M1205.50 217.5V232.3M1206.50 220.2V232.3M1209.50 213.6V234.7M1210.50 219.7V233.6M1211.50 219.2V233.7M1212.50 220.0V232.3M1213.50 219.7V232.3M1214.50 222.9V232.9M1215.50 216.3V234.0M1216.50 216.3V232.3M1217.50 220.0V231.3M1218.50 216.1V227.0M1219.50 216.6V230.9M1220.50 218.8V229.5M1221.50 219.6V229.4M1222.50 219.3V231.1M1223.50 222.7V232.1M1224.50 220.5V232.1M1225.50 220.8V233.1M1226.50 221.6V233.3M1227.50 217.6V231.4M1228.50 223.6V234.2M1230.50 217.7V233.7M1231.50 220.4V230.0M1232.50 219.7V238.9M1233.50 221.8V233.0M1234.50 221.1V236.7M1235.50 220.7V232.7M1236.50 222.5V234.3M1237.50 220.0V234.1M1238.50 220.0V236.3M1239.50 221.1V233.2M1240.50 221.8V232.7M1241.50 220.9V236.7M1242.50 226.7V233.4M1243.50 225.3V234.6M1244.50 217.5V229.4M1245.50 219.1V229.2M1246.50 220.4V234.8M1247.50 220.4V229.2M1248.50 221.4V230.2M1249.50 212.6V229.8M1250.50 214.1V228.4M1251.50 217.7V227.3M1252.50 215.5V229.8M1254.50 221.6V229.5M1255.50 219.6V230.6M1256.50 216.9V227.6M1257.50 218.2V236.8M1258.50 224.9V236.6M1259.50 224.8V236.0M1260.50 224.7V233.3M1261.50 223.0V232.0M1262.50 224.7V239.3M1263.50 223.8V239.3M1264.50 221.5V235.1M1265.50 221.7V232.3M1266.50 220.9V233.0M1269.50 221.5V235.2M1270.50 223.9V232.4M1271.50 223.5V237.0M1272.50 221.0V232.9M1273.50 223.1V234.4M1274.50 224.2V243.3M1276.50 220.6V233.6M1277.50 224.0V234.5M1279.50 223.7V237.3M1280.50 227.1V238.2M1281.50 226.9V234.4M1282.50 228.1V233.6M1283.50 225.9V236.4M1284.50 221.2V239.3M1285.50 228.9V236.3M1286.50 226.9V240.3M1287.50 225.0V234.8M1288.50 227.8V238.3M1289.50 229.2V237.7M1290.50 228.3V239.8M1291.50 223.2V241.1M1292.50 221.2V234.6M1293.50 220.6V237.9M1294.50 227.7V240.5M1295.50 224.7V238.6M1296.50 226.8V237.5M1297.50 227.6V239.3M1298.50 224.1V238.8M1299.50 222.3V237.4M1300.50 225.3V236.6M1301.50 222.8V235.2M1302.50 219.4V237.2M1303.50 225.5V238.4M1304.50 223.2V233.7M1305.50 223.2V243.6M1306.50 225.6V234.7M1307.50 223.2V235.1M1308.50 223.1V236.0M1309.50 222.8V238.2M1310.50 221.3V235.7M1311.50 225.4V238.2M1312.50 223.9V232.1M1313.50 221.0V238.3M1314.50 226.3V240.4M1315.50 226.3V238.7M1316.50 229.0V239.4M1317.50 229.3V238.2M1318.50 224.4V238.9M1319.50 223.9V236.1M1320.50 222.2V240.0M1322.50 224.4V239.2M1323.50 222.5V237.0M1324.50 227.4V232.4M1325.50 222.0V233.2M1326.50 221.6V237.2M1327.50 219.3V236.2M1328.50 225.5V235.7M1329.50 224.7V239.6M1330.50 223.7V236.1M1332.50 221.4V236.3M1333.50 217.5V233.1M1334.50 223.6V231.0M1335.50 221.9V233.0M1336.50 216.0V229.8M1337.50 220.7V235.1M1338.50 224.8V235.6M1339.50 218.8V232.8M1340.50 220.4V237.8M1341.50 214.6V238.7M1343.50 217.0V229.3M1344.50 214.1V230.1M1345.50 216.5V229.4M1346.50 215.6V229.0M1347.50 213.7V230.0M1348.50 220.9V237.0M1349.50 224.9V231.7M1350.50 218.3V234.1M1351.50 223.6V234.9M1352.50 222.3V238.3M1353.50 218.0V234.7M1354.50 218.0V234.3M1356.50 221.9V238.1M1357.50 220.9V232.7M1358.50 220.5V233.8M1359.50 218.0V234.4M1360.50 221.5V235.0M1361.50 221.2V235.2M1362.50 220.2V230.9M1363.50 220.2V227.6M1364.50 221.8V234.1M1365.50 223.3V235.1M1366.50 219.6V234.3M1367.50 219.4V231.9M1368.50 222.4V235.8M1369.50 220.6V238.4M1371.50 221.2V233.4M1373.50 219.9V240.0M1374.50 219.9V234.8M1375.50 223.7V231.4M1376.50 217.5V233.7M1377.50 216.9V230.1M1378.50 216.4V230.6M1379.50 222.2V231.8M1380.50 222.6V233.4M1382.50 222.9V232.9M1383.50 222.3V236.2M1384.50 221.1V231.2M1385.50 220.7V232.2M1386.50 219.4V237.2M1387.50 222.1V233.2M1388.50 223.0V235.1M1389.50 222.7V231.1M1391.50 217.8V228.5M1392.50 221.1V231.4M1393.50 220.5V236.1M1394.50 220.9V230.3M1395.50 223.8V231.9M1396.50 219.9V229.6M1397.50 218.8V237.5M1398.50 220.0V232.8M1399.50 220.9V239.7M1400.50 222.6V236.7M1401.50 219.3V229.4M1402.50 218.6V233.4M1403.50 218.1V229.9M1404.50 222.9V231.9M1405.50 217.9V234.6M1406.50 220.5V237.2M1407.50 217.5V233.4M1408.50 217.5V228.4M1409.50 220.2V232.1M1410.50 217.7V231.4M1411.50 213.2V230.1M1412.50 217.2V226.7M1414.50 219.6V235.3M1415.50 218.0V230.2M1416.50 219.1V237.6M1417.50 219.3V235.0M1418.50 215.7V232.3M1419.50 214.3V236.8M1420.50 220.4V231.3M1421.50 221.1V232.3M1422.50 221.5V235.6M1423.50 222.6V235.1M1424.50 222.2V235.7M1425.50 219.9V235.7M1426.50 220.6V234.5M1427.50 218.9V231.4M1428.50 219.5V229.8M1429.50 219.5V228.6M1430.50 223.9V229.3M1431.50 217.8V231.7M1433.50 218.3V232.4M1434.50 222.7V231.0M1436.50 217.6V228.0M1437.50 220.8V235.6" fill="none" stroke="#f2e614" stroke-width="1.0"/>
<path d="M861.50 175.5V188.1M863.50 175.4V184.4M872.50 181.5V191.2M880.50 181.9V190.3M882.50 182.3V196.0M905.50 184.1V197.2M909.50 190.7V204.4M911.50 193.7V208.1M932.50 192.5V206.1M952.50 214.9V228.4M958.50 214.4V227.0M961.50 212.7V221.3M987.50 204.3V217.5M991.50 204.6V215.5M994.50 201.8V217.6M1013.50 208.1V220.1M1020.50 208.2V220.8M1022.50 209.9V217.2M1030.50 213.5V220.1M1034.50 210.8V218.5M1037.50 205.7V223.5M1055.50 207.2V221.7M1065.50 203.9V216.3M1076.50 206.3V220.6M1083.50 205.3V213.0M1103.50 200.0V208.3M1108.50 198.0V210.2M1111.50 198.8V211.0M1126.50 198.3V217.7M1129.50 195.8V210.5M1137.50 203.3V214.4M1168.50 206.9V220.8M1184.50 211.9V230.2M1202.50 224.4V238.0M1207.50 222.1V234.9M1208.50 222.1V232.2M1229.50 220.2V233.5M1253.50 216.9V229.8M1267.50 222.0V236.1M1268.50 226.6V238.8M1275.50 224.2V238.0M1278.50 224.0V236.1M1321.50 224.8V240.2M1331.50 221.1V236.1M1342.50 216.5V234.7M1355.50 222.9V235.5M1370.50 221.3V235.9M1372.50 226.1V238.2M1381.50 216.9V230.9M1390.50 221.0V233.5M1413.50 215.0V230.9M1432.50 217.8V230.7M1435.50 216.5V228.2" fill="none" stroke="#f2e614" stroke-width="1.0" stroke-opacity="0.55"/>
<path d="M861.50 185.7V207.7M862.50 197.8V207.7M863.50 193.9V207.7M864.50 193.2V202.3M865.50 192.4V209.7M866.50 191.2V213.2M867.50 193.4V213.2M868.50 190.8V203.1M869.50 195.7V206.6M870.50 187.3V203.4M871.50 193.4V203.4M872.50 191.3V201.5M873.50 184.8V204.7M874.50 184.8V211.3M875.50 188.1V205.8M877.50 187.6V207.1M878.50 189.1V203.7M880.50 194.3V205.5M882.50 182.8V210.4M883.50 186.4V197.6M884.50 185.3V206.2M885.50 190.5V203.2M886.50 189.9V202.9M887.50 188.7V203.4M888.50 188.0V204.7M889.50 186.3V201.5M891.50 192.6V199.0M892.50 186.3V200.5M893.50 188.6V204.2M894.50 188.8V209.3M895.50 187.7V201.9M897.50 182.8V200.6M898.50 190.1V206.4M899.50 186.0V209.9M900.50 186.0V205.7M901.50 188.7V206.1M902.50 190.0V206.1M903.50 195.8V206.2M904.50 196.9V206.8M905.50 190.3V207.0M906.50 186.8V202.6M907.50 190.5V210.6M908.50 194.5V204.6M909.50 194.4V208.9M910.50 190.8V210.1M911.50 198.9V209.7M912.50 192.2V210.8M914.50 195.9V209.9M915.50 198.5V216.6M916.50 196.6V207.9M917.50 196.1V209.4M918.50 196.2V213.0M919.50 203.2V216.7M920.50 196.1V218.8M921.50 199.1V218.8M922.50 198.4V210.0M924.50 198.4V214.7M925.50 199.7V212.3M926.50 198.1V212.6M927.50 204.8V213.6M928.50 195.1V210.9M929.50 201.2V214.0M930.50 201.2V214.0M931.50 202.6V213.2M932.50 200.2V216.3M933.50 196.8V213.8M934.50 196.9V216.4M936.50 202.1V216.3M937.50 200.2V214.9M938.50 197.0V212.4M939.50 195.7V215.8M940.50 200.1V218.7M941.50 204.2V219.7M942.50 203.2V219.9M943.50 204.8V224.5M944.50 202.0V215.9M945.50 200.2V221.2M946.50 195.4V213.2M947.50 201.4V219.4M948.50 202.0V212.7M949.50 199.9V218.7M950.50 204.7V219.1M951.50 201.7V217.5M952.50 206.4V218.8M953.50 201.8V220.3M954.50 201.8V218.1M955.50 210.4V224.5M956.50 208.6V224.5M957.50 203.2V221.6M958.50 202.6V218.2M959.50 206.5V220.0M960.50 211.7V222.7M961.50 204.8V216.4M962.50 208.3V221.4M963.50 205.2V222.9M964.50 207.5V220.6M966.50 207.5V218.8M967.50 205.0V220.5M968.50 210.1V216.7M969.50 207.9V216.7M970.50 208.0V217.4M971.50 207.3V226.6M972.50 203.2V219.0M973.50 205.2V213.0M974.50 197.8V217.6M975.50 205.7V226.6M976.50 202.1V226.2M977.50 203.9V224.5M978.50 205.9V224.1M979.50 202.0V224.2M980.50 211.6V220.6M981.50 209.5V224.1M982.50 204.1V223.6M983.50 201.8V218.4M984.50 206.7V226.0M986.50 209.7V214.5M987.50 201.7V218.7M988.50 202.6V217.8M989.50 198.7V221.7M990.50 206.6V217.7M991.50 206.5V222.1M992.50 206.5V215.2M994.50 205.5V217.6M995.50 206.5V224.4M996.50 205.8V222.5M997.50 206.7V227.5M999.50 205.8V220.8M1000.50 197.9V223.6M1001.50 196.0V220.1M1002.50 201.8V225.7M1003.50 199.9V217.4M1004.50 199.9V218.7M1005.50 204.8V218.2M1006.50 203.3V221.9M1007.50 205.8V227.1M1008.50 205.1V219.7M1009.50 208.1V220.3M1010.50 204.4V218.4M1011.50 206.7V214.6M1012.50 204.8V218.1M1013.50 203.8V221.2M1014.50 206.2V226.6M1015.50 202.5V226.6M1016.50 202.3V219.9M1018.50 208.8V221.1M1020.50 208.4V222.8M1021.50 209.4V229.4M1022.50 203.1V229.4M1023.50 205.0V223.4M1024.50 208.6V223.0M1025.50 208.3V222.5M1026.50 207.8V219.3M1027.50 207.8V221.2M1028.50 203.6V226.0M1029.50 201.3V222.4M1030.50 206.5V222.6M1031.50 208.3V226.4M1032.50 210.0V220.9M1033.50 211.2V224.2M1034.50 207.0V222.4M1035.50 203.9V219.3M1036.50 206.0V219.1M1037.50 206.6V219.3M1038.50 208.5V221.0M1039.50 202.4V221.0M1040.50 201.8V218.3M1041.50 204.3V215.9M1042.50 202.3V215.4M1043.50 205.5V215.7M1044.50 205.5V217.6M1045.50 202.2V219.0M1046.50 204.2V215.6M1047.50 202.3V217.0M1048.50 204.1V225.2M1049.50 204.1V218.4M1050.50 209.6V219.0M1051.50 212.3V220.2M1052.50 206.0V218.5M1053.50 203.7V222.5M1054.50 205.0V218.3M1055.50 206.8V221.8M1056.50 205.7V220.1M1057.50 208.8V229.2M1058.50 206.6V216.2M1059.50 209.0V229.0M1060.50 204.2V227.5M1061.50 204.6V217.5M1062.50 201.7V220.5M1063.50 201.7V220.0M1064.50 202.3V218.3M1065.50 204.4V217.7M1066.50 207.8V221.9M1067.50 204.5V217.4M1068.50 204.7V220.6M1069.50 205.9V217.7M1070.50 207.8V221.7M1071.50 206.2V218.6M1072.50 208.0V219.8M1073.50 206.9V216.3M1074.50 204.0V218.6M1075.50 205.6V216.7M1076.50 204.3V218.5M1077.50 199.4V215.6M1078.50 209.1V226.2M1079.50 205.4V220.8M1080.50 199.5V214.1M1082.50 203.7V219.8M1083.50 202.7V218.1M1084.50 197.9V219.2M1085.50 208.2V215.5M1086.50 201.7V221.0M1088.50 202.7V219.2M1089.50 206.5V217.8M1090.50 198.7V215.3M1092.50 196.0V215.8M1093.50 196.0V216.6M1094.50 203.9V221.4M1095.50 207.0V228.9M1096.50 205.3V224.0M1097.50 205.2V224.0M1098.50 199.9V222.5M1099.50 206.5V225.1M1100.50 204.2V225.1M1102.50 203.3V219.1M1103.50 203.8V221.7M1104.50 203.8V224.0M1105.50 203.5V222.6M1106.50 207.8V217.4M1107.50 207.1V222.6M1109.50 208.6V219.7M1110.50 204.8V224.2M1113.50 208.4V225.2M1114.50 206.6V220.3M1115.50 209.7V226.3M1116.50 205.0V227.7M1117.50 207.4V231.3M1118.50 204.1V227.0M1119.50 205.7V219.5M1120.50 204.5V219.7M1121.50 203.8V229.5M1122.50 206.9V227.4M1123.50 207.1V224.1M1124.50 207.0V221.9M1125.50 207.4V218.0M1126.50 207.6V220.2M1127.50 207.5V221.4M1129.50 207.3V219.6M1130.50 210.0V222.7M1131.50 207.5V219.0M1132.50 207.5V221.4M1133.50 204.3V220.6M1134.50 206.4V227.4M1135.50 206.3V218.1M1136.50 203.9V219.6M1138.50 208.6V226.0M1139.50 202.6V222.6M1140.50 205.1V222.6M1141.50 201.3V221.4M1142.50 204.9V216.5M1145.50 202.4V216.3M1146.50 204.3V224.8M1147.50 204.1V224.8M1149.50 209.7V217.4M1150.50 206.8V224.3M1151.50 208.7V220.1M1152.50 204.0V217.4M1153.50 205.5V223.2M1156.50 203.5V219.1M1158.50 206.8V221.9M1159.50 204.4V220.8M1160.50 209.3V221.3M1161.50 205.0V220.1M1162.50 205.0V219.1M1163.50 203.9V215.6M1164.50 206.6V219.8M1165.50 207.5V226.4M1166.50 205.1V218.7M1167.50 204.0V222.6M1168.50 207.7V223.9M1169.50 205.5V215.7M1170.50 204.6V224.5M1171.50 203.8V215.8M1172.50 200.6V222.3M1173.50 209.2V222.3M1174.50 209.3V221.8M1175.50 205.5V214.8M1176.50 201.7V215.0M1177.50 204.8V222.1M1178.50 202.2V222.4M1179.50 206.4V220.0M1180.50 206.4V224.7M1181.50 196.3V224.0M1182.50 206.3V214.5M1183.50 201.1V219.2M1184.50 207.4V226.2M1185.50 204.5V219.0M1186.50 204.5V220.8M1187.50 207.2V226.4M1188.50 209.7V225.3M1189.50 203.8V228.5M1190.50 211.1V222.9M1191.50 211.1V221.8M1192.50 206.9V225.2M1193.50 207.9V222.1M1195.50 205.1V221.5M1196.50 205.8V219.4M1197.50 206.9V217.1M1198.50 209.8V221.3M1199.50 210.5V222.6M1200.50 207.9V220.7M1201.50 213.4V224.2M1202.50 205.9V221.9M1203.50 213.6V229.2M1204.50 211.7V222.1M1205.50 207.1V219.8M1206.50 206.6V219.6M1207.50 205.9V217.7M1210.50 203.0V226.8M1211.50 203.0V220.4M1212.50 203.4V221.9M1213.50 212.5V219.4M1214.50 214.5V226.8M1215.50 206.6V222.8M1216.50 198.4V220.3M1217.50 207.9V219.6M1218.50 204.9V224.4M1219.50 206.3V229.8M1220.50 213.6V223.9M1221.50 209.2V229.8M1222.50 206.4V218.4M1223.50 203.6V221.4M1224.50 202.1V218.3M1225.50 209.0V217.0M1227.50 207.9V227.1M1228.50 206.8V218.6M1229.50 204.1V222.4M1230.50 204.1V220.0M1231.50 214.4V218.8M1232.50 211.1V222.3M1233.50 212.4V227.5M1235.50 209.7V221.1M1236.50 206.3V219.5M1237.50 205.2V228.0M1238.50 211.7V229.3M1239.50 208.9V226.1M1240.50 210.8V222.8M1241.50 209.2V222.2M1242.50 211.0V225.7M1243.50 212.9V227.6M1244.50 210.5V222.9M1245.50 207.8V218.8M1246.50 207.7V218.6M1247.50 204.4V223.8M1248.50 210.2V224.3M1249.50 206.9V224.3M1250.50 206.4V222.8M1251.50 212.7V221.7M1252.50 201.1V223.6M1253.50 206.7V225.5M1254.50 203.7V220.6M1255.50 209.3V219.9M1256.50 208.2V221.6M1257.50 204.9V222.5M1258.50 206.0V220.8M1259.50 204.3V224.1M1260.50 205.8V222.1M1261.50 206.7V227.1M1262.50 206.2V227.1M1263.50 205.8V221.6M1264.50 203.3V219.5M1265.50 197.4V214.5M1267.50 207.9V222.5M1268.50 205.5V217.8M1269.50 211.1V224.7M1270.50 209.3V236.3M1271.50 208.3V225.1M1272.50 205.3V224.5M1273.50 205.3V224.7M1274.50 212.8V224.7M1275.50 208.7V222.4M1276.50 207.0V225.3M1277.50 206.5V219.1M1278.50 208.1V220.4M1279.50 211.0V220.9M1280.50 200.7V219.7M1281.50 211.4V221.0M1282.50 207.6V218.3M1283.50 205.9V224.6M1284.50 205.9V219.1M1285.50 206.7V218.9M1286.50 204.8V218.9M1287.50 207.5V217.7M1288.50 205.3V221.5M1289.50 205.9V222.3M1291.50 210.3V221.9M1292.50 206.2V221.0M1294.50 207.5V221.2M1295.50 207.6V221.1M1296.50 202.3V218.9M1297.50 206.2V224.3M1298.50 210.9V224.3M1300.50 202.6V217.7M1301.50 203.1V225.2M1302.50 197.0V222.3M1303.50 207.0V217.5M1304.50 205.4V215.1M1305.50 204.7V216.7M1307.50 204.9V218.2M1308.50 199.8V215.8M1309.50 208.4V215.8M1311.50 197.3V211.8M1312.50 194.8V214.5M1313.50 199.6V212.5M1314.50 193.4V214.8M1315.50 194.9V210.8M1316.50 190.7V209.0M1317.50 199.0V207.3M1318.50 197.1V207.8M1319.50 193.4V205.3M1320.50 195.8V214.0M1321.50 193.9V214.0M1322.50 188.8V205.1M1323.50 186.0V203.7M1324.50 188.0V203.0M1326.50 182.3V196.1M1327.50 185.8V205.1M1328.50 180.3V196.1M1329.50 180.7V202.7M1330.50 178.8V200.8M1331.50 180.7V200.8M1332.50 181.3V193.2M1334.50 181.2V196.7M1335.50 170.2V192.2M1336.50 178.0V194.4M1337.50 180.7V196.9M1338.50 179.2V201.7M1339.50 180.7V200.1M1340.50 183.2V200.1M1341.50 184.0V199.2M1342.50 183.1V196.4M1343.50 182.3V197.3M1344.50 183.0V208.5M1345.50 177.9V202.0M1346.50 177.9V197.7M1347.50 184.7V200.1M1348.50 183.8V202.9M1349.50 183.6V196.8M1350.50 181.4V196.8M1351.50 182.9V197.7M1352.50 178.2V196.5M1353.50 184.5V194.4M1354.50 180.8V188.3M1355.50 176.8V191.8M1356.50 173.1V191.0M1357.50 180.3V191.0M1358.50 177.2V196.4M1359.50 180.2V195.9M1360.50 176.1V197.8M1361.50 181.8V197.8M1362.50 182.1V190.7M1363.50 175.0V198.2M1364.50 174.8V196.6M1365.50 175.4V194.7M1366.50 180.1V194.0M1367.50 178.8V195.9M1368.50 178.7V194.7M1369.50 182.6V196.5M1370.50 180.2V195.8M1372.50 176.1V196.0M1373.50 179.0V198.1M1374.50 177.8V191.2M1375.50 178.3V196.0M1376.50 183.8V194.4M1377.50 178.5V198.5M1378.50 186.1V200.8M1379.50 190.3V202.6M1380.50 187.7V206.5M1381.50 189.0V206.0M1382.50 188.7V206.0M1384.50 188.3V208.4M1385.50 191.5V204.7M1386.50 186.8V199.7M1387.50 186.8V204.4M1388.50 187.6V201.3M1389.50 183.5V200.4M1390.50 183.5V201.5M1391.50 191.6V200.7M1392.50 186.5V206.9M1393.50 186.6V206.7M1394.50 189.0V199.1M1395.50 191.2V208.5M1397.50 189.9V199.4M1398.50 189.4V198.5M1399.50 188.4V204.1M1400.50 188.9V200.1M1401.50 193.8V204.7M1402.50 191.3V198.9M1404.50 194.3V213.2M1405.50 191.6V208.2M1406.50 192.0V208.4M1407.50 191.4V212.3M1409.50 189.5V204.2M1411.50 192.4V212.4M1412.50 189.5V205.5M1414.50 184.4V207.1M1415.50 192.7V207.5M1416.50 191.4V214.4M1417.50 193.7V206.3M1418.50 189.3V203.9M1419.50 187.9V201.2M1420.50 189.3V213.8M1421.50 189.9V203.2M1422.50 193.3V208.8M1423.50 189.7V208.8M1424.50 192.8V214.7M1425.50 196.3V207.6M1427.50 200.8V206.2M1428.50 189.9V212.6M1429.50 191.8V213.6M1430.50 194.2V207.8M1431.50 185.7V207.4M1432.50 193.2V208.1M1433.50 198.5V210.5M1434.50 195.1V205.3M1435.50 192.7V207.6M1436.50 192.7V208.5M1437.50 192.5V201.3" fill="none" stroke="#6acbdc" stroke-width="1.0"/>
<path d="M876.50 189.2V205.3M879.50 190.9V203.0M881.50 195.0V205.7M890.50 194.9V200.4M896.50 186.5V199.1M913.50 194.9V206.9M923.50 203.1V213.3M935.50 194.4V216.5M965.50 207.5V221.0M985.50 208.3V222.4M993.50 203.8V218.8M998.50 206.8V219.1M1017.50 202.4V222.4M1019.50 205.7V222.8M1081.50 203.7V219.7M1087.50 210.1V218.6M1091.50 203.7V218.0M1101.50 205.4V222.1M1108.50 202.6V224.5M1111.50 210.7V223.5M1112.50 207.8V226.0M1128.50 208.5V230.4M1137.50 209.8V223.7M1143.50 204.0V225.0M1144.50 210.5V219.1M1148.50 206.5V221.1M1154.50 208.1V222.1M1155.50 205.5V217.7M1157.50 202.2V227.3M1194.50 208.6V226.4M1208.50 202.9V222.7M1209.50 206.5V226.8M1226.50 199.4V219.5M1234.50 213.3V228.9M1266.50 207.0V223.5M1290.50 207.3V223.7M1293.50 208.3V224.5M1299.50 209.5V224.8M1306.50 203.9V219.3M1310.50 200.5V214.3M1325.50 183.9V201.6M1333.50 179.4V195.6M1371.50 177.9V198.4M1383.50 191.1V207.1M1396.50 181.9V199.6M1403.50 189.1V205.2M1408.50 193.9V201.4M1410.50 189.7V207.1M1413.50 193.7V203.8M1426.50 188.6V208.7" fill="none" stroke="#6acbdc" stroke-width="1.0" stroke-opacity="0.55"/>
<path d="M861.50 192.2V208.9M862.50 188.9V212.7M863.50 186.4V203.9M864.50 186.4V208.1M865.50 190.5V205.1M866.50 191.6V207.8M867.50 193.1V206.7M868.50 191.8V213.3M869.50 182.9V213.3M870.50 189.5V206.4M871.50 182.8V211.6M872.50 189.1V204.2M873.50 187.1V205.1M874.50 192.7V205.6M875.50 180.7V205.7M876.50 184.7V209.0M877.50 182.9V208.2M878.50 183.8V209.4M879.50 184.8V211.5M880.50 182.6V213.9M881.50 192.7V208.9M882.50 185.9V208.9M883.50 178.5V206.5M884.50 188.9V209.1M885.50 189.0V209.0M886.50 188.9V203.0M887.50 185.6V215.9M888.50 183.7V209.3M889.50 185.1V211.2M890.50 178.3V211.2M892.50 184.0V206.3M893.50 184.0V211.1M894.50 191.7V206.7M895.50 192.7V212.5M896.50 192.4V220.5M897.50 188.1V206.6M898.50 190.7V205.5M899.50 195.8V219.0M900.50 191.4V214.4M901.50 192.0V206.0M902.50 192.9V209.9M903.50 194.8V210.8M904.50 192.6V213.8M908.50 179.0V211.2M909.50 188.8V209.8M910.50 186.5V203.7M912.50 187.3V209.3M913.50 189.5V207.6M914.50 187.7V201.5M915.50 189.8V210.0M916.50 185.9V202.7M917.50 187.2V198.7M920.50 185.2V200.3M921.50 177.6V195.2M922.50 177.6V199.8M923.50 183.2V200.5M924.50 168.1V194.3M925.50 177.4V193.1M926.50 173.6V197.8M927.50 177.5V192.9M928.50 166.3V195.2M929.50 169.5V197.9M930.50 176.2V197.9M931.50 178.2V196.4M932.50 181.8V192.7M933.50 176.0V194.9M934.50 166.6V189.1M935.50 169.0V195.1M936.50 176.4V194.4M937.50 173.3V196.0M938.50 161.5V196.3M939.50 172.5V190.0M940.50 169.5V187.8M941.50 169.5V185.1M942.50 172.3V190.4M943.50 173.1V178.8M944.50 169.4V186.8M945.50 160.2V185.6M946.50 157.3V189.2M947.50 170.3V186.3M948.50 166.3V183.1M949.50 166.1V183.2M950.50 165.6V188.3M951.50 164.7V189.4M952.50 165.4V192.2M953.50 169.4V189.7M954.50 170.4V190.0M955.50 172.6V189.8M956.50 174.6V184.7M957.50 172.7V198.1M958.50 166.8V188.1M959.50 166.0V188.1M960.50 170.2V192.4M961.50 169.6V188.3M963.50 168.2V185.1M964.50 166.2V188.4M965.50 165.6V188.4M966.50 164.8V183.5M967.50 174.6V183.5M968.50 171.9V189.5M970.50 166.8V188.5M971.50 165.6V192.4M972.50 165.6V183.8M973.50 170.2V182.4M974.50 165.4V192.6M975.50 172.8V189.2M976.50 174.6V187.2M977.50 161.6V182.1M978.50 166.5V186.0M979.50 160.8V186.7M980.50 166.5V188.4M981.50 168.4V188.8M982.50 168.4V191.9M983.50 165.9V183.1M984.50 166.4V182.5M985.50 166.1V184.5M987.50 170.3V199.4M988.50 167.3V188.5M989.50 169.5V188.5M990.50 157.7V193.7M991.50 169.3V193.7M992.50 169.3V186.8M993.50 164.7V188.0M994.50 170.0V188.4M995.50 169.3V189.5M996.50 169.3V193.4M997.50 173.4V196.4M998.50 167.9V183.8M1000.50 165.1V189.0M1001.50 164.9V188.9M1002.50 173.1V191.5M1003.50 169.1V190.0M1004.50 170.0V187.2M1005.50 169.8V186.9M1006.50 176.0V198.4M1007.50 173.5V198.4M1008.50 166.6V192.9M1009.50 168.1V192.9M1010.50 176.7V188.2M1011.50 167.6V189.6M1012.50 167.6V192.3M1013.50 167.6V191.0M1015.50 166.3V191.0M1016.50 161.7V194.0M1017.50 168.9V197.5M1018.50 173.5V188.2M1019.50 174.0V191.6M1020.50 160.9V191.6M1021.50 160.9V189.3M1022.50 166.3V193.3M1023.50 173.3V196.3M1024.50 178.7V187.2M1025.50 176.0V193.1M1026.50 163.5V193.1M1027.50 173.9V201.5M1028.50 173.9V195.7M1029.50 176.0V191.5M1030.50 171.0V188.1M1031.50 172.3V190.5M1032.50 174.1V193.2M1033.50 173.8V199.2M1034.50 173.8V194.2M1035.50 176.1V194.2M1036.50 175.8V199.8M1038.50 180.0V207.2M1039.50 175.2V197.6M1040.50 166.5V196.3M1041.50 178.6V192.5M1042.50 180.6V200.3M1043.50 171.4V190.1M1045.50 170.5V199.9M1046.50 174.9V189.7M1047.50 170.0V197.9M1048.50 176.1V195.4M1049.50 179.6V205.5M1050.50 175.5V202.4M1052.50 176.6V202.3M1054.50 179.9V200.0M1055.50 179.3V196.4M1056.50 181.5V194.5M1057.50 174.8V194.7M1058.50 171.9V198.6M1059.50 176.7V195.0M1061.50 168.3V189.9M1062.50 174.1V190.2M1063.50 167.1V184.0M1064.50 171.1V194.3M1065.50 176.8V194.9M1066.50 176.2V194.4M1067.50 177.3V196.5M1068.50 174.5V188.7M1069.50 172.5V191.3M1070.50 172.5V195.3M1071.50 173.9V186.3M1072.50 167.2V189.0M1073.50 177.1V192.6M1074.50 177.7V197.8M1075.50 168.3V197.8M1076.50 173.2V192.8M1077.50 176.0V195.3M1078.50 177.9V201.1M1079.50 174.3V188.1M1080.50 168.6V192.4M1081.50 168.1V188.7M1082.50 169.0V193.1M1083.50 173.0V193.1M1084.50 170.3V193.7M1085.50 173.4V188.8M1086.50 178.6V189.3M1087.50 170.8V187.0M1088.50 171.1V185.4M1089.50 161.5V193.2M1090.50 170.1V193.2M1091.50 172.2V186.1M1092.50 170.5V191.5M1093.50 170.6V191.5M1094.50 167.6V178.4M1095.50 159.5V183.2M1096.50 164.1V197.3M1097.50 158.8V197.3M1098.50 164.6V177.9M1099.50 163.9V180.1M1101.50 161.4V170.9M1102.50 158.1V183.0M1103.50 159.6V181.3M1105.50 156.5V181.8M1106.50 161.4V184.1M1108.50 158.4V180.7M1109.50 163.4V182.3M1110.50 167.0V183.0M1111.50 166.6V180.9M1112.50 168.6V179.0M1113.50 157.9V181.9M1114.50 160.5V187.3M1115.50 164.8V190.5M1117.50 158.2V177.4M1118.50 163.5V183.4M1120.50 158.2V180.1M1121.50 164.7V186.3M1122.50 163.4V186.3M1123.50 165.7V180.6M1124.50 165.6V184.2M1125.50 157.8V177.7M1126.50 156.0V175.6M1127.50 162.7V178.4M1128.50 163.0V180.8M1129.50 160.4V177.5M1130.50 160.2V174.5M1131.50 153.7V180.2M1132.50 156.0V170.7M1133.50 160.7V171.6M1134.50 147.3V171.6M1135.50 151.2V172.1M1136.50 145.4V167.4M1137.50 147.3V172.2M1138.50 154.3V173.1M1139.50 152.7V165.3M1140.50 151.2V161.4M1141.50 149.9V167.7M1142.50 148.5V169.5M1143.50 135.9V169.5M1144.50 150.3V168.2M1145.50 139.6V167.4M1146.50 147.6V174.2M1147.50 145.5V169.0M1148.50 146.6V167.0M1149.50 155.5V172.5M1150.50 159.2V168.6M1151.50 154.3V171.6M1152.50 148.4V171.6M1153.50 158.2V178.6M1154.50 148.0V177.1M1155.50 155.4V176.3M1157.50 150.3V169.9M1158.50 151.0V175.7M1160.50 153.8V173.0M1161.50 157.3V170.1M1162.50 159.8V181.0M1163.50 156.5V175.1M1164.50 159.3V178.3M1165.50 163.5V181.2M1166.50 162.6V180.9M1167.50 159.4V177.1M1168.50 157.4V175.1M1169.50 151.5V172.5M1170.50 153.7V176.4M1171.50 141.9V176.4M1172.50 157.6V181.5M1173.50 153.2V174.1M1174.50 157.4V188.1M1175.50 152.7V178.9M1176.50 160.1V170.0M1178.50 158.3V178.5M1179.50 158.3V174.0M1180.50 156.6V174.7M1181.50 160.4V176.6M1182.50 148.6V173.8M1183.50 159.7V181.8M1185.50 146.6V175.5M1186.50 162.1V171.9M1187.50 160.8V177.1M1188.50 160.8V172.5M1189.50 155.0V173.8M1190.50 159.1V177.2M1191.50 158.8V175.7M1192.50 158.7V176.0M1193.50 157.7V180.7M1194.50 157.9V172.7M1195.50 161.6V180.0M1196.50 160.0V183.6M1197.50 154.8V177.1M1198.50 157.3V178.2M1199.50 153.0V177.6M1201.50 160.4V178.4M1202.50 157.9V171.9M1203.50 160.0V183.7M1204.50 158.6V186.7M1205.50 158.3V186.7M1206.50 159.3V179.0M1207.50 150.3V179.0M1209.50 167.7V180.3M1210.50 155.9V172.9M1211.50 156.0V172.9M1212.50 154.5V171.8M1214.50 158.7V179.2M1215.50 158.2V179.2M1216.50 154.5V173.5M1217.50 157.6V181.5M1218.50 157.6V181.7M1219.50 160.7V175.1M1220.50 161.0V187.6M1221.50 164.5V184.3M1223.50 157.1V182.7M1224.50 163.7V178.1M1225.50 160.8V178.2M1226.50 164.1V180.0M1227.50 162.0V181.3M1228.50 163.2V183.6M1230.50 160.9V180.0M1231.50 159.1V181.1M1232.50 159.1V187.9M1233.50 160.2V180.8M1235.50 162.0V184.5M1236.50 166.2V182.5M1237.50 163.5V181.0M1238.50 157.8V176.9M1239.50 159.8V179.9M1240.50 161.5V178.8M1241.50 160.2V173.3M1242.50 157.8V176.0M1243.50 157.1V182.3M1244.50 156.5V186.2M1245.50 157.0V172.7M1246.50 156.8V179.5M1247.50 159.4V183.1M1249.50 161.4V177.5M1250.50 164.9V178.0M1251.50 158.7V174.9M1252.50 160.2V176.3M1253.50 161.2V171.5M1254.50 157.1V173.6M1256.50 157.8V171.4M1257.50 162.5V180.9M1258.50 159.9V177.6M1259.50 159.0V177.6M1260.50 154.7V177.3M1261.50 155.0V171.7M1262.50 155.0V174.5M1263.50 162.8V174.5M1264.50 154.8V171.3M1265.50 156.6V170.0M1266.50 162.7V175.2M1267.50 155.3V173.1M1268.50 156.6V171.1M1269.50 158.4V174.9M1270.50 156.2V168.9M1271.50 155.9V173.2M1272.50 155.9V173.2M1273.50 159.5V175.0M1274.50 157.9V175.0M1275.50 157.5V168.1M1276.50 154.2V166.5M1277.50 158.8V168.4M1278.50 162.5V173.5M1279.50 156.4V171.3M1280.50 157.1V175.5M1282.50 159.5V174.0M1283.50 148.2V170.5M1284.50 148.2V168.0M1285.50 153.4V179.0M1287.50 156.2V181.2M1288.50 151.1V166.0M1289.50 151.1V173.0M1291.50 145.0V173.5M1292.50 163.4V180.5M1293.50 152.8V170.4M1294.50 148.7V178.4M1295.50 150.7V174.2M1296.50 147.0V175.8M1297.50 144.6V174.8M1298.50 149.3V173.3M1299.50 156.9V173.3M1300.50 155.6V167.1M1301.50 151.3V163.3M1302.50 150.5V177.8M1303.50 156.6V167.2M1304.50 153.9V168.1M1305.50 148.4V164.9M1306.50 146.3V169.2M1308.50 149.7V170.6M1309.50 151.1V169.6M1310.50 150.9V177.7M1311.50 155.4V173.1M1312.50 154.5V170.7M1313.50 154.7V170.3M1314.50 156.5V168.6M1315.50 149.1V172.1M1316.50 149.6V174.2M1317.50 157.5V174.5M1318.50 150.2V168.8M1319.50 155.1V172.7M1320.50 153.5V180.4M1321.50 151.1V169.8M1322.50 157.0V175.5M1323.50 156.5V175.5M1324.50 152.8V180.1M1325.50 148.6V178.7M1326.50 149.9V168.8M1328.50 149.5V172.2M1329.50 156.0V177.3M1330.50 157.2V164.7M1331.50 150.4V164.7M1332.50 153.8V178.5M1333.50 156.1V169.9M1334.50 154.3V177.3M1335.50 153.5V172.8M1336.50 154.5V169.4M1337.50 156.7V172.3M1338.50 152.5V170.0M1339.50 157.0V179.0M1340.50 151.2V169.8M1341.50 153.9V176.1M1342.50 154.9V175.3M1343.50 143.8V174.9M1344.50 154.7V167.3M1345.50 158.8V174.9M1346.50 159.0V176.6M1347.50 155.9V177.2M1348.50 154.9V177.3M1349.50 158.6V168.0M1350.50 147.9V175.9M1351.50 157.7V178.5M1353.50 159.3V171.8M1354.50 157.0V175.6M1355.50 149.0V167.9M1356.50 146.6V177.8M1357.50 157.5V170.0M1358.50 153.8V171.6M1359.50 165.1V181.2M1360.50 160.8V173.3M1361.50 160.8V183.2M1362.50 158.8V183.2M1363.50 153.4V178.2M1365.50 156.7V182.0M1366.50 162.0V176.3M1367.50 154.0V175.2M1368.50 149.7V172.7M1369.50 159.5V188.4M1370.50 157.7V174.0M1371.50 149.8V180.0M1372.50 152.0V174.3M1373.50 162.1V186.7M1374.50 162.6V178.9M1375.50 163.3V179.8M1376.50 156.3V177.5M1377.50 159.3V180.1M1378.50 164.9V191.2M1379.50 157.0V177.8M1380.50 161.4V181.9M1381.50 158.6V181.9M1382.50 159.0V182.3M1383.50 166.2V188.5M1384.50 164.2V183.9M1385.50 165.9V184.9M1386.50 165.9V185.2M1387.50 162.4V190.1M1388.50 171.6V193.5M1389.50 168.9V190.6M1391.50 167.1V189.4M1392.50 167.4V187.3M1393.50 168.0V186.8M1394.50 158.9V188.2M1396.50 166.9V179.5M1397.50 169.9V181.5M1398.50 161.9V186.6M1399.50 165.7V179.3M1400.50 163.3V179.4M1401.50 154.5V183.3M1402.50 163.7V180.7M1404.50 161.1V183.5M1405.50 163.3V180.6M1406.50 163.3V191.4M1407.50 167.7V183.9M1408.50 166.3V186.1M1409.50 169.4V184.3M1410.50 166.4V188.3M1411.50 169.0V179.6M1412.50 166.8V187.0M1413.50 169.9V188.6M1414.50 168.7V188.6M1415.50 168.7V182.0M1416.50 162.3V186.6M1417.50 164.8V190.9M1418.50 165.1V182.7M1419.50 162.4V184.2M1420.50 162.4V184.8M1421.50 169.7V183.7M1422.50 171.1V189.2M1423.50 163.3V186.3M1424.50 166.2V181.6M1425.50 165.4V184.0M1426.50 169.4V188.1M1427.50 171.2V187.8M1428.50 163.5V186.7M1429.50 163.0V182.9M1431.50 160.7V186.6M1432.50 160.7V189.7M1433.50 173.4V191.7M1434.50 164.4V184.9M1435.50 161.8V182.2M1436.50 167.6V177.9M1437.50 166.3V182.4" fill="none" stroke="#68bc45" stroke-width="1.0"/>
<path d="M891.50 178.3V213.3M905.50 192.6V216.5M906.50 188.0V216.5M907.50 194.3V211.0M911.50 193.3V209.3M918.50 187.2V203.4M919.50 180.6V198.6M962.50 171.2V184.8M969.50 163.8V186.6M986.50 170.0V192.1M999.50 170.6V188.9M1014.50 166.3V190.5M1037.50 175.8V192.0M1044.50 174.6V190.3M1051.50 181.6V202.4M1053.50 179.9V198.6M1060.50 175.9V195.0M1100.50 165.4V177.8M1104.50 159.6V181.8M1107.50 161.6V184.1M1116.50 163.7V181.1M1119.50 164.4V189.7M1156.50 149.1V170.2M1159.50 155.6V180.8M1177.50 146.2V172.5M1184.50 146.6V171.2M1200.50 160.4V172.4M1208.50 149.4V180.3M1213.50 153.6V176.7M1222.50 156.2V180.2M1229.50 162.6V183.9M1234.50 158.3V184.4M1248.50 159.0V179.7M1255.50 147.2V189.1M1281.50 153.1V174.0M1286.50 160.1V181.2M1290.50 151.7V167.7M1307.50 144.9V170.6M1327.50 149.5V168.8M1352.50 163.3V172.9M1364.50 162.0V173.6M1390.50 171.5V190.6M1395.50 163.7V184.1M1403.50 163.7V182.8M1430.50 156.9V187.9" fill="none" stroke="#68bc45" stroke-width="1.0" stroke-opacity="0.55"/>
<polyline points="109.7,628.9 111.2,642.4 112.6,652.9 114.1,665.1 115.5,669.0 117.0,674.1 118.4,673.1 119.9,670.3 121.3,661.2 122.7,643.3 124.2,629.7 125.6,645.2 127.1,661.7 128.5,669.1 130.0,669.2 131.4,670.6 132.9,674.2 134.3,670.1 135.8,668.9 137.2,668.7 138.7,668.1 140.1,668.5 141.6,669.9 143.0,671.3 144.4,665.4 145.9,664.5 147.3,665.5 148.8,665.4 150.2,665.0 151.7,663.9 153.1,661.5 154.6,667.2 156.0,665.8 157.5,668.7 158.9,666.9 160.4,667.8 161.8,664.2 163.3,667.2 164.7,670.1 166.1,664.2 167.6,659.4 169.0,654.4 170.5,641.6 171.9,626.9 173.4,599.0 174.8,587.5 176.3,600.0 177.7,621.8 179.2,639.8 180.6,647.6 182.1,655.1 183.5,653.0 185.0,658.1 186.4,656.3 187.8,660.8 189.3,655.8 190.7,658.0 192.2,659.2 193.6,658.6 195.1,660.2 196.5,659.7 198.0,660.8 199.4,662.7 200.9,663.7 202.3,659.1 203.8,663.4 205.2,660.6 206.7,659.8 208.1,662.8 209.5,663.1 211.0,665.4 212.4,666.1 213.9,660.8 215.3,665.1 216.8,663.6 218.2,664.9 219.7,664.4 221.1,664.6 222.6,665.3 224.0,668.0 225.5,669.3 226.9,665.4 228.4,670.2 229.8,667.5 231.2,670.7 232.7,668.4 234.1,676.1 235.6,674.7 237.0,675.8 238.5,675.7 239.9,675.4 241.4,674.6 242.8,669.5 244.3,667.9 245.7,666.0 247.2,663.3 248.6,668.0 250.1,662.9 251.5,665.5 252.9,664.3 254.4,664.7 255.8,659.7 257.3,661.5 258.7,660.3 260.2,662.3 261.6,661.4 263.1,659.9 264.5,663.1 266.0,656.3 267.4,658.9 268.9,655.2 270.3,647.4 271.8,646.0 273.2,655.1 274.6,662.6 276.1,671.5 277.5,672.6 279.0,673.6 280.4,676.4 281.9,673.2 283.3,667.3 284.8,666.1 286.2,662.9 287.7,662.6 289.1,650.8 290.6,630.9 292.0,624.7 293.5,632.7 294.9,641.8 296.3,654.3 297.8,654.7 299.2,657.1 300.7,660.8 302.1,661.4 303.6,659.3 305.0,662.0 306.5,663.4 307.9,661.2 309.4,666.3 310.8,664.3 312.3,667.8 313.7,666.6 315.2,664.7 316.6,665.9 318.0,667.7 319.5,671.5 320.9,673.0 322.4,673.0 323.8,674.5 325.3,669.0 326.7,666.2 328.2,664.7 329.6,663.3 331.1,662.5 332.5,664.0 334.0,662.3 335.4,661.8 336.9,661.9 338.3,664.9 339.7,664.8 341.2,664.2 342.6,666.9 344.1,667.2 345.5,671.7 347.0,670.8 348.4,671.3 349.9,669.5 351.3,667.4 352.8,663.9 354.2,663.8 355.7,662.9 357.1,662.2 358.6,664.1 360.0,665.9 361.4,667.4 362.9,668.9 364.3,670.2 365.8,670.0 367.2,671.7 368.7,668.2 370.1,664.7 371.6,666.3 373.0,667.4 374.5,664.5 375.9,663.7 377.4,660.9 378.8,668.9 380.3,667.1 381.7,668.3 383.1,668.8 384.6,671.5 386.0,663.8 387.5,666.4 388.9,668.6 390.4,670.8 391.8,669.3 393.3,672.8 394.7,673.7 396.2,669.6 397.6,671.2 399.1,671.7 400.5,670.2 402.0,667.7 403.4,669.3 404.9,669.9 406.3,668.5 407.7,671.6 409.2,668.3 410.6,668.8 412.1,668.2 413.5,666.8 415.0,666.7 416.4,666.6 417.9,665.4 419.3,663.5 420.8,659.3 422.2,664.2 423.7,659.2 425.1,661.5 426.6,660.0 428.0,660.1 429.4,660.1 430.9,665.2 432.3,666.6 433.8,665.9 435.2,671.0 436.7,664.6 438.1,670.1 439.6,671.5 441.0,668.5 442.5,674.4 443.9,673.2 445.4,672.6 446.8,672.3 448.3,670.8 449.7,671.6 451.1,667.3 452.6,667.6 454.0,668.6 455.5,667.3 456.9,666.6 458.4,666.1 459.8,655.7 461.3,642.5 462.7,640.7 464.2,638.1 465.6,650.5 467.1,655.0 468.5,660.0 470.0,658.8 471.4,657.8 472.8,659.8 474.3,663.0 475.7,667.0 477.2,668.8 478.6,669.2 480.1,671.7 481.5,672.4 483.0,674.7 484.4,672.5 485.9,674.3 487.3,677.0 488.8,675.2 490.2,670.1 491.7,672.3 493.1,667.5 494.5,667.5 496.0,665.7 497.4,664.4 498.9,663.6 500.3,658.4 501.8,662.7 503.2,661.4 504.7,657.6 506.1,655.5 507.6,656.1 509.0,656.1 510.5,652.0 511.9,651.3 513.4,646.1 514.8,642.6 516.2,640.8 517.7,639.2 519.1,641.4 520.6,640.4 522.0,645.4 523.5,645.6 524.9,648.4 526.4,641.5 527.8,642.8 529.3,639.1 530.7,633.0 532.2,624.7 533.6,623.4 535.1,633.5 536.5,644.1 537.9,656.0 539.4,667.9 540.8,673.2 542.3,670.9 543.7,673.7 545.2,668.7 546.6,669.2 548.1,670.7 549.5,668.0 551.0,664.9 552.4,660.8 553.9,662.3 555.3,661.7 556.8,657.4 558.2,657.3 559.6,656.6 561.1,658.2 562.5,658.6 564.0,662.1 565.4,664.0 566.9,666.0 568.3,664.7 569.8,668.7 571.2,665.6 572.7,668.0 574.1,666.2 575.6,668.5 577.0,670.1 578.5,664.7 579.9,665.1 581.3,664.5 582.8,665.7 584.2,661.3 585.7,663.9 587.1,659.3 588.6,661.6 590.0,658.5 591.5,662.5 592.9,663.6 594.4,662.1 595.8,660.6 597.3,660.8 598.7,660.0 600.2,657.2 601.6,655.9 603.0,654.0 604.5,651.3 605.9,626.2 607.4,597.6 608.8,569.0 610.3,528.2 611.7,490.8 613.2,440.2 614.6,426.1" fill="none" stroke="#ec2027" stroke-width="2.4" stroke-linejoin="bevel"/>
<polyline points="109.7,630.6 111.2,646.8 112.6,659.5 114.1,670.1 115.5,672.1 117.0,679.3 118.4,673.2 119.9,673.6 121.3,671.3 122.7,669.6 124.2,665.7 125.6,669.5 127.1,679.7 128.5,671.6 130.0,673.6 131.4,675.4 132.9,670.4 134.3,672.6 135.8,671.0 137.2,673.8 138.7,670.5 140.1,671.4 141.6,672.0 143.0,669.6 144.4,670.2 145.9,673.7 147.3,669.5 148.8,668.8 150.2,666.4 151.7,666.2 153.1,670.8 154.6,667.9 156.0,674.0 157.5,671.2 158.9,668.9 160.4,670.6 161.8,674.3 163.3,668.6 164.7,670.4 166.1,667.4 167.6,662.6 169.0,657.0 170.5,651.6 171.9,638.4 173.4,627.0 174.8,618.5 176.3,623.7 177.7,635.8 179.2,646.2 180.6,653.6 182.1,652.1 183.5,655.3 185.0,660.1 186.4,661.2 187.8,659.0 189.3,661.0 190.7,659.5 192.2,660.1 193.6,663.8 195.1,667.0 196.5,664.1 198.0,664.2 199.4,664.0 200.9,667.2 202.3,666.1 203.8,663.3 205.2,663.7 206.7,662.5 208.1,669.6 209.5,668.1 211.0,666.6 212.4,670.2 213.9,667.3 215.3,666.5 216.8,667.9 218.2,668.1 219.7,667.3 221.1,666.4 222.6,667.9 224.0,670.9 225.5,669.1 226.9,672.6 228.4,672.3 229.8,674.1 231.2,672.7 232.7,673.9 234.1,679.4 235.6,679.4 237.0,680.3 238.5,680.3 239.9,676.7 241.4,674.6 242.8,674.4 244.3,668.6 245.7,669.8 247.2,668.8 248.6,664.3 250.1,666.8 251.5,665.0 252.9,667.3 254.4,668.7 255.8,666.6 257.3,666.2 258.7,668.0 260.2,663.2 261.6,671.1 263.1,664.9 264.5,664.3 266.0,665.4 267.4,664.4 268.9,662.2 270.3,665.2 271.8,666.6 273.2,668.9 274.6,667.6 276.1,672.0 277.5,680.3 279.0,675.6 280.4,675.9 281.9,668.4 283.3,668.1 284.8,672.1 286.2,661.9 287.7,657.2 289.1,631.0 290.6,595.5 292.0,572.4 293.5,590.9 294.9,628.6 296.3,650.1 297.8,658.9 299.2,656.3 300.7,659.8 302.1,664.9 303.6,664.6 305.0,660.5 306.5,659.0 307.9,652.7 309.4,659.6 310.8,661.8 312.3,666.9 313.7,666.7 315.2,668.7 316.6,671.8 318.0,674.5 319.5,676.4 320.9,673.4 322.4,676.5 323.8,673.4 325.3,672.5 326.7,672.3 328.2,666.9 329.6,664.7 331.1,665.2 332.5,667.8 334.0,667.4 335.4,668.4 336.9,665.5 338.3,666.8 339.7,667.9 341.2,665.6 342.6,669.3 344.1,665.4 345.5,671.4 347.0,670.3 348.4,676.3 349.9,673.4 351.3,668.8 352.8,671.3 354.2,668.4 355.7,664.0 357.1,668.0 358.6,666.9 360.0,668.6 361.4,671.8 362.9,675.3 364.3,672.6 365.8,672.4 367.2,674.5 368.7,672.5 370.1,671.9 371.6,672.8 373.0,673.4 374.5,674.2 375.9,665.9 377.4,667.8 378.8,670.1 380.3,669.8 381.7,670.3 383.1,666.6 384.6,674.0 386.0,672.0 387.5,673.9 388.9,674.7 390.4,673.0 391.8,670.6 393.3,673.4 394.7,673.7 396.2,673.0 397.6,674.4 399.1,677.2 400.5,673.4 402.0,676.1 403.4,672.5 404.9,672.8 406.3,670.7 407.7,673.3 409.2,668.5 410.6,672.2 412.1,673.0 413.5,672.6 415.0,670.1 416.4,664.9 417.9,665.7 419.3,667.3 420.8,662.8 422.2,663.9 423.7,666.5 425.1,666.4 426.6,663.6 428.0,663.2 429.4,665.1 430.9,668.3 432.3,671.9 433.8,671.6 435.2,674.3 436.7,668.8 438.1,675.1 439.6,675.8 441.0,671.1 442.5,676.9 443.9,675.0 445.4,674.9 446.8,671.6 448.3,670.9 449.7,671.3 451.1,675.1 452.6,676.3 454.0,667.4 455.5,673.7 456.9,672.2 458.4,658.6 459.8,637.3 461.3,609.5 462.7,604.7 464.2,626.4 465.6,648.8 467.1,660.0 468.5,652.1 470.0,640.8 471.4,633.2 472.8,641.3 474.3,655.1 475.7,668.0 477.2,671.4 478.6,677.2 480.1,674.1 481.5,677.4 483.0,679.0 484.4,677.7 485.9,680.3 487.3,677.9 488.8,678.7 490.2,674.5 491.7,675.1 493.1,664.5 494.5,665.1 496.0,664.3 497.4,665.1 498.9,665.9 500.3,663.8 501.8,666.1 503.2,661.8 504.7,660.7 506.1,659.5 507.6,657.8 509.0,657.3 510.5,654.9 511.9,654.3 513.4,654.4 514.8,655.4 516.2,652.7 517.7,649.0 519.1,651.0 520.6,647.1 522.0,647.2 523.5,644.8 524.9,650.5 526.4,645.0 527.8,648.4 529.3,644.0 530.7,644.2 532.2,644.1 533.6,641.4 535.1,650.5 536.5,657.0 537.9,664.7 539.4,674.3 540.8,674.4 542.3,679.4 543.7,676.9 545.2,675.5 546.6,673.4 548.1,675.5 549.5,665.9 551.0,667.6 552.4,668.6 553.9,666.7 555.3,663.1 556.8,661.5 558.2,660.2 559.6,660.0 561.1,660.3 562.5,664.3 564.0,667.5 565.4,661.8 566.9,667.7 568.3,669.2 569.8,668.1 571.2,668.3 572.7,671.5 574.1,668.4 575.6,672.2 577.0,670.2 578.5,671.2 579.9,665.0 581.3,671.5 582.8,667.3 584.2,667.6 585.7,664.1 587.1,662.5 588.6,661.8 590.0,664.8 591.5,663.7 592.9,661.5 594.4,663.4 595.8,661.5 597.3,656.5 598.7,665.2 600.2,660.8 601.6,658.0 603.0,659.2 604.5,653.7 605.9,639.7 607.4,620.9 608.8,600.6 610.3,580.9 611.7,558.4 613.2,538.7 614.6,524.2" fill="none" stroke="#3853a4" stroke-width="2.4" stroke-linejoin="bevel"/>
<polyline points="109.7,622.3 111.2,635.7 112.6,651.4 114.1,659.3 115.5,663.6 117.0,663.1 118.4,662.2 119.9,662.3 121.3,657.2 122.7,655.8 124.2,654.9 125.6,663.8 127.1,665.4 128.5,663.8 130.0,666.9 131.4,663.0 132.9,665.2 134.3,663.9 135.8,665.0 137.2,660.0 138.7,664.3 140.1,661.2 141.6,658.7 143.0,659.5 144.4,663.1 145.9,659.4 147.3,662.3 148.8,657.7 150.2,660.1 151.7,661.1 153.1,658.9 154.6,658.2 156.0,660.4 157.5,662.5 158.9,661.1 160.4,660.5 161.8,662.0 163.3,658.6 164.7,663.2 166.1,657.8 167.6,654.3 169.0,647.6 170.5,629.8 171.9,605.2 173.4,565.3 174.8,547.6 176.3,564.7 177.7,603.8 179.2,630.3 180.6,641.8 182.1,642.3 183.5,645.9 185.0,648.1 186.4,649.9 187.8,649.5 189.3,649.9 190.7,644.7 192.2,640.6 193.6,632.5 195.1,616.5 196.5,611.2 198.0,617.9 199.4,631.2 200.9,637.1 202.3,642.7 203.8,641.1 205.2,646.3 206.7,650.9 208.1,649.0 209.5,652.8 211.0,654.8 212.4,652.2 213.9,658.1 215.3,656.7 216.8,658.3 218.2,658.3 219.7,657.0 221.1,656.5 222.6,659.3 224.0,658.9 225.5,662.5 226.9,664.5 228.4,665.5 229.8,661.5 231.2,664.2 232.7,665.7 234.1,667.3 235.6,666.3 237.0,669.2 238.5,671.1 239.9,669.7 241.4,669.9 242.8,662.7 244.3,661.8 245.7,661.1 247.2,657.7 248.6,659.1 250.1,657.5 251.5,657.6 252.9,657.7 254.4,657.0 255.8,656.2 257.3,655.8 258.7,655.3 260.2,654.2 261.6,657.3 263.1,656.5 264.5,657.2 266.0,653.4 267.4,655.4 268.9,656.5 270.3,657.5 271.8,653.6 273.2,656.9 274.6,664.5 276.1,665.7 277.5,668.2 279.0,668.4 280.4,661.5 281.9,663.2 283.3,662.3 284.8,658.5 286.2,654.2 287.7,644.4 289.1,629.3 290.6,609.1 292.0,596.8 293.5,606.1 294.9,626.4 296.3,642.1 297.8,648.4 299.2,650.5 300.7,652.2 302.1,651.9 303.6,652.5 305.0,657.6 306.5,659.5 307.9,658.1 309.4,661.8 310.8,657.0 312.3,658.7 313.7,656.8 315.2,661.5 316.6,663.0 318.0,665.8 319.5,665.3 320.9,666.1 322.4,673.1 323.8,666.3 325.3,663.0 326.7,660.3 328.2,660.7 329.6,656.3 331.1,655.3 332.5,656.1 334.0,657.4 335.4,653.0 336.9,656.8 338.3,656.8 339.7,655.2 341.2,657.4 342.6,657.7 344.1,660.4 345.5,662.3 347.0,661.5 348.4,668.0 349.9,663.6 351.3,659.4 352.8,659.5 354.2,658.4 355.7,656.0 357.1,659.3 358.6,658.4 360.0,662.7 361.4,663.9 362.9,663.8 364.3,665.1 365.8,664.7 367.2,664.3 368.7,662.9 370.1,662.0 371.6,660.7 373.0,660.1 374.5,659.6 375.9,661.2 377.4,659.0 378.8,658.1 380.3,662.3 381.7,663.0 383.1,664.7 384.6,661.3 386.0,662.4 387.5,662.5 388.9,666.7 390.4,662.8 391.8,665.6 393.3,661.1 394.7,664.3 396.2,661.3 397.6,662.6 399.1,666.3 400.5,664.0 402.0,663.9 403.4,664.4 404.9,662.9 406.3,664.9 407.7,661.9 409.2,663.6 410.6,663.1 412.1,661.9 413.5,661.8 415.0,660.0 416.4,660.8 417.9,660.1 419.3,659.8 420.8,652.4 422.2,654.1 423.7,655.2 425.1,651.0 426.6,654.2 428.0,656.7 429.4,655.1 430.9,655.7 432.3,661.0 433.8,657.8 435.2,661.9 436.7,665.4 438.1,665.4 439.6,664.4 441.0,663.9 442.5,666.0 443.9,667.9 445.4,668.7 446.8,664.4 448.3,664.7 449.7,664.7 451.1,666.1 452.6,667.2 454.0,662.7 455.5,661.3 456.9,663.2 458.4,657.9 459.8,648.4 461.3,633.7 462.7,632.4 464.2,637.5 465.6,642.5 467.1,650.8 468.5,652.3 470.0,650.1 471.4,651.7 472.8,655.7 474.3,656.3 475.7,661.0 477.2,659.4 478.6,664.9 480.1,663.0 481.5,667.0 483.0,671.0 484.4,670.5 485.9,671.4 487.3,668.6 488.8,667.3 490.2,666.3 491.7,662.9 493.1,661.3 494.5,663.5 496.0,661.1 497.4,657.4 498.9,658.2 500.3,656.0 501.8,653.3 503.2,654.2 504.7,651.5 506.1,646.9 507.6,647.6 509.0,648.5 510.5,646.6 511.9,641.6 513.4,639.9 514.8,634.3 516.2,636.0 517.7,634.0 519.1,633.0 520.6,626.6 522.0,630.2 523.5,623.3 524.9,619.2 526.4,622.7 527.8,620.1 529.3,616.9 530.7,612.9 532.2,612.7 533.6,608.5 535.1,615.5 536.5,629.6 537.9,643.5 539.4,654.5 540.8,661.3 542.3,662.4 543.7,662.6 545.2,660.7 546.6,657.0 548.1,656.1 549.5,656.4 551.0,654.7 552.4,647.1 553.9,645.2 555.3,637.9 556.8,633.7 558.2,630.1 559.6,624.6 561.1,629.0 562.5,630.4 564.0,637.3 565.4,639.4 566.9,644.8 568.3,648.1 569.8,648.0 571.2,647.3 572.7,647.9 574.1,648.8 575.6,649.8 577.0,651.5 578.5,648.2 579.9,646.2 581.3,644.7 582.8,640.8 584.2,636.8 585.7,632.1 587.1,631.3 588.6,633.3 590.0,637.2 591.5,636.6 592.9,645.2 594.4,643.7 595.8,646.3 597.3,649.3 598.7,649.5 600.2,649.0 601.6,645.6 603.0,646.6 604.5,642.5 605.9,625.1 607.4,607.9 608.8,586.5 610.3,573.1 611.7,553.1 613.2,527.4 614.6,509.6" fill="none" stroke="#cdaaa8" stroke-width="2.0" stroke-linejoin="bevel"/>
<polyline points="109.7,629.8 111.2,641.4 112.6,654.5 114.1,664.6 115.5,670.2 117.0,669.4 118.4,673.2 119.9,671.6 121.3,670.7 122.7,664.2 124.2,664.3 125.6,663.7 127.1,671.2 128.5,668.7 130.0,666.8 131.4,672.7 132.9,676.9 134.3,669.0 135.8,668.5 137.2,669.4 138.7,668.8 140.1,666.0 141.6,671.2 143.0,667.5 144.4,663.4 145.9,667.7 147.3,666.4 148.8,666.1 150.2,663.5 151.7,668.5 153.1,665.7 154.6,664.0 156.0,663.8 157.5,669.2 158.9,666.5 160.4,668.0 161.8,666.9 163.3,664.5 164.7,670.0 166.1,665.5 167.6,660.5 169.0,657.5 170.5,642.1 171.9,611.6 173.4,575.8 174.8,559.9 176.3,576.5 177.7,608.1 179.2,633.1 180.6,645.6 182.1,653.6 183.5,656.2 185.0,653.1 186.4,659.5 187.8,655.2 189.3,656.4 190.7,660.2 192.2,659.5 193.6,659.2 195.1,661.9 196.5,663.5 198.0,660.7 199.4,661.0 200.9,660.1 202.3,664.4 203.8,661.8 205.2,662.6 206.7,660.7 208.1,663.4 209.5,665.0 211.0,662.4 212.4,666.5 213.9,665.2 215.3,663.7 216.8,661.1 218.2,666.4 219.7,665.2 221.1,665.9 222.6,669.8 224.0,665.8 225.5,668.5 226.9,668.7 228.4,668.5 229.8,672.1 231.2,672.8 232.7,668.5 234.1,672.8 235.6,672.1 237.0,672.9 238.5,676.6 239.9,677.2 241.4,669.5 242.8,671.7 244.3,670.3 245.7,666.3 247.2,663.3 248.6,663.7 250.1,665.2 251.5,662.3 252.9,665.3 254.4,662.7 255.8,663.7 257.3,664.7 258.7,661.2 260.2,661.3 261.6,663.0 263.1,663.1 264.5,661.7 266.0,660.0 267.4,659.1 268.9,662.9 270.3,660.6 271.8,659.8 273.2,667.4 274.6,668.8 276.1,674.9 277.5,675.4 279.0,672.3 280.4,671.3 281.9,668.1 283.3,667.4 284.8,667.5 286.2,662.6 287.7,655.2 289.1,651.0 290.6,629.0 292.0,624.4 293.5,631.7 294.9,646.7 296.3,649.7 297.8,661.4 299.2,656.3 300.7,656.1 302.1,660.2 303.6,661.1 305.0,658.6 306.5,665.8 307.9,662.2 309.4,665.9 310.8,664.6 312.3,662.4 313.7,667.7 315.2,666.8 316.6,671.0 318.0,670.4 319.5,670.4 320.9,671.8 322.4,674.8 323.8,672.0 325.3,668.8 326.7,667.5 328.2,665.6 329.6,657.6 331.1,661.6 332.5,664.1 334.0,656.2 335.4,661.1 336.9,663.7 338.3,662.6 339.7,664.0 341.2,660.9 342.6,662.4 344.1,669.8 345.5,670.3 347.0,669.3 348.4,672.9 349.9,669.6 351.3,667.6 352.8,662.9 354.2,660.9 355.7,659.9 357.1,665.4 358.6,665.4 360.0,667.7 361.4,667.7 362.9,669.2 364.3,671.4 365.8,668.7 367.2,669.1 368.7,670.4 370.1,667.1 371.6,667.4 373.0,666.3 374.5,665.2 375.9,666.1 377.4,663.1 378.8,666.9 380.3,662.0 381.7,665.6 383.1,666.4 384.6,671.2 386.0,668.8 387.5,671.5 388.9,671.2 390.4,668.2 391.8,666.2 393.3,668.7 394.7,668.2 396.2,671.2 397.6,673.9 399.1,665.7 400.5,672.0 402.0,670.7 403.4,669.2 404.9,673.0 406.3,672.1 407.7,668.6 409.2,670.7 410.6,669.0 412.1,666.8 413.5,667.9 415.0,667.2 416.4,665.4 417.9,668.6 419.3,665.0 420.8,658.6 422.2,659.7 423.7,661.5 425.1,663.3 426.6,659.8 428.0,659.8 429.4,664.7 430.9,661.0 432.3,668.1 433.8,668.9 435.2,669.2 436.7,668.8 438.1,670.9 439.6,665.8 441.0,675.1 442.5,671.5 443.9,671.2 445.4,674.6 446.8,672.4 448.3,673.0 449.7,672.7 451.1,669.8 452.6,667.0 454.0,670.7 455.5,667.7 456.9,667.9 458.4,665.8 459.8,653.5 461.3,639.5 462.7,626.9 464.2,635.8 465.6,647.1 467.1,654.1 468.5,656.2 470.0,658.9 471.4,657.8 472.8,666.4 474.3,665.4 475.7,667.9 477.2,668.6 478.6,670.6 480.1,672.2 481.5,673.3 483.0,673.3 484.4,674.5 485.9,672.7 487.3,674.7 488.8,677.2 490.2,669.9 491.7,668.4 493.1,660.5 494.5,659.4 496.0,660.1 497.4,662.4 498.9,665.9 500.3,660.7 501.8,656.3 503.2,660.3 504.7,657.6 506.1,657.4 507.6,658.1 509.0,656.6 510.5,649.8 511.9,642.4 513.4,632.0 514.8,620.7 516.2,629.9 517.7,641.5 519.1,647.0 520.6,644.0 522.0,645.1 523.5,646.3 524.9,642.3 526.4,641.9 527.8,642.1 529.3,642.1 530.7,636.0 532.2,631.5 533.6,626.4 535.1,635.7 536.5,645.7 537.9,659.9 539.4,668.1 540.8,668.9 542.3,671.4 543.7,667.9 545.2,669.9 546.6,669.0 548.1,668.3 549.5,665.2 551.0,660.1 552.4,663.7 553.9,662.3 555.3,660.1 556.8,661.6 558.2,658.3 559.6,656.6 561.1,657.1 562.5,658.1 564.0,659.1 565.4,663.2 566.9,663.7 568.3,665.3 569.8,667.5 571.2,670.4 572.7,666.2 574.1,668.4 575.6,668.3 577.0,666.6 578.5,667.4 579.9,664.9 581.3,664.1 582.8,662.5 584.2,663.2 585.7,665.7 587.1,663.3 588.6,659.6 590.0,660.7 591.5,658.8 592.9,656.5 594.4,658.2 595.8,659.7 597.3,657.9 598.7,660.6 600.2,654.1 601.6,655.5 603.0,656.7 604.5,651.0 605.9,636.2 607.4,617.3 608.8,603.3 610.3,586.6 611.7,568.6 613.2,549.8 614.6,538.9" fill="none" stroke="#f2e614" stroke-width="2.4" stroke-linejoin="bevel"/>
<polyline points="109.7,629.0 111.2,639.7 112.6,651.4 114.1,663.4 115.5,668.2 117.0,672.2 118.4,668.9 119.9,668.2 121.3,664.4 122.7,662.8 124.2,660.8 125.6,664.0 127.1,666.0 128.5,667.2 130.0,671.3 131.4,670.1 132.9,665.9 134.3,668.2 135.8,673.9 137.2,669.0 138.7,666.0 140.1,663.6 141.6,664.5 143.0,669.0 144.4,665.9 145.9,664.1 147.3,663.1 148.8,666.5 150.2,666.7 151.7,662.6 153.1,659.3 154.6,665.5 156.0,664.4 157.5,666.2 158.9,665.6 160.4,669.4 161.8,668.6 163.3,669.4 164.7,665.3 166.1,658.3 167.6,658.4 169.0,653.0 170.5,642.1 171.9,621.1 173.4,588.6 174.8,579.0 176.3,591.4 177.7,614.1 179.2,640.1 180.6,646.9 182.1,648.5 183.5,648.8 185.0,652.2 186.4,653.0 187.8,654.8 189.3,658.2 190.7,658.3 192.2,659.8 193.6,659.6 195.1,662.2 196.5,659.7 198.0,662.7 199.4,660.8 200.9,660.4 202.3,657.2 203.8,661.0 205.2,665.1 206.7,657.1 208.1,659.3 209.5,661.0 211.0,663.7 212.4,662.3 213.9,659.8 215.3,657.2 216.8,659.2 218.2,658.4 219.7,661.7 221.1,664.5 222.6,666.8 224.0,662.4 225.5,669.3 226.9,666.1 228.4,663.1 229.8,665.4 231.2,671.3 232.7,666.5 234.1,673.1 235.6,676.0 237.0,674.8 238.5,676.3 239.9,668.8 241.4,671.5 242.8,672.0 244.3,671.2 245.7,667.5 247.2,663.8 248.6,665.8 250.1,664.8 251.5,665.0 252.9,661.2 254.4,664.9 255.8,661.2 257.3,664.5 258.7,662.7 260.2,657.6 261.6,659.7 263.1,659.6 264.5,660.1 266.0,662.3 267.4,659.8 268.9,663.2 270.3,657.6 271.8,658.0 273.2,662.8 274.6,666.5 276.1,670.0 277.5,672.2 279.0,672.0 280.4,669.8 281.9,668.4 283.3,664.6 284.8,664.2 286.2,659.3 287.7,657.1 289.1,634.9 290.6,610.7 292.0,599.5 293.5,613.3 294.9,632.1 296.3,645.5 297.8,651.6 299.2,654.8 300.7,656.4 302.1,656.5 303.6,657.3 305.0,661.3 306.5,662.7 307.9,663.1 309.4,662.4 310.8,663.6 312.3,664.8 313.7,665.1 315.2,665.1 316.6,669.9 318.0,670.5 319.5,667.5 320.9,670.0 322.4,670.0 323.8,670.1 325.3,666.4 326.7,654.1 328.2,655.2 329.6,650.3 331.1,645.9 332.5,648.1 334.0,649.5 335.4,646.6 336.9,648.1 338.3,650.7 339.7,654.0 341.2,659.5 342.6,662.4 344.1,663.4 345.5,664.9 347.0,667.2 348.4,663.8 349.9,659.5 351.3,654.6 352.8,651.1 354.2,651.7 355.7,654.3 357.1,659.5 358.6,661.8 360.0,665.9 361.4,666.2 362.9,667.0 364.3,669.0 365.8,665.2 367.2,668.2 368.7,671.6 370.1,667.6 371.6,664.5 373.0,655.3 374.5,654.4 375.9,650.9 377.4,653.4 378.8,659.3 380.3,662.4 381.7,662.4 383.1,663.4 384.6,669.4 386.0,667.5 387.5,669.0 388.9,666.3 390.4,667.5 391.8,670.2 393.3,666.2 394.7,669.1 396.2,669.6 397.6,669.1 399.1,667.5 400.5,669.4 402.0,668.4 403.4,672.0 404.9,665.8 406.3,668.2 407.7,665.7 409.2,665.5 410.6,670.3 412.1,666.4 413.5,666.7 415.0,666.7 416.4,663.4 417.9,664.2 419.3,664.4 420.8,658.2 422.2,652.1 423.7,649.3 425.1,642.6 426.6,636.1 428.0,644.4 429.4,651.6 430.9,655.0 432.3,660.1 433.8,663.6 435.2,666.3 436.7,669.7 438.1,676.5 439.6,668.6 441.0,669.6 442.5,672.5 443.9,671.9 445.4,672.3 446.8,669.1 448.3,668.3 449.7,674.2 451.1,668.5 452.6,667.4 454.0,670.3 455.5,663.2 456.9,664.8 458.4,660.2 459.8,653.4 461.3,641.0 462.7,632.1 464.2,636.2 465.6,646.7 467.1,654.1 468.5,657.5 470.0,658.5 471.4,656.2 472.8,658.8 474.3,659.9 475.7,663.5 477.2,665.8 478.6,669.2 480.1,671.9 481.5,668.0 483.0,670.4 484.4,671.7 485.9,672.2 487.3,669.7 488.8,667.6 490.2,665.6 491.7,662.8 493.1,654.4 494.5,652.8 496.0,656.7 497.4,657.3 498.9,659.4 500.3,663.0 501.8,656.7 503.2,655.4 504.7,657.2 506.1,656.5 507.6,656.8 509.0,653.3 510.5,651.0 511.9,650.8 513.4,650.5 514.8,649.0 516.2,646.5 517.7,646.3 519.1,644.8 520.6,645.2 522.0,642.1 523.5,642.2 524.9,644.1 526.4,638.4 527.8,638.1 529.3,632.7 530.7,626.4 532.2,626.1 533.6,622.9 535.1,625.1 536.5,642.2 537.9,655.8 539.4,667.4 540.8,672.9 542.3,673.1 543.7,670.5 545.2,669.1 546.6,669.8 548.1,667.4 549.5,666.7 551.0,666.5 552.4,662.5 553.9,660.9 555.3,654.9 556.8,656.0 558.2,654.9 559.6,654.7 561.1,654.4 562.5,657.3 564.0,660.2 565.4,665.2 566.9,663.6 568.3,661.7 569.8,665.1 571.2,662.2 572.7,665.2 574.1,663.0 575.6,665.3 577.0,666.8 578.5,664.7 579.9,661.7 581.3,666.1 582.8,666.7 584.2,662.7 585.7,661.0 587.1,663.0 588.6,661.6 590.0,660.2 591.5,660.7 592.9,657.1 594.4,658.2 595.8,657.4 597.3,659.0 598.7,655.7 600.2,658.3 601.6,654.4 603.0,651.1 604.5,652.3 605.9,636.2 607.4,617.2 608.8,608.2 610.3,591.8 611.7,576.1 613.2,565.9 614.6,549.7" fill="none" stroke="#6acbdc" stroke-width="2.4" stroke-linejoin="bevel"/>
<polyline points="109.7,625.0 111.2,642.3 112.6,650.7 114.1,664.8 115.5,667.7 117.0,675.6 118.4,673.4 119.9,669.5 121.3,666.0 122.7,665.4 124.2,662.1 125.6,665.2 127.1,669.2 128.5,669.8 130.0,670.5 131.4,671.5 132.9,671.3 134.3,671.0 135.8,669.5 137.2,670.7 138.7,665.9 140.1,667.8 141.6,669.9 143.0,663.5 144.4,667.1 145.9,670.4 147.3,669.1 148.8,665.4 150.2,667.3 151.7,663.7 153.1,666.7 154.6,664.1 156.0,668.5 157.5,663.9 158.9,666.0 160.4,667.5 161.8,667.2 163.3,666.5 164.7,665.7 166.1,666.9 167.6,660.2 169.0,655.3 170.5,647.7 171.9,637.5 173.4,629.7 174.8,620.3 176.3,627.6 177.7,635.6 179.2,645.9 180.6,647.0 182.1,651.4 183.5,653.0 185.0,657.3 186.4,656.4 187.8,655.0 189.3,655.9 190.7,660.1 192.2,658.5 193.6,661.7 195.1,663.3 196.5,660.4 198.0,659.1 199.4,662.0 200.9,664.4 202.3,658.9 203.8,662.1 205.2,662.6 206.7,660.8 208.1,663.0 209.5,666.2 211.0,663.9 212.4,663.0 213.9,661.2 215.3,663.8 216.8,664.0 218.2,664.9 219.7,665.9 221.1,664.8 222.6,665.0 224.0,668.1 225.5,666.0 226.9,669.7 228.4,666.9 229.8,672.6 231.2,674.5 232.7,672.6 234.1,669.7 235.6,673.9 237.0,672.6 238.5,677.9 239.9,675.6 241.4,673.7 242.8,669.6 244.3,666.9 245.7,662.7 247.2,666.2 248.6,660.8 250.1,664.6 251.5,663.8 252.9,664.3 254.4,665.6 255.8,661.1 257.3,663.4 258.7,662.2 260.2,662.5 261.6,665.9 263.1,659.9 264.5,662.8 266.0,661.4 267.4,660.5 268.9,662.6 270.3,661.8 271.8,661.4 273.2,662.5 274.6,667.8 276.1,672.1 277.5,675.1 279.0,671.8 280.4,670.8 281.9,665.5 283.3,668.1 284.8,668.4 286.2,663.7 287.7,653.5 289.1,635.2 290.6,604.2 292.0,592.8 293.5,604.3 294.9,629.4 296.3,650.9 297.8,652.4 299.2,656.3 300.7,659.2 302.1,661.3 303.6,662.0 305.0,659.1 306.5,662.6 307.9,659.6 309.4,664.8 310.8,667.1 312.3,664.8 313.7,664.6 315.2,667.8 316.6,664.7 318.0,669.2 319.5,672.9 320.9,671.9 322.4,676.3 323.8,671.5 325.3,669.7 326.7,667.8 328.2,662.3 329.6,663.2 331.1,663.8 332.5,664.2 334.0,660.7 335.4,663.9 336.9,663.0 338.3,660.4 339.7,661.2 341.2,665.1 342.6,665.6 344.1,667.8 345.5,666.8 347.0,672.4 348.4,674.4 349.9,669.9 351.3,673.0 352.8,665.2 354.2,663.0 355.7,662.5 357.1,667.2 358.6,662.4 360.0,666.8 361.4,669.3 362.9,673.8 364.3,669.0 365.8,669.2 367.2,670.8 368.7,667.7 370.1,667.6 371.6,667.4 373.0,666.4 374.5,666.9 375.9,669.1 377.4,664.3 378.8,668.1 380.3,668.5 381.7,671.0 383.1,669.8 384.6,670.6 386.0,671.1 387.5,668.9 388.9,668.2 390.4,668.6 391.8,672.6 393.3,671.0 394.7,670.0 396.2,670.7 397.6,666.5 399.1,669.1 400.5,668.4 402.0,665.3 403.4,671.3 404.9,670.6 406.3,670.4 407.7,667.1 409.2,668.2 410.6,668.7 412.1,666.4 413.5,668.1 415.0,666.6 416.4,668.5 417.9,663.9 419.3,661.6 420.8,660.1 422.2,658.0 423.7,649.0 425.1,644.8 426.6,640.0 428.0,641.5 429.4,651.7 430.9,658.5 432.3,660.7 433.8,671.3 435.2,670.6 436.7,672.6 438.1,671.6 439.6,670.7 441.0,670.7 442.5,673.0 443.9,672.8 445.4,674.4 446.8,671.6 448.3,670.8 449.7,671.3 451.1,669.2 452.6,667.6 454.0,668.8 455.5,665.7 456.9,668.7 458.4,663.1 459.8,654.1 461.3,639.6 462.7,635.6 464.2,636.7 465.6,648.2 467.1,653.2 468.5,657.0 470.0,661.0 471.4,656.1 472.8,661.0 474.3,664.0 475.7,666.9 477.2,667.8 478.6,672.6 480.1,673.7 481.5,672.8 483.0,674.0 484.4,676.0 485.9,672.6 487.3,676.7 488.8,675.1 490.2,674.7 491.7,663.5 493.1,642.9 494.5,624.9 496.0,634.8 497.4,657.8 498.9,660.8 500.3,661.2 501.8,661.3 503.2,661.5 504.7,655.3 506.1,657.1 507.6,656.2 509.0,653.3 510.5,649.8 511.9,652.4 513.4,653.7 514.8,651.4 516.2,647.4 517.7,645.4 519.1,650.1 520.6,645.3 522.0,646.8 523.5,647.2 524.9,644.7 526.4,642.7 527.8,642.6 529.3,638.7 530.7,632.9 532.2,625.3 533.6,623.8 535.1,637.2 536.5,648.6 537.9,653.9 539.4,668.3 540.8,674.8 542.3,672.1 543.7,670.8 545.2,671.1 546.6,673.5 548.1,670.5 549.5,666.9 551.0,665.3 552.4,663.0 553.9,661.3 555.3,663.3 556.8,657.2 558.2,658.3 559.6,656.9 561.1,658.0 562.5,661.8 564.0,663.8 565.4,663.1 566.9,665.6 568.3,664.7 569.8,663.2 571.2,663.4 572.7,665.6 574.1,667.0 575.6,667.8 577.0,665.2 578.5,663.8 579.9,668.4 581.3,665.8 582.8,664.8 584.2,664.6 585.7,665.5 587.1,659.3 588.6,660.5 590.0,663.9 591.5,660.4 592.9,660.0 594.4,657.2 595.8,660.7 597.3,661.7 598.7,659.1 600.2,654.5 601.6,656.5 603.0,654.5 604.5,654.1 605.9,640.0 607.4,624.9 608.8,610.0 610.3,601.5 611.7,592.3 613.2,582.4 614.6,561.5" fill="none" stroke="#68bc45" stroke-width="2.4" stroke-linejoin="bevel"/>
</g>
<path d="M181.3 302.8v-13M181.3 27.3v13M253.7 302.8v-26.5M253.7 27.3v26.5M326.0 302.8v-13M326.0 27.3v13M398.4 302.8v-26.5M398.4 27.3v26.5M470.7 302.8v-13M470.7 27.3v13M543.0 302.8v-26.5M543.0 27.3v26.5M615.4 302.8v-13M615.4 27.3v13M110.2 275.4h13.5M687.9 275.4h-13.5M110.2 247.9h26.5M687.9 247.9h-26.5M110.2 220.3h13.5M687.9 220.3h-13.5M110.2 192.7h26.5M687.9 192.7h-26.5M110.2 165.2h13.5M687.9 165.2h-13.5M110.2 137.6h26.5M687.9 137.6h-26.5M110.2 110.0h13.5M687.9 110.0h-13.5M110.2 82.4h26.5M687.9 82.4h-26.5M110.2 54.9h13.5M687.9 54.9h-13.5" stroke="#000" stroke-width="1.8" fill="none"/>
<path d="M109.4 27.3H688.6999999999999M109.4 302.8H688.6999999999999" stroke="#000" stroke-width="2.0" fill="none"/>
<path d="M110.2 27.3V302.8" stroke="#555" stroke-width="1.7" fill="none"/>
<path d="M687.9 27.3V302.8" stroke="#000" stroke-width="2.0" fill="none"/>
<path d="M933.4 302.9v-13M1005.7 302.9v-26.5M1078.0 302.9v-13M1150.4 302.9v-26.5M1222.8 302.9v-13M1295.1 302.9v-26.5M1367.4 302.9v-13M860.9 279.9h13.5M1439.9 279.9h-13.5M860.9 257.0h26.5M1439.9 257.0h-26.5M860.9 234.0h13.5M1439.9 234.0h-13.5M860.9 211.0h26.5M1439.9 211.0h-26.5M860.9 188.1h13.5M1439.9 188.1h-13.5M860.9 165.1h26.5M1439.9 165.1h-26.5M860.9 142.1h13.5M1439.9 142.1h-13.5M860.9 119.2h26.5M1439.9 119.2h-26.5M860.9 96.2h13.5M1439.9 96.2h-13.5M860.9 73.2h26.5M1439.9 73.2h-26.5M860.9 50.3h13.5M1439.9 50.3h-13.5" stroke="#000" stroke-width="1.8" fill="none"/>
<path d="M860.1 27.1H1440.7M860.1 302.9H1440.7" stroke="#000" stroke-width="2.0" fill="none"/>
<path d="M860.9 27.1V302.9" stroke="#000" stroke-width="2.0" fill="none"/>
<path d="M1439.9 27.1V302.9" stroke="#555" stroke-width="1.7" fill="none"/>
<path d="M181.3 689.2v-13M181.3 413.6v13M253.7 689.2v-26.5M253.7 413.6v26.5M326.0 689.2v-13M326.0 413.6v13M398.3 689.2v-26.5M398.3 413.6v26.5M470.7 689.2v-13M470.7 413.6v13M543.0 689.2v-26.5M543.0 413.6v26.5M615.3 689.2v-13M615.3 413.6v13M110.0 658.9h13.5M687.8 658.9h-13.5M110.0 628.3h26.5M687.8 628.3h-26.5M110.0 597.7h13.5M687.8 597.7h-13.5M110.0 567.1h26.5M687.8 567.1h-26.5M110.0 536.6h13.5M687.8 536.6h-13.5M110.0 506.0h26.5M687.8 506.0h-26.5M110.0 475.4h13.5M687.8 475.4h-13.5M110.0 444.8h26.5M687.8 444.8h-26.5" stroke="#000" stroke-width="1.8" fill="none"/>
<path d="M109.2 413.6H688.5999999999999M109.2 689.2H688.5999999999999" stroke="#000" stroke-width="2.0" fill="none"/>
<path d="M110.0 413.6V689.2" stroke="#555" stroke-width="1.7" fill="none"/>
<path d="M687.8 413.6V689.2" stroke="#000" stroke-width="2.0" fill="none"/>
<g fill="#000" stroke="#000" stroke-width="0.6" style="filter:grayscale(1)">
<text x="19.75" y="33" text-anchor="middle" font-size="41" >a</text>
<text x="96.6" y="315.8" text-anchor="end" font-size="37.5" >0</text>
<text x="96.6" y="260.7" text-anchor="end" font-size="37.5" >0.1</text>
<text x="96.6" y="205.5" text-anchor="end" font-size="37.5" >0.2</text>
<text x="96.6" y="150.4" text-anchor="end" font-size="37.5" >0.3</text>
<text x="96.6" y="95.2" text-anchor="end" font-size="37.5" >0.4</text>
<text x="96.6" y="40.1" text-anchor="end" font-size="37.5" >0.5</text>
<text x="109.0" y="341.2" text-anchor="middle" font-size="37.5" >0</text>
<text x="253.7" y="341.2" text-anchor="middle" font-size="37.5" >50</text>
<text x="398.4" y="341.2" text-anchor="middle" font-size="37.5" >100</text>
<text x="543.0" y="341.2" text-anchor="middle" font-size="37.5" >150</text>
<text x="687.7" y="341.2" text-anchor="middle" font-size="37.5" >200</text>
<text x="398.75" y="381.5" text-anchor="middle" font-size="38" >Time (ns)</text>
<text x="31" y="164" text-anchor="middle" font-size="38" transform="rotate(-90 31 164)">RMSD (nm)</text>
<text x="754.2" y="34" text-anchor="middle" font-size="41" >b</text>
<text x="849.3" y="314.7" text-anchor="end" font-size="37.5" >1.9</text>
<text x="849.3" y="268.8" text-anchor="end" font-size="37.5" >1.95</text>
<text x="849.3" y="222.8" text-anchor="end" font-size="37.5" >2</text>
<text x="849.3" y="176.9" text-anchor="end" font-size="37.5" >2.05</text>
<text x="849.3" y="131.0" text-anchor="end" font-size="37.5" >2.1</text>
<text x="849.3" y="85.0" text-anchor="end" font-size="37.5" >2.15</text>
<text x="849.3" y="39.1" text-anchor="end" font-size="37.5" >2.2</text>
<text x="861.0" y="341.2" text-anchor="middle" font-size="37.5" >0</text>
<text x="1005.7" y="341.2" text-anchor="middle" font-size="37.5" >50000</text>
<text x="1150.4" y="341.2" text-anchor="middle" font-size="37.5" >1e+005</text>
<text x="1295.1" y="341.2" text-anchor="middle" font-size="37.5" >1.5e+005</text>
<text x="1439.8" y="341.2" text-anchor="middle" font-size="37.5" >2e+005</text>
<text x="1150.5" y="381.5" text-anchor="middle" font-size="38" >Time (ps)</text>
<text x="762.5" y="164.3" text-anchor="middle" font-size="38" transform="rotate(-90 762.5 164.3)">Rg (nm)</text>
<text x="18.95" y="423.5" text-anchor="middle" font-size="41" >c</text>
<text x="96.6" y="702.3" text-anchor="end" font-size="37.5" >0</text>
<text x="96.6" y="641.1" text-anchor="end" font-size="37.5" >0.2</text>
<text x="96.6" y="579.9" text-anchor="end" font-size="37.5" >0.4</text>
<text x="96.6" y="518.8" text-anchor="end" font-size="37.5" >0.6</text>
<text x="96.6" y="457.6" text-anchor="end" font-size="37.5" >0.8</text>
<text x="109.0" y="727" text-anchor="middle" font-size="37.5" >0</text>
<text x="253.7" y="727" text-anchor="middle" font-size="37.5" >100</text>
<text x="398.3" y="727" text-anchor="middle" font-size="37.5" >200</text>
<text x="543.0" y="727" text-anchor="middle" font-size="37.5" >300</text>
<text x="687.7" y="727" text-anchor="middle" font-size="37.5" >400</text>
<text x="398.75" y="768" text-anchor="middle" font-size="38" >Residue</text>
<text x="31" y="550.5" text-anchor="middle" font-size="38" transform="rotate(-90 31 550.5)">RMSF(nm)</text>
<text x="902.8" y="457.7" text-anchor="start" font-size="37" >Compound 4 - GPD1</text>
<text x="902.8" y="513.9" text-anchor="start" font-size="37" >ZINC000049780570 - GPD1</text>
<text x="902.8" y="566.9" text-anchor="start" font-size="37" >ZINC000058282139 - GPD1</text>
<text x="902.8" y="620.7" text-anchor="start" font-size="37" >ZINC000077257642 - GPD1</text>
<text x="902.8" y="673.9" text-anchor="start" font-size="37" >ZINC000225627518 - GPD1</text>
<text x="902.8" y="726.1" text-anchor="start" font-size="37" >ZINC000585101368 - GPD1</text>
</g>
<rect x="793.5" y="447.6" width="74.3" height="7.5" fill="#ec2027"/>
<rect x="793.5" y="500.7" width="74.3" height="7.5" fill="#3853a4"/>
<rect x="793.5" y="553.8" width="74.3" height="7.5" fill="#bb8e8a"/>
<rect x="793.5" y="606.9" width="74.3" height="7.5" fill="#f2e614"/>
<rect x="793.5" y="660.0" width="74.3" height="7.5" fill="#6acbdc"/>
<rect x="793.5" y="713.0" width="74.3" height="7.5" fill="#68bc45"/>
</g></svg></body></html>
